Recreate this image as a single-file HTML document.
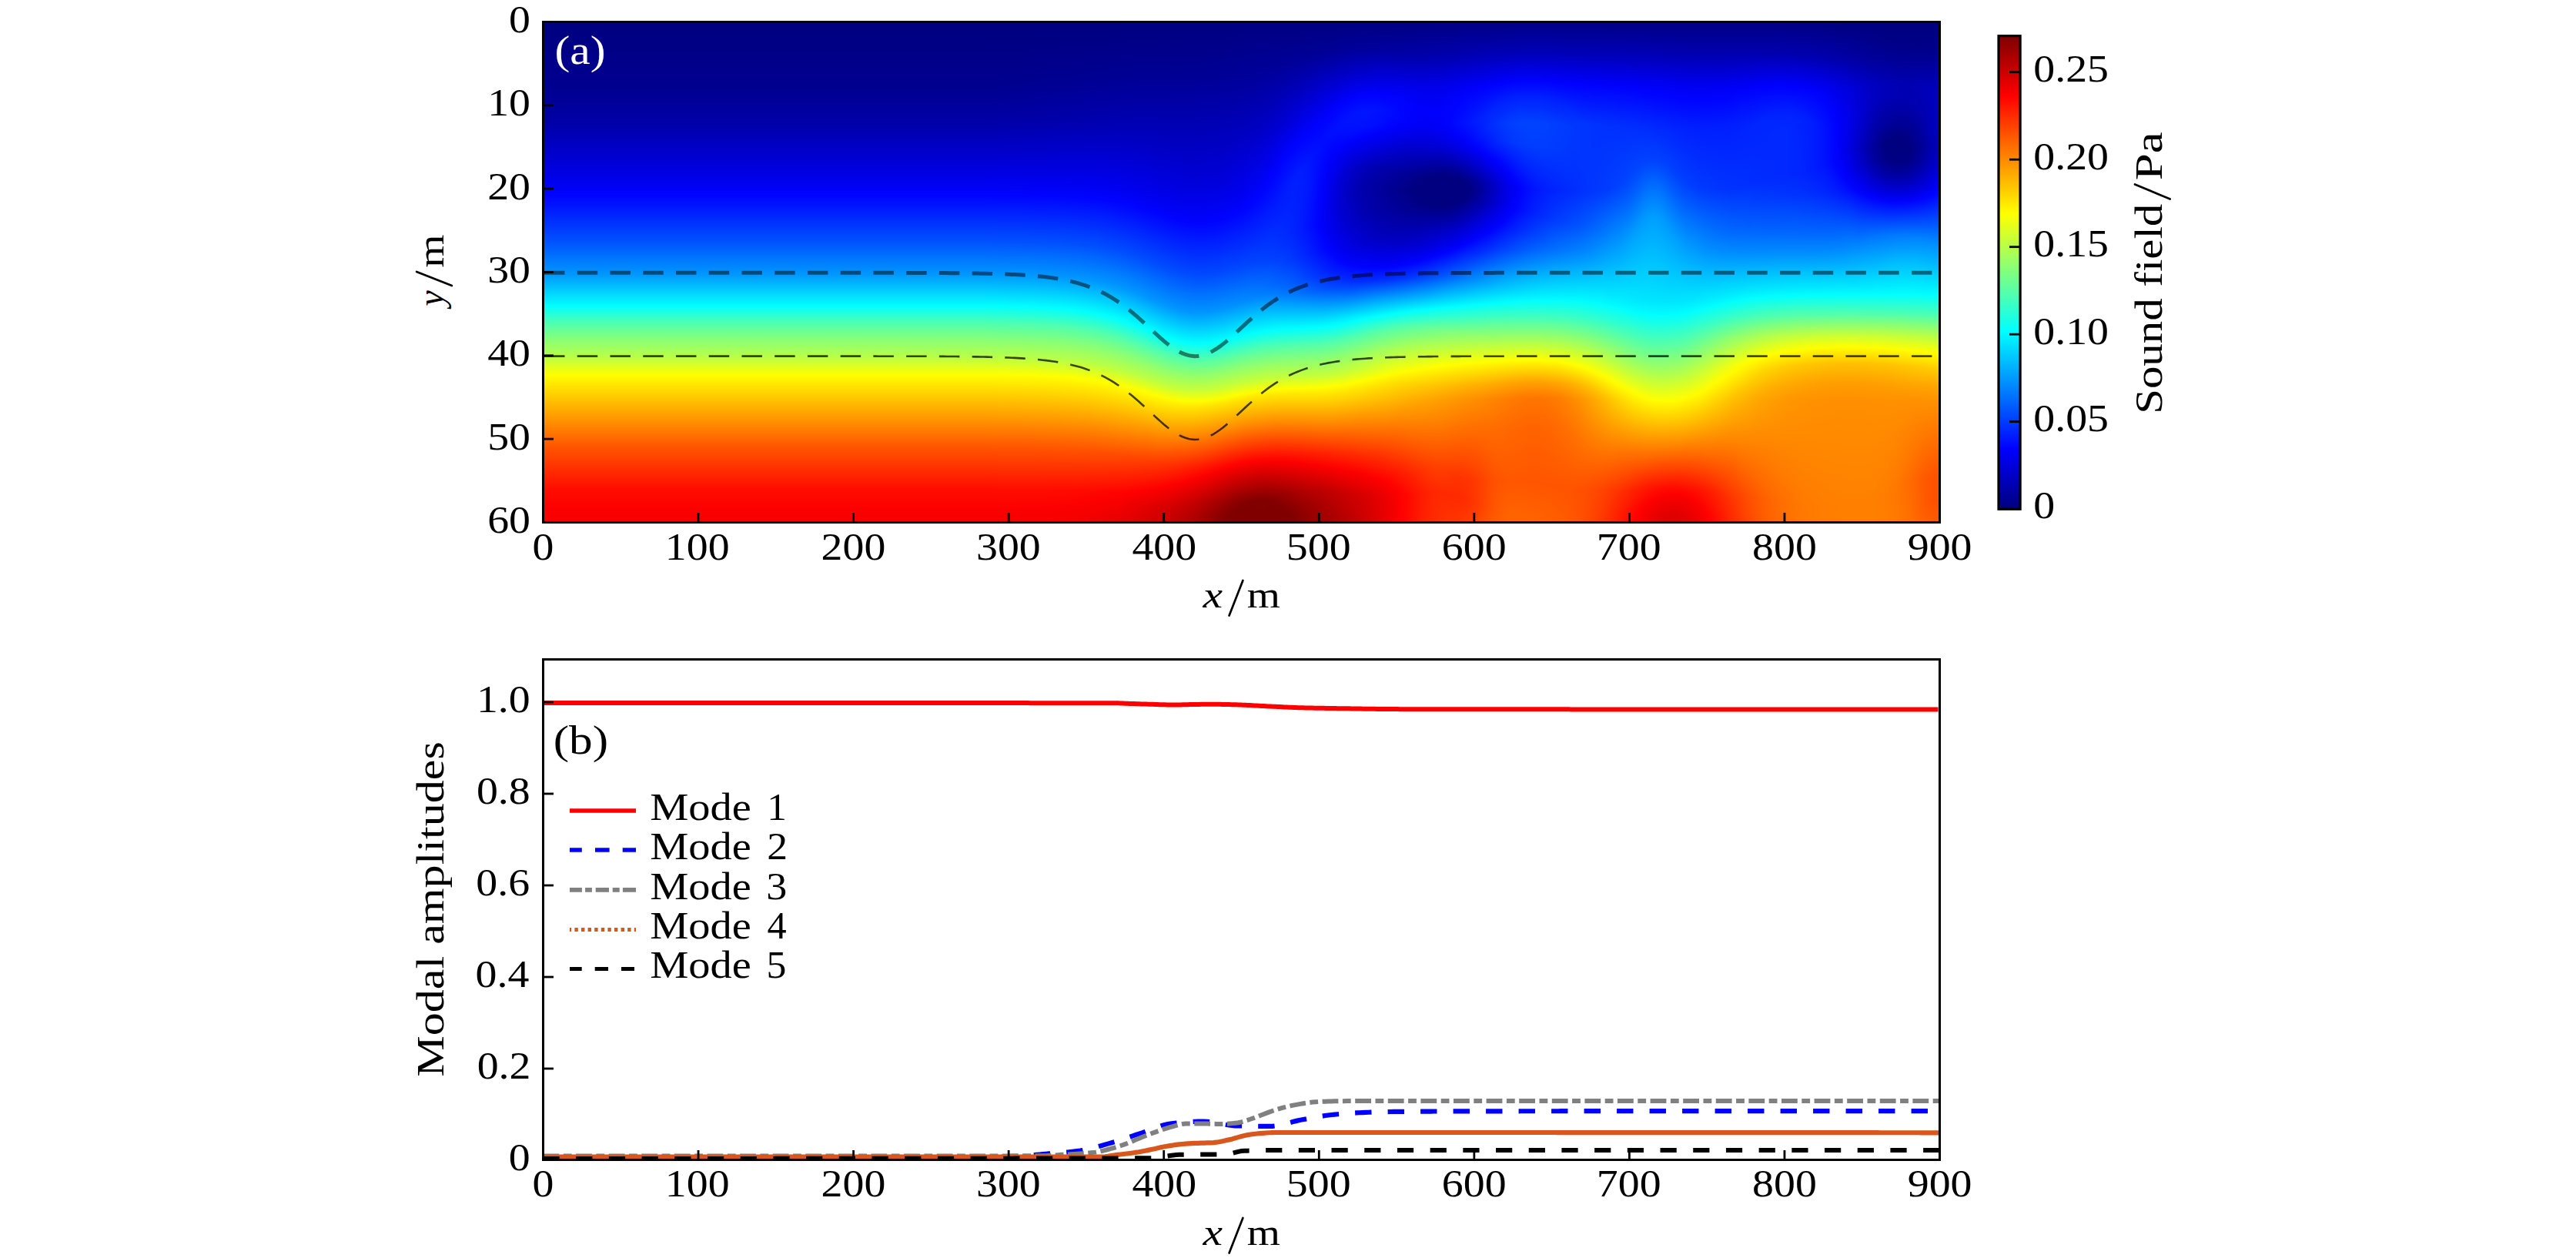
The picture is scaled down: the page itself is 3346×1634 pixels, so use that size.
<!DOCTYPE html><html><head><meta charset="utf-8"><title>Sound field and modal amplitudes</title><style>html,body{margin:0;padding:0;background:#fff;overflow:hidden}svg{display:block}text{font-family:"Liberation Serif",serif}</style></head><body><svg width="3346" height="1634" viewBox="0 0 3346 1634"><rect width="3346" height="1634" fill="#fff"/><defs><linearGradient id="g0" x2="0" y2="1"><stop offset="0.0000" stop-color="#000080"/><stop offset="0.1306" stop-color="#000090"/><stop offset="0.1955" stop-color="#0000a6"/><stop offset="0.3037" stop-color="#0000e4"/><stop offset="0.3454" stop-color="#0003ff"/><stop offset="0.4351" stop-color="#004eff"/><stop offset="0.5046" stop-color="#0097ff"/><stop offset="0.5680" stop-color="#02fffd"/><stop offset="0.6020" stop-color="#4effb1"/><stop offset="0.6360" stop-color="#89ff76"/><stop offset="0.6716" stop-color="#bbff44"/><stop offset="0.7056" stop-color="#fffe00"/><stop offset="0.7890" stop-color="#ff9d00"/><stop offset="0.8509" stop-color="#ff5500"/><stop offset="0.9359" stop-color="#ff0c00"/><stop offset="0.9760" stop-color="#fc0000"/><stop offset="1.0000" stop-color="#f70000"/></linearGradient><linearGradient id="g1" x2="0" y2="1"><stop offset="0.0000" stop-color="#000080"/><stop offset="0.1275" stop-color="#000090"/><stop offset="0.1955" stop-color="#0000a7"/><stop offset="0.3053" stop-color="#0000e6"/><stop offset="0.3454" stop-color="#0003ff"/><stop offset="0.4366" stop-color="#004fff"/><stop offset="0.5046" stop-color="#0096ff"/><stop offset="0.5680" stop-color="#00ffff"/><stop offset="0.6036" stop-color="#4fffb0"/><stop offset="0.6360" stop-color="#88ff77"/><stop offset="0.6716" stop-color="#b9ff46"/><stop offset="0.7056" stop-color="#fffe00"/><stop offset="0.7875" stop-color="#ffa000"/><stop offset="0.8509" stop-color="#ff5600"/><stop offset="0.9359" stop-color="#ff0d00"/><stop offset="0.9760" stop-color="#fc0000"/><stop offset="1.0000" stop-color="#f70000"/></linearGradient><linearGradient id="g2" x2="0" y2="1"><stop offset="0.0000" stop-color="#000080"/><stop offset="0.1260" stop-color="#000090"/><stop offset="0.1955" stop-color="#0000a7"/><stop offset="0.3068" stop-color="#0000e7"/><stop offset="0.3454" stop-color="#0003ff"/><stop offset="0.4366" stop-color="#004fff"/><stop offset="0.5062" stop-color="#0098ff"/><stop offset="0.5680" stop-color="#00ffff"/><stop offset="0.6036" stop-color="#4fffb0"/><stop offset="0.6376" stop-color="#8aff75"/><stop offset="0.6716" stop-color="#b9ff46"/><stop offset="0.7056" stop-color="#ffff00"/><stop offset="0.7890" stop-color="#ff9e00"/><stop offset="0.8509" stop-color="#ff5600"/><stop offset="0.9359" stop-color="#ff0d00"/><stop offset="0.9760" stop-color="#fc0000"/><stop offset="1.0000" stop-color="#f70000"/></linearGradient><linearGradient id="g3" x2="0" y2="1"><stop offset="0.0000" stop-color="#000080"/><stop offset="0.1260" stop-color="#000090"/><stop offset="0.1955" stop-color="#0000a8"/><stop offset="0.3068" stop-color="#0000e7"/><stop offset="0.3454" stop-color="#0003ff"/><stop offset="0.4366" stop-color="#004eff"/><stop offset="0.5062" stop-color="#0098ff"/><stop offset="0.5680" stop-color="#00ffff"/><stop offset="0.6036" stop-color="#4fffb0"/><stop offset="0.6376" stop-color="#89ff76"/><stop offset="0.6731" stop-color="#bcff43"/><stop offset="0.7056" stop-color="#ffff00"/><stop offset="0.7875" stop-color="#ffa000"/><stop offset="0.8509" stop-color="#ff5600"/><stop offset="0.9359" stop-color="#ff0d00"/><stop offset="0.9760" stop-color="#fc0000"/><stop offset="1.0000" stop-color="#f70000"/></linearGradient><linearGradient id="g4" x2="0" y2="1"><stop offset="0.0000" stop-color="#000080"/><stop offset="0.1244" stop-color="#000090"/><stop offset="0.1955" stop-color="#0000a8"/><stop offset="0.3068" stop-color="#0000e7"/><stop offset="0.3454" stop-color="#0003ff"/><stop offset="0.4366" stop-color="#004eff"/><stop offset="0.5062" stop-color="#0098ff"/><stop offset="0.5696" stop-color="#03fffc"/><stop offset="0.6036" stop-color="#4fffb0"/><stop offset="0.6376" stop-color="#89ff76"/><stop offset="0.6731" stop-color="#bcff43"/><stop offset="0.7056" stop-color="#ffff00"/><stop offset="0.7875" stop-color="#ffa000"/><stop offset="0.8509" stop-color="#ff5600"/><stop offset="0.9359" stop-color="#ff0d00"/><stop offset="0.9760" stop-color="#fc0000"/><stop offset="1.0000" stop-color="#f70000"/></linearGradient><linearGradient id="g5" x2="0" y2="1"><stop offset="0.0000" stop-color="#000080"/><stop offset="0.1244" stop-color="#000090"/><stop offset="0.1955" stop-color="#0000a8"/><stop offset="0.3068" stop-color="#0000e7"/><stop offset="0.3454" stop-color="#0003ff"/><stop offset="0.4366" stop-color="#004eff"/><stop offset="0.5062" stop-color="#0098ff"/><stop offset="0.5696" stop-color="#02fffd"/><stop offset="0.6036" stop-color="#4effb1"/><stop offset="0.6376" stop-color="#89ff76"/><stop offset="0.6731" stop-color="#bbff44"/><stop offset="0.7071" stop-color="#fffd00"/><stop offset="0.7906" stop-color="#ff9c00"/><stop offset="0.8509" stop-color="#ff5600"/><stop offset="0.9359" stop-color="#ff0d00"/><stop offset="0.9760" stop-color="#fc0000"/><stop offset="1.0000" stop-color="#f70000"/></linearGradient><linearGradient id="g6" x2="0" y2="1"><stop offset="0.0000" stop-color="#000080"/><stop offset="0.1229" stop-color="#000090"/><stop offset="0.1955" stop-color="#0000a8"/><stop offset="0.3083" stop-color="#0000e8"/><stop offset="0.3454" stop-color="#0003ff"/><stop offset="0.4366" stop-color="#004eff"/><stop offset="0.5062" stop-color="#0097ff"/><stop offset="0.5696" stop-color="#02fffd"/><stop offset="0.6036" stop-color="#4effb1"/><stop offset="0.6376" stop-color="#89ff76"/><stop offset="0.6731" stop-color="#bbff44"/><stop offset="0.7071" stop-color="#fffe00"/><stop offset="0.7890" stop-color="#ff9e00"/><stop offset="0.8509" stop-color="#ff5600"/><stop offset="0.9359" stop-color="#ff0d00"/><stop offset="0.9760" stop-color="#fc0000"/><stop offset="1.0000" stop-color="#f70000"/></linearGradient><linearGradient id="g7" x2="0" y2="1"><stop offset="0.0000" stop-color="#000080"/><stop offset="0.1213" stop-color="#000090"/><stop offset="0.1955" stop-color="#0000a8"/><stop offset="0.3083" stop-color="#0000e8"/><stop offset="0.3454" stop-color="#0003ff"/><stop offset="0.4366" stop-color="#004eff"/><stop offset="0.5062" stop-color="#0097ff"/><stop offset="0.5696" stop-color="#01fffe"/><stop offset="0.6051" stop-color="#50ffaf"/><stop offset="0.6391" stop-color="#8aff75"/><stop offset="0.6731" stop-color="#baff45"/><stop offset="0.7071" stop-color="#fffe00"/><stop offset="0.7890" stop-color="#ff9f00"/><stop offset="0.8509" stop-color="#ff5600"/><stop offset="0.9359" stop-color="#ff0d00"/><stop offset="0.9745" stop-color="#fc0000"/><stop offset="1.0000" stop-color="#f60000"/></linearGradient><linearGradient id="g8" x2="0" y2="1"><stop offset="0.0000" stop-color="#000080"/><stop offset="0.1213" stop-color="#000090"/><stop offset="0.1955" stop-color="#0000a9"/><stop offset="0.3099" stop-color="#0000e9"/><stop offset="0.3454" stop-color="#0003ff"/><stop offset="0.4366" stop-color="#004eff"/><stop offset="0.5062" stop-color="#0097ff"/><stop offset="0.5696" stop-color="#01fffe"/><stop offset="0.6051" stop-color="#50ffaf"/><stop offset="0.6391" stop-color="#8aff75"/><stop offset="0.6731" stop-color="#baff45"/><stop offset="0.7071" stop-color="#fffe00"/><stop offset="0.7875" stop-color="#ffa100"/><stop offset="0.8509" stop-color="#ff5600"/><stop offset="0.9359" stop-color="#ff0d00"/><stop offset="0.9745" stop-color="#fc0000"/><stop offset="1.0000" stop-color="#f60000"/></linearGradient><linearGradient id="g9" x2="0" y2="1"><stop offset="0.0000" stop-color="#000080"/><stop offset="0.1198" stop-color="#000090"/><stop offset="0.1955" stop-color="#0000a9"/><stop offset="0.3099" stop-color="#0000e9"/><stop offset="0.3454" stop-color="#0002ff"/><stop offset="0.4366" stop-color="#004dff"/><stop offset="0.5077" stop-color="#0099ff"/><stop offset="0.5696" stop-color="#00ffff"/><stop offset="0.6051" stop-color="#4fffb0"/><stop offset="0.6391" stop-color="#8aff75"/><stop offset="0.6731" stop-color="#b9ff46"/><stop offset="0.7071" stop-color="#fffe00"/><stop offset="0.7890" stop-color="#ff9f00"/><stop offset="0.8509" stop-color="#ff5600"/><stop offset="0.9359" stop-color="#ff0d00"/><stop offset="0.9745" stop-color="#fc0000"/><stop offset="1.0000" stop-color="#f60000"/></linearGradient><linearGradient id="g10" x2="0" y2="1"><stop offset="0.0000" stop-color="#000080"/><stop offset="0.1198" stop-color="#000091"/><stop offset="0.1955" stop-color="#0000a9"/><stop offset="0.3099" stop-color="#0000e9"/><stop offset="0.3454" stop-color="#0002ff"/><stop offset="0.4382" stop-color="#004fff"/><stop offset="0.5077" stop-color="#0098ff"/><stop offset="0.5711" stop-color="#03fffc"/><stop offset="0.6051" stop-color="#4fffb0"/><stop offset="0.6391" stop-color="#89ff76"/><stop offset="0.6747" stop-color="#bcff43"/><stop offset="0.7071" stop-color="#ffff00"/><stop offset="0.7890" stop-color="#ff9f00"/><stop offset="0.8509" stop-color="#ff5700"/><stop offset="0.9359" stop-color="#ff0d00"/><stop offset="0.9745" stop-color="#fc0000"/><stop offset="1.0000" stop-color="#f60000"/></linearGradient><linearGradient id="g11" x2="0" y2="1"><stop offset="0.0000" stop-color="#000080"/><stop offset="0.1182" stop-color="#000091"/><stop offset="0.1955" stop-color="#0000aa"/><stop offset="0.3099" stop-color="#0000e9"/><stop offset="0.3470" stop-color="#0003ff"/><stop offset="0.4382" stop-color="#004eff"/><stop offset="0.5077" stop-color="#0097ff"/><stop offset="0.5711" stop-color="#02fffd"/><stop offset="0.6051" stop-color="#4effb1"/><stop offset="0.6391" stop-color="#89ff76"/><stop offset="0.6747" stop-color="#bbff44"/><stop offset="0.7087" stop-color="#fffd00"/><stop offset="0.7906" stop-color="#ff9e00"/><stop offset="0.8524" stop-color="#ff5500"/><stop offset="0.9374" stop-color="#ff0c00"/><stop offset="0.9745" stop-color="#fc0000"/><stop offset="1.0000" stop-color="#f60000"/></linearGradient><linearGradient id="g12" x2="0" y2="1"><stop offset="0.0000" stop-color="#000080"/><stop offset="0.1182" stop-color="#000091"/><stop offset="0.1971" stop-color="#0000ab"/><stop offset="0.3114" stop-color="#0000ea"/><stop offset="0.3470" stop-color="#0003ff"/><stop offset="0.4382" stop-color="#004eff"/><stop offset="0.5077" stop-color="#0097ff"/><stop offset="0.5711" stop-color="#01fffe"/><stop offset="0.6066" stop-color="#50ffaf"/><stop offset="0.6406" stop-color="#8aff75"/><stop offset="0.6747" stop-color="#baff45"/><stop offset="0.7087" stop-color="#fffe00"/><stop offset="0.7890" stop-color="#ffa000"/><stop offset="0.8524" stop-color="#ff5500"/><stop offset="0.9374" stop-color="#ff0c00"/><stop offset="0.9745" stop-color="#fc0000"/><stop offset="1.0000" stop-color="#f60000"/></linearGradient><linearGradient id="g13" x2="0" y2="1"><stop offset="0.0000" stop-color="#000080"/><stop offset="0.1167" stop-color="#000091"/><stop offset="0.1971" stop-color="#0000ab"/><stop offset="0.3130" stop-color="#0000eb"/><stop offset="0.3470" stop-color="#0003ff"/><stop offset="0.4382" stop-color="#004dff"/><stop offset="0.5093" stop-color="#0098ff"/><stop offset="0.5726" stop-color="#03fffc"/><stop offset="0.6066" stop-color="#4fffb0"/><stop offset="0.6406" stop-color="#89ff76"/><stop offset="0.6747" stop-color="#b9ff46"/><stop offset="0.7087" stop-color="#fffe00"/><stop offset="0.7890" stop-color="#ffa000"/><stop offset="0.8524" stop-color="#ff5600"/><stop offset="0.9374" stop-color="#ff0c00"/><stop offset="0.9730" stop-color="#fc0000"/><stop offset="1.0000" stop-color="#f60000"/></linearGradient><linearGradient id="g14" x2="0" y2="1"><stop offset="0.0000" stop-color="#000080"/><stop offset="0.1151" stop-color="#000091"/><stop offset="0.1971" stop-color="#0000ac"/><stop offset="0.3130" stop-color="#0000eb"/><stop offset="0.3470" stop-color="#0003ff"/><stop offset="0.4397" stop-color="#004fff"/><stop offset="0.5093" stop-color="#0097ff"/><stop offset="0.5726" stop-color="#02fffd"/><stop offset="0.6066" stop-color="#4effb1"/><stop offset="0.6406" stop-color="#89ff76"/><stop offset="0.6762" stop-color="#bbff44"/><stop offset="0.7087" stop-color="#ffff00"/><stop offset="0.7890" stop-color="#ffa100"/><stop offset="0.8524" stop-color="#ff5600"/><stop offset="0.9374" stop-color="#ff0b00"/><stop offset="0.9730" stop-color="#fc0000"/><stop offset="1.0000" stop-color="#f50000"/></linearGradient><linearGradient id="g15" x2="0" y2="1"><stop offset="0.0000" stop-color="#000080"/><stop offset="0.1136" stop-color="#000091"/><stop offset="0.1971" stop-color="#0000ac"/><stop offset="0.3145" stop-color="#0000ec"/><stop offset="0.3470" stop-color="#0003ff"/><stop offset="0.4397" stop-color="#004eff"/><stop offset="0.5093" stop-color="#0096ff"/><stop offset="0.5726" stop-color="#00ffff"/><stop offset="0.6082" stop-color="#4fffb0"/><stop offset="0.6422" stop-color="#8aff75"/><stop offset="0.6762" stop-color="#baff45"/><stop offset="0.7102" stop-color="#fffe00"/><stop offset="0.7890" stop-color="#ffa100"/><stop offset="0.8524" stop-color="#ff5600"/><stop offset="0.9374" stop-color="#ff0b00"/><stop offset="0.9730" stop-color="#fb0000"/><stop offset="1.0000" stop-color="#f50000"/></linearGradient><linearGradient id="g16" x2="0" y2="1"><stop offset="0.0000" stop-color="#000080"/><stop offset="0.1136" stop-color="#000091"/><stop offset="0.1971" stop-color="#0000ac"/><stop offset="0.3145" stop-color="#0000ec"/><stop offset="0.3485" stop-color="#0004ff"/><stop offset="0.4397" stop-color="#004dff"/><stop offset="0.5108" stop-color="#0098ff"/><stop offset="0.5742" stop-color="#02fffd"/><stop offset="0.6097" stop-color="#51ffae"/><stop offset="0.6422" stop-color="#89ff76"/><stop offset="0.6777" stop-color="#bbff44"/><stop offset="0.7102" stop-color="#ffff00"/><stop offset="0.7890" stop-color="#ffa200"/><stop offset="0.8539" stop-color="#ff5500"/><stop offset="0.9374" stop-color="#ff0b00"/><stop offset="0.9714" stop-color="#fc0000"/><stop offset="1.0000" stop-color="#f40000"/></linearGradient><linearGradient id="g17" x2="0" y2="1"><stop offset="0.0000" stop-color="#000080"/><stop offset="0.1136" stop-color="#000091"/><stop offset="0.1986" stop-color="#0000ad"/><stop offset="0.3161" stop-color="#0000ed"/><stop offset="0.3485" stop-color="#0003ff"/><stop offset="0.4413" stop-color="#004eff"/><stop offset="0.5108" stop-color="#0096ff"/><stop offset="0.5742" stop-color="#00ffff"/><stop offset="0.6097" stop-color="#4fffb0"/><stop offset="0.6437" stop-color="#8aff75"/><stop offset="0.6777" stop-color="#baff45"/><stop offset="0.7117" stop-color="#fffe00"/><stop offset="0.7906" stop-color="#ffa100"/><stop offset="0.8539" stop-color="#ff5500"/><stop offset="0.9374" stop-color="#ff0b00"/><stop offset="0.9699" stop-color="#fc0000"/><stop offset="1.0000" stop-color="#f40000"/></linearGradient><linearGradient id="g18" x2="0" y2="1"><stop offset="0.0000" stop-color="#000080"/><stop offset="0.1121" stop-color="#000091"/><stop offset="0.1986" stop-color="#0000ae"/><stop offset="0.3176" stop-color="#0000ee"/><stop offset="0.3485" stop-color="#0003ff"/><stop offset="0.4413" stop-color="#004dff"/><stop offset="0.5124" stop-color="#0097ff"/><stop offset="0.5757" stop-color="#01fffe"/><stop offset="0.6113" stop-color="#50ffaf"/><stop offset="0.6453" stop-color="#8aff75"/><stop offset="0.6793" stop-color="#bbff44"/><stop offset="0.7117" stop-color="#ffff00"/><stop offset="0.7890" stop-color="#ffa300"/><stop offset="0.8555" stop-color="#ff5400"/><stop offset="0.9374" stop-color="#ff0b00"/><stop offset="0.9683" stop-color="#fc0000"/><stop offset="1.0000" stop-color="#f30000"/></linearGradient><linearGradient id="g19" x2="0" y2="1"><stop offset="0.0000" stop-color="#000080"/><stop offset="0.1105" stop-color="#000091"/><stop offset="0.1986" stop-color="#0000ae"/><stop offset="0.3192" stop-color="#0000ee"/><stop offset="0.3501" stop-color="#0004ff"/><stop offset="0.4428" stop-color="#004eff"/><stop offset="0.5139" stop-color="#0098ff"/><stop offset="0.5773" stop-color="#02fffd"/><stop offset="0.6128" stop-color="#51ffae"/><stop offset="0.6453" stop-color="#89ff76"/><stop offset="0.6808" stop-color="#bcff43"/><stop offset="0.7133" stop-color="#fffe00"/><stop offset="0.7890" stop-color="#ffa400"/><stop offset="0.8555" stop-color="#ff5400"/><stop offset="0.9389" stop-color="#ff0a00"/><stop offset="0.9683" stop-color="#fc0000"/><stop offset="1.0000" stop-color="#f30000"/></linearGradient><linearGradient id="g20" x2="0" y2="1"><stop offset="0.0000" stop-color="#000080"/><stop offset="0.1105" stop-color="#000092"/><stop offset="0.2002" stop-color="#0000af"/><stop offset="0.3207" stop-color="#0000ef"/><stop offset="0.3501" stop-color="#0003ff"/><stop offset="0.4428" stop-color="#004dff"/><stop offset="0.5139" stop-color="#0096ff"/><stop offset="0.5788" stop-color="#03fffc"/><stop offset="0.6144" stop-color="#51ffae"/><stop offset="0.6468" stop-color="#89ff76"/><stop offset="0.6808" stop-color="#baff45"/><stop offset="0.7148" stop-color="#fffd00"/><stop offset="0.7921" stop-color="#ffa100"/><stop offset="0.8555" stop-color="#ff5400"/><stop offset="0.9389" stop-color="#ff0900"/><stop offset="0.9652" stop-color="#fc0000"/><stop offset="1.0000" stop-color="#f20000"/></linearGradient><linearGradient id="g21" x2="0" y2="1"><stop offset="0.0000" stop-color="#000080"/><stop offset="0.1090" stop-color="#000092"/><stop offset="0.2002" stop-color="#0000b0"/><stop offset="0.3207" stop-color="#0000ef"/><stop offset="0.3516" stop-color="#0004ff"/><stop offset="0.4444" stop-color="#004dff"/><stop offset="0.5155" stop-color="#0097ff"/><stop offset="0.5804" stop-color="#03fffc"/><stop offset="0.6144" stop-color="#4fffb0"/><stop offset="0.6484" stop-color="#8aff75"/><stop offset="0.6824" stop-color="#baff45"/><stop offset="0.7148" stop-color="#ffff00"/><stop offset="0.7952" stop-color="#ff9e00"/><stop offset="0.8570" stop-color="#ff5300"/><stop offset="0.9389" stop-color="#ff0900"/><stop offset="0.9637" stop-color="#fc0000"/><stop offset="1.0000" stop-color="#f10000"/></linearGradient><linearGradient id="g22" x2="0" y2="1"><stop offset="0.0000" stop-color="#000080"/><stop offset="0.1090" stop-color="#000092"/><stop offset="0.2017" stop-color="#0000b1"/><stop offset="0.3238" stop-color="#0000f0"/><stop offset="0.3516" stop-color="#0003ff"/><stop offset="0.4459" stop-color="#004eff"/><stop offset="0.5170" stop-color="#0097ff"/><stop offset="0.5819" stop-color="#03fffc"/><stop offset="0.6175" stop-color="#52ffad"/><stop offset="0.6499" stop-color="#8aff75"/><stop offset="0.6839" stop-color="#baff45"/><stop offset="0.7164" stop-color="#fffe00"/><stop offset="0.7906" stop-color="#ffa500"/><stop offset="0.8586" stop-color="#ff5200"/><stop offset="0.9389" stop-color="#ff0900"/><stop offset="0.9606" stop-color="#fc0000"/><stop offset="1.0000" stop-color="#f00000"/></linearGradient><linearGradient id="g23" x2="0" y2="1"><stop offset="0.0000" stop-color="#000080"/><stop offset="0.1090" stop-color="#000092"/><stop offset="0.2032" stop-color="#0000b2"/><stop offset="0.3238" stop-color="#0000f0"/><stop offset="0.3532" stop-color="#0003ff"/><stop offset="0.4474" stop-color="#004eff"/><stop offset="0.5185" stop-color="#0096ff"/><stop offset="0.5835" stop-color="#02fffd"/><stop offset="0.6190" stop-color="#51ffae"/><stop offset="0.6515" stop-color="#8aff75"/><stop offset="0.6855" stop-color="#baff45"/><stop offset="0.7179" stop-color="#fffe00"/><stop offset="0.7906" stop-color="#ffa600"/><stop offset="0.8586" stop-color="#ff5200"/><stop offset="0.9405" stop-color="#ff0700"/><stop offset="0.9590" stop-color="#fc0000"/><stop offset="1.0000" stop-color="#ef0000"/></linearGradient><linearGradient id="g24" x2="0" y2="1"><stop offset="0.0000" stop-color="#000080"/><stop offset="0.1074" stop-color="#000092"/><stop offset="0.2032" stop-color="#0000b2"/><stop offset="0.3253" stop-color="#0000f0"/><stop offset="0.3547" stop-color="#0004ff"/><stop offset="0.4490" stop-color="#004eff"/><stop offset="0.5216" stop-color="#0098ff"/><stop offset="0.5850" stop-color="#01fffe"/><stop offset="0.6206" stop-color="#51ffae"/><stop offset="0.6530" stop-color="#89ff76"/><stop offset="0.6870" stop-color="#baff45"/><stop offset="0.7195" stop-color="#fffe00"/><stop offset="0.7937" stop-color="#ffa400"/><stop offset="0.8601" stop-color="#ff5100"/><stop offset="0.9405" stop-color="#ff0600"/><stop offset="0.9560" stop-color="#fc0000"/><stop offset="1.0000" stop-color="#ee0000"/></linearGradient><linearGradient id="g25" x2="0" y2="1"><stop offset="0.0000" stop-color="#000080"/><stop offset="0.1074" stop-color="#000092"/><stop offset="0.2048" stop-color="#0000b3"/><stop offset="0.3269" stop-color="#0000f0"/><stop offset="0.3563" stop-color="#0004ff"/><stop offset="0.4505" stop-color="#004dff"/><stop offset="0.5232" stop-color="#0097ff"/><stop offset="0.5866" stop-color="#00ffff"/><stop offset="0.6221" stop-color="#4fffb0"/><stop offset="0.6561" stop-color="#8bff74"/><stop offset="0.6901" stop-color="#bdff42"/><stop offset="0.7210" stop-color="#ffff00"/><stop offset="0.7998" stop-color="#ff9d00"/><stop offset="0.8617" stop-color="#ff5000"/><stop offset="0.9405" stop-color="#ff0600"/><stop offset="0.9560" stop-color="#fb0000"/><stop offset="1.0000" stop-color="#ec0000"/></linearGradient><linearGradient id="g26" x2="0" y2="1"><stop offset="0.0000" stop-color="#000080"/><stop offset="0.1074" stop-color="#000093"/><stop offset="0.2063" stop-color="#0000b4"/><stop offset="0.3284" stop-color="#0000f0"/><stop offset="0.3563" stop-color="#0003ff"/><stop offset="0.4521" stop-color="#004dff"/><stop offset="0.5247" stop-color="#0096ff"/><stop offset="0.5896" stop-color="#02fffd"/><stop offset="0.6252" stop-color="#51ffae"/><stop offset="0.6577" stop-color="#8aff75"/><stop offset="0.6917" stop-color="#bbff44"/><stop offset="0.7241" stop-color="#fffd00"/><stop offset="0.7952" stop-color="#ffa500"/><stop offset="0.8632" stop-color="#ff4e00"/><stop offset="0.9420" stop-color="#ff0400"/><stop offset="0.9637" stop-color="#f70000"/><stop offset="1.0000" stop-color="#eb0000"/></linearGradient><linearGradient id="g27" x2="0" y2="1"><stop offset="0.0000" stop-color="#000081"/><stop offset="0.1074" stop-color="#000093"/><stop offset="0.2079" stop-color="#0000b5"/><stop offset="0.3300" stop-color="#0000f1"/><stop offset="0.3594" stop-color="#0004ff"/><stop offset="0.4536" stop-color="#004cff"/><stop offset="0.5278" stop-color="#0097ff"/><stop offset="0.5927" stop-color="#03fffc"/><stop offset="0.6283" stop-color="#52ffad"/><stop offset="0.6607" stop-color="#8bff74"/><stop offset="0.6932" stop-color="#baff45"/><stop offset="0.7257" stop-color="#fffd00"/><stop offset="0.7952" stop-color="#ffa600"/><stop offset="0.8648" stop-color="#ff4d00"/><stop offset="0.9436" stop-color="#ff0200"/><stop offset="1.0000" stop-color="#e90000"/></linearGradient><linearGradient id="g28" x2="0" y2="1"><stop offset="0.0000" stop-color="#000081"/><stop offset="0.1074" stop-color="#000093"/><stop offset="0.2110" stop-color="#0000b7"/><stop offset="0.3315" stop-color="#0000f0"/><stop offset="0.3609" stop-color="#0003ff"/><stop offset="0.4567" stop-color="#004dff"/><stop offset="0.5309" stop-color="#0097ff"/><stop offset="0.5943" stop-color="#00ffff"/><stop offset="0.6298" stop-color="#50ffaf"/><stop offset="0.6638" stop-color="#8bff74"/><stop offset="0.6963" stop-color="#bbff44"/><stop offset="0.7272" stop-color="#fffe00"/><stop offset="0.8060" stop-color="#ff9a00"/><stop offset="0.8663" stop-color="#ff4c00"/><stop offset="0.9436" stop-color="#ff0100"/><stop offset="1.0000" stop-color="#e70000"/></linearGradient><linearGradient id="g29" x2="0" y2="1"><stop offset="0.0000" stop-color="#000081"/><stop offset="0.1074" stop-color="#000093"/><stop offset="0.2125" stop-color="#0000b7"/><stop offset="0.3315" stop-color="#0000ef"/><stop offset="0.3624" stop-color="#0003ff"/><stop offset="0.4598" stop-color="#004dff"/><stop offset="0.5340" stop-color="#0098ff"/><stop offset="0.5974" stop-color="#00ffff"/><stop offset="0.6329" stop-color="#50ffaf"/><stop offset="0.6654" stop-color="#8aff75"/><stop offset="0.6994" stop-color="#bdff42"/><stop offset="0.7303" stop-color="#fffd00"/><stop offset="0.7998" stop-color="#ffa400"/><stop offset="0.8679" stop-color="#ff4a00"/><stop offset="0.9436" stop-color="#ff0000"/><stop offset="0.9760" stop-color="#ed0000"/><stop offset="1.0000" stop-color="#e50000"/></linearGradient><linearGradient id="g30" x2="0" y2="1"><stop offset="0.0000" stop-color="#000081"/><stop offset="0.1074" stop-color="#000094"/><stop offset="0.2141" stop-color="#0000b8"/><stop offset="0.3331" stop-color="#0000ef"/><stop offset="0.3655" stop-color="#0004ff"/><stop offset="0.4629" stop-color="#004dff"/><stop offset="0.5371" stop-color="#0097ff"/><stop offset="0.6020" stop-color="#03fffc"/><stop offset="0.6360" stop-color="#50ffaf"/><stop offset="0.6685" stop-color="#8aff75"/><stop offset="0.7025" stop-color="#bdff42"/><stop offset="0.7318" stop-color="#ffff00"/><stop offset="0.8199" stop-color="#ff8a00"/><stop offset="0.8709" stop-color="#ff4700"/><stop offset="0.9420" stop-color="#ff0000"/><stop offset="0.9699" stop-color="#ed0000"/><stop offset="1.0000" stop-color="#e20000"/></linearGradient><linearGradient id="g31" x2="0" y2="1"><stop offset="0.0000" stop-color="#000081"/><stop offset="0.1074" stop-color="#000094"/><stop offset="0.2172" stop-color="#0000b9"/><stop offset="0.3331" stop-color="#0000ee"/><stop offset="0.3671" stop-color="#0003ff"/><stop offset="0.4645" stop-color="#004bff"/><stop offset="0.5402" stop-color="#0097ff"/><stop offset="0.6051" stop-color="#02fffd"/><stop offset="0.6406" stop-color="#52ffad"/><stop offset="0.6731" stop-color="#8cff73"/><stop offset="0.7056" stop-color="#beff41"/><stop offset="0.7349" stop-color="#fffd00"/><stop offset="0.8138" stop-color="#ff9400"/><stop offset="0.8725" stop-color="#ff4600"/><stop offset="0.9405" stop-color="#ff0000"/><stop offset="0.9683" stop-color="#ec0000"/><stop offset="1.0000" stop-color="#e00000"/></linearGradient><linearGradient id="g32" x2="0" y2="1"><stop offset="0.0000" stop-color="#000081"/><stop offset="0.1074" stop-color="#000094"/><stop offset="0.2202" stop-color="#0000bb"/><stop offset="0.3346" stop-color="#0000ed"/><stop offset="0.3702" stop-color="#0003ff"/><stop offset="0.4691" stop-color="#004dff"/><stop offset="0.5448" stop-color="#0098ff"/><stop offset="0.6082" stop-color="#01fffe"/><stop offset="0.6437" stop-color="#52ffad"/><stop offset="0.6762" stop-color="#8cff73"/><stop offset="0.7087" stop-color="#bfff40"/><stop offset="0.7380" stop-color="#fffc00"/><stop offset="0.8122" stop-color="#ff9900"/><stop offset="0.8740" stop-color="#ff4400"/><stop offset="0.9389" stop-color="#ff0000"/><stop offset="0.9683" stop-color="#ea0000"/><stop offset="1.0000" stop-color="#dd0000"/></linearGradient><linearGradient id="g33" x2="0" y2="1"><stop offset="0.0000" stop-color="#000081"/><stop offset="0.1074" stop-color="#000094"/><stop offset="0.2218" stop-color="#0000bb"/><stop offset="0.3362" stop-color="#0000ed"/><stop offset="0.3733" stop-color="#0003ff"/><stop offset="0.4722" stop-color="#004cff"/><stop offset="0.5479" stop-color="#0097ff"/><stop offset="0.6113" stop-color="#00ffff"/><stop offset="0.6468" stop-color="#51ffae"/><stop offset="0.6793" stop-color="#8cff73"/><stop offset="0.7117" stop-color="#bfff40"/><stop offset="0.7396" stop-color="#ffff00"/><stop offset="0.8493" stop-color="#ff6500"/><stop offset="0.8864" stop-color="#ff3600"/><stop offset="0.9389" stop-color="#fd0000"/><stop offset="0.9699" stop-color="#e60000"/><stop offset="1.0000" stop-color="#da0000"/></linearGradient><linearGradient id="g34" x2="0" y2="1"><stop offset="0.0000" stop-color="#000081"/><stop offset="0.1074" stop-color="#000094"/><stop offset="0.2249" stop-color="#0000bc"/><stop offset="0.3377" stop-color="#0000ec"/><stop offset="0.3764" stop-color="#0003ff"/><stop offset="0.4768" stop-color="#004dff"/><stop offset="0.5526" stop-color="#0098ff"/><stop offset="0.6159" stop-color="#01fffe"/><stop offset="0.6515" stop-color="#53ffac"/><stop offset="0.6824" stop-color="#8cff73"/><stop offset="0.7148" stop-color="#bfff40"/><stop offset="0.7427" stop-color="#fffe00"/><stop offset="0.8416" stop-color="#ff7100"/><stop offset="0.8818" stop-color="#ff3b00"/><stop offset="0.9374" stop-color="#fd0000"/><stop offset="0.9714" stop-color="#e30000"/><stop offset="1.0000" stop-color="#d70000"/></linearGradient><linearGradient id="g35" x2="0" y2="1"><stop offset="0.0000" stop-color="#000081"/><stop offset="0.1074" stop-color="#000094"/><stop offset="0.2295" stop-color="#0000be"/><stop offset="0.3377" stop-color="#0000eb"/><stop offset="0.3794" stop-color="#0003ff"/><stop offset="0.4799" stop-color="#004cff"/><stop offset="0.5556" stop-color="#0096ff"/><stop offset="0.6190" stop-color="#00ffff"/><stop offset="0.6546" stop-color="#52ffad"/><stop offset="0.6855" stop-color="#8cff73"/><stop offset="0.7179" stop-color="#bfff40"/><stop offset="0.7457" stop-color="#fffd00"/><stop offset="0.8385" stop-color="#ff7700"/><stop offset="0.8818" stop-color="#ff3a00"/><stop offset="0.9359" stop-color="#fd0000"/><stop offset="0.9730" stop-color="#df0000"/><stop offset="1.0000" stop-color="#d40000"/></linearGradient><linearGradient id="g36" x2="0" y2="1"><stop offset="0.0000" stop-color="#000081"/><stop offset="0.1059" stop-color="#000094"/><stop offset="0.2326" stop-color="#0000be"/><stop offset="0.3393" stop-color="#0000ea"/><stop offset="0.3825" stop-color="#0003ff"/><stop offset="0.4845" stop-color="#004dff"/><stop offset="0.5603" stop-color="#0097ff"/><stop offset="0.6236" stop-color="#02fffd"/><stop offset="0.6577" stop-color="#51ffae"/><stop offset="0.6901" stop-color="#8eff71"/><stop offset="0.7210" stop-color="#c0ff3f"/><stop offset="0.7473" stop-color="#ffff00"/><stop offset="0.7751" stop-color="#ffd700"/><stop offset="0.8818" stop-color="#ff3a00"/><stop offset="0.9343" stop-color="#fc0000"/><stop offset="0.9745" stop-color="#db0000"/><stop offset="1.0000" stop-color="#d10000"/></linearGradient><linearGradient id="g37" x2="0" y2="1"><stop offset="0.0000" stop-color="#000081"/><stop offset="0.1059" stop-color="#000094"/><stop offset="0.2357" stop-color="#0000bf"/><stop offset="0.3408" stop-color="#0000e9"/><stop offset="0.3856" stop-color="#0003ff"/><stop offset="0.4876" stop-color="#004cff"/><stop offset="0.5634" stop-color="#0096ff"/><stop offset="0.6267" stop-color="#00ffff"/><stop offset="0.6623" stop-color="#54ffab"/><stop offset="0.6932" stop-color="#8eff71"/><stop offset="0.7241" stop-color="#c1ff3e"/><stop offset="0.7504" stop-color="#fffd00"/><stop offset="0.8833" stop-color="#ff3700"/><stop offset="0.9312" stop-color="#fe0000"/><stop offset="0.9745" stop-color="#d70000"/><stop offset="1.0000" stop-color="#cd0000"/></linearGradient><linearGradient id="g38" x2="0" y2="1"><stop offset="0.0000" stop-color="#000081"/><stop offset="0.1043" stop-color="#000094"/><stop offset="0.2388" stop-color="#0000c0"/><stop offset="0.3423" stop-color="#0000e9"/><stop offset="0.3887" stop-color="#0003ff"/><stop offset="0.4907" stop-color="#004cff"/><stop offset="0.5680" stop-color="#0097ff"/><stop offset="0.6298" stop-color="#00ffff"/><stop offset="0.6654" stop-color="#54ffab"/><stop offset="0.6963" stop-color="#8fff70"/><stop offset="0.7257" stop-color="#bfff40"/><stop offset="0.7519" stop-color="#ffff00"/><stop offset="0.7658" stop-color="#ffe800"/><stop offset="0.8416" stop-color="#ff7500"/><stop offset="0.8864" stop-color="#ff3200"/><stop offset="0.9297" stop-color="#fd0000"/><stop offset="0.9760" stop-color="#d30000"/><stop offset="1.0000" stop-color="#c90000"/></linearGradient><linearGradient id="g39" x2="0" y2="1"><stop offset="0.0000" stop-color="#000081"/><stop offset="0.1028" stop-color="#000093"/><stop offset="0.2434" stop-color="#0000c1"/><stop offset="0.3423" stop-color="#0000e7"/><stop offset="0.3918" stop-color="#0003ff"/><stop offset="0.4954" stop-color="#004dff"/><stop offset="0.5711" stop-color="#0097ff"/><stop offset="0.6329" stop-color="#00ffff"/><stop offset="0.6685" stop-color="#54ffab"/><stop offset="0.6994" stop-color="#90ff6f"/><stop offset="0.7287" stop-color="#c1ff3e"/><stop offset="0.7550" stop-color="#fffc00"/><stop offset="0.7767" stop-color="#ffdb00"/><stop offset="0.8864" stop-color="#ff3100"/><stop offset="0.9281" stop-color="#fd0000"/><stop offset="0.9760" stop-color="#cf0000"/><stop offset="1.0000" stop-color="#c50000"/></linearGradient><linearGradient id="g40" x2="0" y2="1"><stop offset="0.0000" stop-color="#000081"/><stop offset="0.1028" stop-color="#000093"/><stop offset="0.2496" stop-color="#0000c3"/><stop offset="0.3439" stop-color="#0000e7"/><stop offset="0.3934" stop-color="#0003ff"/><stop offset="0.4969" stop-color="#004bff"/><stop offset="0.5742" stop-color="#0097ff"/><stop offset="0.6360" stop-color="#00ffff"/><stop offset="0.6716" stop-color="#56ffa9"/><stop offset="0.7009" stop-color="#8fff70"/><stop offset="0.7318" stop-color="#c4ff3b"/><stop offset="0.7566" stop-color="#fffc00"/><stop offset="0.7720" stop-color="#ffe300"/><stop offset="0.8617" stop-color="#ff5400"/><stop offset="0.8957" stop-color="#ff2300"/><stop offset="0.9250" stop-color="#fe0000"/><stop offset="0.9745" stop-color="#cb0000"/><stop offset="1.0000" stop-color="#c10000"/></linearGradient><linearGradient id="g41" x2="0" y2="1"><stop offset="0.0000" stop-color="#000081"/><stop offset="0.1012" stop-color="#000093"/><stop offset="0.2635" stop-color="#0000c8"/><stop offset="0.3470" stop-color="#0000e7"/><stop offset="0.3964" stop-color="#0003ff"/><stop offset="0.5000" stop-color="#004bff"/><stop offset="0.5773" stop-color="#0097ff"/><stop offset="0.6391" stop-color="#02fffd"/><stop offset="0.6731" stop-color="#55ffaa"/><stop offset="0.7040" stop-color="#91ff6e"/><stop offset="0.7334" stop-color="#c4ff3b"/><stop offset="0.7566" stop-color="#feff01"/><stop offset="0.7689" stop-color="#ffe800"/><stop offset="0.8308" stop-color="#ff8700"/><stop offset="0.8895" stop-color="#ff2900"/><stop offset="0.9235" stop-color="#fc0000"/><stop offset="0.9745" stop-color="#c70000"/><stop offset="1.0000" stop-color="#bc0000"/></linearGradient><linearGradient id="g42" x2="0" y2="1"><stop offset="0.0000" stop-color="#000081"/><stop offset="0.1012" stop-color="#000093"/><stop offset="0.3192" stop-color="#0000d9"/><stop offset="0.3980" stop-color="#0003ff"/><stop offset="0.5015" stop-color="#004aff"/><stop offset="0.5788" stop-color="#0096ff"/><stop offset="0.6406" stop-color="#01fffe"/><stop offset="0.6747" stop-color="#54ffab"/><stop offset="0.7056" stop-color="#92ff6d"/><stop offset="0.7349" stop-color="#c5ff3a"/><stop offset="0.7581" stop-color="#fffe00"/><stop offset="0.7689" stop-color="#ffe900"/><stop offset="0.8277" stop-color="#ff8c00"/><stop offset="0.8910" stop-color="#ff2400"/><stop offset="0.9204" stop-color="#fd0000"/><stop offset="0.9699" stop-color="#c70000"/><stop offset="1.0000" stop-color="#b70000"/></linearGradient><linearGradient id="g43" x2="0" y2="1"><stop offset="0.0000" stop-color="#000081"/><stop offset="0.0997" stop-color="#000093"/><stop offset="0.3238" stop-color="#0000db"/><stop offset="0.3995" stop-color="#0003ff"/><stop offset="0.5031" stop-color="#004aff"/><stop offset="0.5804" stop-color="#0096ff"/><stop offset="0.6422" stop-color="#02fffd"/><stop offset="0.6762" stop-color="#55ffaa"/><stop offset="0.7056" stop-color="#90ff6f"/><stop offset="0.7349" stop-color="#c3ff3c"/><stop offset="0.7581" stop-color="#feff01"/><stop offset="0.7689" stop-color="#ffe900"/><stop offset="0.8246" stop-color="#ff9000"/><stop offset="0.8910" stop-color="#ff2100"/><stop offset="0.9173" stop-color="#fd0000"/><stop offset="0.9652" stop-color="#c60000"/><stop offset="0.9915" stop-color="#b50000"/><stop offset="1.0000" stop-color="#b20000"/></linearGradient><linearGradient id="g44" x2="0" y2="1"><stop offset="0.0000" stop-color="#000081"/><stop offset="0.0997" stop-color="#000093"/><stop offset="0.3253" stop-color="#0000db"/><stop offset="0.3995" stop-color="#0002ff"/><stop offset="0.5046" stop-color="#004aff"/><stop offset="0.5819" stop-color="#0097ff"/><stop offset="0.6422" stop-color="#00ffff"/><stop offset="0.6777" stop-color="#57ffa8"/><stop offset="0.7071" stop-color="#92ff6d"/><stop offset="0.7365" stop-color="#c6ff39"/><stop offset="0.7597" stop-color="#fffc00"/><stop offset="0.7705" stop-color="#ffe600"/><stop offset="0.8261" stop-color="#ff8c00"/><stop offset="0.8910" stop-color="#ff1e00"/><stop offset="0.9142" stop-color="#fe0000"/><stop offset="0.9637" stop-color="#c30000"/><stop offset="0.9884" stop-color="#b10000"/><stop offset="1.0000" stop-color="#ac0000"/></linearGradient><linearGradient id="g45" x2="0" y2="1"><stop offset="0.0000" stop-color="#000081"/><stop offset="0.0997" stop-color="#000093"/><stop offset="0.3269" stop-color="#0000dc"/><stop offset="0.4011" stop-color="#0003ff"/><stop offset="0.5046" stop-color="#0049ff"/><stop offset="0.5819" stop-color="#0097ff"/><stop offset="0.6437" stop-color="#03fffc"/><stop offset="0.6777" stop-color="#57ffa8"/><stop offset="0.7071" stop-color="#92ff6d"/><stop offset="0.7365" stop-color="#c6ff39"/><stop offset="0.7581" stop-color="#feff01"/><stop offset="0.7705" stop-color="#ffe500"/><stop offset="0.8261" stop-color="#ff8a00"/><stop offset="0.8910" stop-color="#ff1b00"/><stop offset="0.9127" stop-color="#fc0000"/><stop offset="0.9621" stop-color="#bf0000"/><stop offset="0.9869" stop-color="#ac0000"/><stop offset="1.0000" stop-color="#a60000"/></linearGradient><linearGradient id="g46" x2="0" y2="1"><stop offset="0.0000" stop-color="#000081"/><stop offset="0.0997" stop-color="#000094"/><stop offset="0.3284" stop-color="#0000dd"/><stop offset="0.3995" stop-color="#0002ff"/><stop offset="0.5046" stop-color="#0049ff"/><stop offset="0.5819" stop-color="#0097ff"/><stop offset="0.6422" stop-color="#00ffff"/><stop offset="0.6777" stop-color="#57ffa8"/><stop offset="0.7071" stop-color="#93ff6c"/><stop offset="0.7365" stop-color="#c7ff38"/><stop offset="0.7581" stop-color="#fffe00"/><stop offset="0.7689" stop-color="#ffe600"/><stop offset="0.8215" stop-color="#ff9000"/><stop offset="0.8910" stop-color="#ff1700"/><stop offset="0.9096" stop-color="#fc0000"/><stop offset="0.9606" stop-color="#bb0000"/><stop offset="0.9853" stop-color="#a60000"/><stop offset="1.0000" stop-color="#a00000"/></linearGradient><linearGradient id="g47" x2="0" y2="1"><stop offset="0.0000" stop-color="#000081"/><stop offset="0.1012" stop-color="#000094"/><stop offset="0.3269" stop-color="#0000dd"/><stop offset="0.3995" stop-color="#0003ff"/><stop offset="0.5031" stop-color="#0048ff"/><stop offset="0.5804" stop-color="#0096ff"/><stop offset="0.6422" stop-color="#02fffd"/><stop offset="0.6762" stop-color="#56ffa9"/><stop offset="0.7071" stop-color="#94ff6b"/><stop offset="0.7349" stop-color="#c5ff3a"/><stop offset="0.7581" stop-color="#fffc00"/><stop offset="0.7674" stop-color="#ffe700"/><stop offset="0.8199" stop-color="#ff9000"/><stop offset="0.8910" stop-color="#ff1300"/><stop offset="0.9065" stop-color="#fc0000"/><stop offset="0.9590" stop-color="#b60000"/><stop offset="0.9838" stop-color="#a10000"/><stop offset="1.0000" stop-color="#9a0000"/></linearGradient><linearGradient id="g48" x2="0" y2="1"><stop offset="0.0000" stop-color="#000081"/><stop offset="0.1012" stop-color="#000095"/><stop offset="0.3269" stop-color="#0000dd"/><stop offset="0.3980" stop-color="#0003ff"/><stop offset="0.5031" stop-color="#0049ff"/><stop offset="0.5788" stop-color="#0095ff"/><stop offset="0.6406" stop-color="#01fffe"/><stop offset="0.6762" stop-color="#58ffa7"/><stop offset="0.7056" stop-color="#94ff6b"/><stop offset="0.7349" stop-color="#c8ff37"/><stop offset="0.7566" stop-color="#fffd00"/><stop offset="0.7674" stop-color="#ffe400"/><stop offset="0.8184" stop-color="#ff8f00"/><stop offset="0.8895" stop-color="#ff1100"/><stop offset="0.9034" stop-color="#fb0000"/><stop offset="0.9590" stop-color="#b00000"/><stop offset="0.9838" stop-color="#9a0000"/><stop offset="1.0000" stop-color="#930000"/></linearGradient><linearGradient id="g49" x2="0" y2="1"><stop offset="0.0000" stop-color="#000081"/><stop offset="0.1028" stop-color="#000095"/><stop offset="0.3238" stop-color="#0000dd"/><stop offset="0.3964" stop-color="#0003ff"/><stop offset="0.5000" stop-color="#0047ff"/><stop offset="0.5773" stop-color="#0095ff"/><stop offset="0.6391" stop-color="#01fffe"/><stop offset="0.6747" stop-color="#58ffa7"/><stop offset="0.7040" stop-color="#94ff6b"/><stop offset="0.7334" stop-color="#c8ff37"/><stop offset="0.7550" stop-color="#fffd00"/><stop offset="0.7658" stop-color="#ffe400"/><stop offset="0.8168" stop-color="#ff8f00"/><stop offset="0.8895" stop-color="#ff0d00"/><stop offset="0.9003" stop-color="#fb0000"/><stop offset="0.9575" stop-color="#ab0000"/><stop offset="0.9822" stop-color="#940000"/><stop offset="1.0000" stop-color="#8c0000"/></linearGradient><linearGradient id="g50" x2="0" y2="1"><stop offset="0.0000" stop-color="#000081"/><stop offset="0.1028" stop-color="#000096"/><stop offset="0.3207" stop-color="#0000dd"/><stop offset="0.3934" stop-color="#0003ff"/><stop offset="0.4985" stop-color="#0047ff"/><stop offset="0.5757" stop-color="#0096ff"/><stop offset="0.6376" stop-color="#02fffd"/><stop offset="0.6731" stop-color="#59ffa6"/><stop offset="0.7025" stop-color="#94ff6b"/><stop offset="0.7318" stop-color="#c8ff37"/><stop offset="0.7535" stop-color="#fffd00"/><stop offset="0.7643" stop-color="#ffe400"/><stop offset="0.8153" stop-color="#ff8e00"/><stop offset="0.8879" stop-color="#ff0b00"/><stop offset="0.8972" stop-color="#fc0000"/><stop offset="0.9560" stop-color="#a70000"/><stop offset="0.9807" stop-color="#8f0000"/><stop offset="1.0000" stop-color="#850000"/></linearGradient><linearGradient id="g51" x2="0" y2="1"><stop offset="0.0000" stop-color="#000081"/><stop offset="0.1043" stop-color="#000097"/><stop offset="0.3161" stop-color="#0000dc"/><stop offset="0.3903" stop-color="#0003ff"/><stop offset="0.4969" stop-color="#0048ff"/><stop offset="0.5726" stop-color="#0094ff"/><stop offset="0.6360" stop-color="#03fffc"/><stop offset="0.6700" stop-color="#56ffa9"/><stop offset="0.7009" stop-color="#94ff6b"/><stop offset="0.7303" stop-color="#c9ff36"/><stop offset="0.7519" stop-color="#fffc00"/><stop offset="0.7628" stop-color="#ffe400"/><stop offset="0.8122" stop-color="#ff9000"/><stop offset="0.8864" stop-color="#ff0900"/><stop offset="0.8941" stop-color="#fc0000"/><stop offset="0.9560" stop-color="#a00000"/><stop offset="0.9791" stop-color="#890000"/><stop offset="1.0000" stop-color="#800000"/></linearGradient><linearGradient id="g52" x2="0" y2="1"><stop offset="0.0000" stop-color="#000081"/><stop offset="0.1043" stop-color="#000097"/><stop offset="0.2512" stop-color="#0000c8"/><stop offset="0.3423" stop-color="#0000eb"/><stop offset="0.3872" stop-color="#0003ff"/><stop offset="0.4938" stop-color="#0047ff"/><stop offset="0.5696" stop-color="#0092ff"/><stop offset="0.6329" stop-color="#01fffe"/><stop offset="0.6685" stop-color="#58ffa7"/><stop offset="0.6978" stop-color="#93ff6c"/><stop offset="0.7272" stop-color="#c6ff39"/><stop offset="0.7488" stop-color="#ffff00"/><stop offset="0.7612" stop-color="#ffe300"/><stop offset="0.8107" stop-color="#ff9000"/><stop offset="0.8864" stop-color="#ff0500"/><stop offset="0.8941" stop-color="#f80000"/><stop offset="0.9560" stop-color="#9a0000"/><stop offset="0.9791" stop-color="#830000"/><stop offset="1.0000" stop-color="#800000"/></linearGradient><linearGradient id="g53" x2="0" y2="1"><stop offset="0.0000" stop-color="#000082"/><stop offset="0.1059" stop-color="#000098"/><stop offset="0.2403" stop-color="#0000c6"/><stop offset="0.3408" stop-color="#0000ec"/><stop offset="0.3825" stop-color="#0003ff"/><stop offset="0.4923" stop-color="#0047ff"/><stop offset="0.5665" stop-color="#0091ff"/><stop offset="0.6314" stop-color="#03fffc"/><stop offset="0.6654" stop-color="#56ffa9"/><stop offset="0.6963" stop-color="#93ff6c"/><stop offset="0.7257" stop-color="#c7ff38"/><stop offset="0.7473" stop-color="#fffe00"/><stop offset="0.7581" stop-color="#ffe500"/><stop offset="0.8076" stop-color="#ff9200"/><stop offset="0.8849" stop-color="#ff0400"/><stop offset="0.8988" stop-color="#ed0000"/><stop offset="0.9575" stop-color="#920000"/><stop offset="0.9760" stop-color="#800000"/><stop offset="1.0000" stop-color="#800000"/></linearGradient><linearGradient id="g54" x2="0" y2="1"><stop offset="0.0000" stop-color="#000082"/><stop offset="0.1059" stop-color="#000099"/><stop offset="0.2342" stop-color="#0000c5"/><stop offset="0.3423" stop-color="#0000f0"/><stop offset="0.3779" stop-color="#0003ff"/><stop offset="0.4892" stop-color="#0046ff"/><stop offset="0.5634" stop-color="#008fff"/><stop offset="0.6283" stop-color="#01fffe"/><stop offset="0.6638" stop-color="#57ffa8"/><stop offset="0.6947" stop-color="#94ff6b"/><stop offset="0.7241" stop-color="#c8ff37"/><stop offset="0.7457" stop-color="#fffe00"/><stop offset="0.7566" stop-color="#ffe500"/><stop offset="0.8060" stop-color="#ff9100"/><stop offset="0.8833" stop-color="#ff0300"/><stop offset="0.9637" stop-color="#850000"/><stop offset="0.9776" stop-color="#800000"/><stop offset="1.0000" stop-color="#800000"/></linearGradient><linearGradient id="g55" x2="0" y2="1"><stop offset="0.0000" stop-color="#000082"/><stop offset="0.1059" stop-color="#000099"/><stop offset="0.2295" stop-color="#0000c5"/><stop offset="0.3501" stop-color="#0000f7"/><stop offset="0.3748" stop-color="#0004ff"/><stop offset="0.4876" stop-color="#0047ff"/><stop offset="0.5603" stop-color="#008dff"/><stop offset="0.6267" stop-color="#02fffd"/><stop offset="0.6623" stop-color="#58ffa7"/><stop offset="0.6917" stop-color="#92ff6d"/><stop offset="0.7226" stop-color="#c9ff36"/><stop offset="0.7442" stop-color="#fffd00"/><stop offset="0.7550" stop-color="#ffe400"/><stop offset="0.8045" stop-color="#ff9100"/><stop offset="0.8818" stop-color="#ff0200"/><stop offset="0.9637" stop-color="#800000"/><stop offset="1.0000" stop-color="#800000"/></linearGradient><linearGradient id="g56" x2="0" y2="1"><stop offset="0.0000" stop-color="#000082"/><stop offset="0.1043" stop-color="#000099"/><stop offset="0.2264" stop-color="#0000c5"/><stop offset="0.3655" stop-color="#0003ff"/><stop offset="0.4845" stop-color="#0046ff"/><stop offset="0.5572" stop-color="#008bff"/><stop offset="0.6236" stop-color="#00ffff"/><stop offset="0.6592" stop-color="#56ffa9"/><stop offset="0.6901" stop-color="#93ff6c"/><stop offset="0.7195" stop-color="#c5ff3a"/><stop offset="0.7427" stop-color="#fffc00"/><stop offset="0.7535" stop-color="#ffe400"/><stop offset="0.8029" stop-color="#ff9100"/><stop offset="0.8802" stop-color="#ff0200"/><stop offset="0.9606" stop-color="#810000"/><stop offset="1.0000" stop-color="#800000"/></linearGradient><linearGradient id="g57" x2="0" y2="1"><stop offset="0.0000" stop-color="#000082"/><stop offset="0.1028" stop-color="#00009a"/><stop offset="0.2218" stop-color="#0000c6"/><stop offset="0.3578" stop-color="#0003ff"/><stop offset="0.4830" stop-color="#0046ff"/><stop offset="0.5526" stop-color="#0086ff"/><stop offset="0.6221" stop-color="#01fffe"/><stop offset="0.6577" stop-color="#56ffa9"/><stop offset="0.6886" stop-color="#93ff6c"/><stop offset="0.7179" stop-color="#c5ff3a"/><stop offset="0.7411" stop-color="#fffc00"/><stop offset="0.7519" stop-color="#ffe500"/><stop offset="0.7998" stop-color="#ff9400"/><stop offset="0.8787" stop-color="#ff0300"/><stop offset="0.9606" stop-color="#800000"/><stop offset="1.0000" stop-color="#800000"/></linearGradient><linearGradient id="g58" x2="0" y2="1"><stop offset="0.0000" stop-color="#000082"/><stop offset="0.1012" stop-color="#00009a"/><stop offset="0.2187" stop-color="#0000c7"/><stop offset="0.3485" stop-color="#0003ff"/><stop offset="0.4799" stop-color="#0044ff"/><stop offset="0.5479" stop-color="#0081ff"/><stop offset="0.6206" stop-color="#01fffe"/><stop offset="0.6561" stop-color="#56ffa9"/><stop offset="0.6870" stop-color="#93ff6c"/><stop offset="0.7164" stop-color="#c5ff3a"/><stop offset="0.7396" stop-color="#fffd00"/><stop offset="0.7504" stop-color="#ffe500"/><stop offset="0.7983" stop-color="#ff9500"/><stop offset="0.8771" stop-color="#ff0400"/><stop offset="0.8941" stop-color="#e70000"/><stop offset="0.9575" stop-color="#810000"/><stop offset="1.0000" stop-color="#800000"/></linearGradient><linearGradient id="g59" x2="0" y2="1"><stop offset="0.0000" stop-color="#000082"/><stop offset="0.0981" stop-color="#00009a"/><stop offset="0.2156" stop-color="#0000c9"/><stop offset="0.3362" stop-color="#0002ff"/><stop offset="0.4784" stop-color="#0044ff"/><stop offset="0.5417" stop-color="#007bff"/><stop offset="0.5587" stop-color="#0094ff"/><stop offset="0.6190" stop-color="#01fffe"/><stop offset="0.6546" stop-color="#56ffa9"/><stop offset="0.6855" stop-color="#92ff6d"/><stop offset="0.7148" stop-color="#c5ff3a"/><stop offset="0.7380" stop-color="#fffe00"/><stop offset="0.7488" stop-color="#ffe600"/><stop offset="0.7968" stop-color="#ff9600"/><stop offset="0.8756" stop-color="#ff0500"/><stop offset="0.8833" stop-color="#f70000"/><stop offset="0.9560" stop-color="#830000"/><stop offset="0.9838" stop-color="#800000"/><stop offset="1.0000" stop-color="#800000"/></linearGradient><linearGradient id="g60" x2="0" y2="1"><stop offset="0.0000" stop-color="#000082"/><stop offset="0.0951" stop-color="#00009a"/><stop offset="0.2125" stop-color="#0000cb"/><stop offset="0.3207" stop-color="#0002ff"/><stop offset="0.4753" stop-color="#0042ff"/><stop offset="0.5355" stop-color="#0074ff"/><stop offset="0.5541" stop-color="#008dff"/><stop offset="0.6175" stop-color="#01fffe"/><stop offset="0.6530" stop-color="#55ffaa"/><stop offset="0.6839" stop-color="#92ff6d"/><stop offset="0.7148" stop-color="#c7ff38"/><stop offset="0.7365" stop-color="#ffff00"/><stop offset="0.7473" stop-color="#ffe700"/><stop offset="0.7968" stop-color="#ff9500"/><stop offset="0.8740" stop-color="#ff0700"/><stop offset="0.8818" stop-color="#f90000"/><stop offset="0.9544" stop-color="#860000"/><stop offset="0.9652" stop-color="#800000"/><stop offset="1.0000" stop-color="#800000"/></linearGradient><linearGradient id="g61" x2="0" y2="1"><stop offset="0.0000" stop-color="#000082"/><stop offset="0.0920" stop-color="#000099"/><stop offset="0.2110" stop-color="#0000ce"/><stop offset="0.3053" stop-color="#0001ff"/><stop offset="0.4706" stop-color="#003eff"/><stop offset="0.5278" stop-color="#006bff"/><stop offset="0.5510" stop-color="#0088ff"/><stop offset="0.6159" stop-color="#00ffff"/><stop offset="0.6515" stop-color="#54ffab"/><stop offset="0.6824" stop-color="#91ff6e"/><stop offset="0.7133" stop-color="#c6ff39"/><stop offset="0.7365" stop-color="#fffd00"/><stop offset="0.7473" stop-color="#ffe600"/><stop offset="0.7952" stop-color="#ff9600"/><stop offset="0.8725" stop-color="#ff0900"/><stop offset="0.8802" stop-color="#fb0000"/><stop offset="0.9529" stop-color="#8a0000"/><stop offset="0.9668" stop-color="#800000"/><stop offset="1.0000" stop-color="#800000"/></linearGradient><linearGradient id="g62" x2="0" y2="1"><stop offset="0.0000" stop-color="#000082"/><stop offset="0.0889" stop-color="#000099"/><stop offset="0.2079" stop-color="#0000d1"/><stop offset="0.2898" stop-color="#0001ff"/><stop offset="0.3578" stop-color="#0018ff"/><stop offset="0.4675" stop-color="#003cff"/><stop offset="0.5232" stop-color="#0064ff"/><stop offset="0.5495" stop-color="#0085ff"/><stop offset="0.6159" stop-color="#02fffd"/><stop offset="0.6515" stop-color="#56ffa9"/><stop offset="0.6824" stop-color="#92ff6d"/><stop offset="0.7117" stop-color="#c4ff3b"/><stop offset="0.7349" stop-color="#ffff00"/><stop offset="0.7457" stop-color="#ffe700"/><stop offset="0.7937" stop-color="#ff9800"/><stop offset="0.8709" stop-color="#ff0b00"/><stop offset="0.8802" stop-color="#fc0000"/><stop offset="0.9513" stop-color="#8e0000"/><stop offset="0.9699" stop-color="#800000"/><stop offset="1.0000" stop-color="#800000"/></linearGradient><linearGradient id="g63" x2="0" y2="1"><stop offset="0.0000" stop-color="#000082"/><stop offset="0.0858" stop-color="#000099"/><stop offset="0.2048" stop-color="#0000d4"/><stop offset="0.2774" stop-color="#0002ff"/><stop offset="0.3377" stop-color="#0018ff"/><stop offset="0.4474" stop-color="#0031ff"/><stop offset="0.5031" stop-color="#0051ff"/><stop offset="0.5433" stop-color="#0079ff"/><stop offset="0.6144" stop-color="#00ffff"/><stop offset="0.6499" stop-color="#55ffaa"/><stop offset="0.6808" stop-color="#91ff6e"/><stop offset="0.7117" stop-color="#c6ff39"/><stop offset="0.7349" stop-color="#fffd00"/><stop offset="0.7457" stop-color="#ffe600"/><stop offset="0.7952" stop-color="#ff9500"/><stop offset="0.8694" stop-color="#ff0e00"/><stop offset="0.8802" stop-color="#fc0000"/><stop offset="0.9482" stop-color="#950000"/><stop offset="0.9745" stop-color="#800000"/><stop offset="1.0000" stop-color="#800000"/></linearGradient><linearGradient id="g64" x2="0" y2="1"><stop offset="0.0000" stop-color="#000082"/><stop offset="0.0827" stop-color="#000099"/><stop offset="0.2017" stop-color="#0000d8"/><stop offset="0.2651" stop-color="#0002ff"/><stop offset="0.3269" stop-color="#001aff"/><stop offset="0.4320" stop-color="#002bff"/><stop offset="0.4815" stop-color="#003fff"/><stop offset="0.5294" stop-color="#0066ff"/><stop offset="0.5479" stop-color="#0080ff"/><stop offset="0.6144" stop-color="#01fffe"/><stop offset="0.6484" stop-color="#53ffac"/><stop offset="0.6808" stop-color="#91ff6e"/><stop offset="0.7102" stop-color="#c3ff3c"/><stop offset="0.7334" stop-color="#feff01"/><stop offset="0.7457" stop-color="#ffe600"/><stop offset="0.7952" stop-color="#ff9500"/><stop offset="0.8694" stop-color="#ff0f00"/><stop offset="0.8802" stop-color="#fd0000"/><stop offset="0.9451" stop-color="#9d0000"/><stop offset="0.9791" stop-color="#800000"/><stop offset="1.0000" stop-color="#800000"/></linearGradient><linearGradient id="g65" x2="0" y2="1"><stop offset="0.0000" stop-color="#000082"/><stop offset="0.0796" stop-color="#000099"/><stop offset="0.2017" stop-color="#0000de"/><stop offset="0.2543" stop-color="#0002ff"/><stop offset="0.3176" stop-color="#001dff"/><stop offset="0.4243" stop-color="#0026ff"/><stop offset="0.4753" stop-color="#0039ff"/><stop offset="0.5232" stop-color="#005dff"/><stop offset="0.5464" stop-color="#007cff"/><stop offset="0.6128" stop-color="#00feff"/><stop offset="0.6484" stop-color="#54ffab"/><stop offset="0.6793" stop-color="#90ff6f"/><stop offset="0.7102" stop-color="#c4ff3b"/><stop offset="0.7334" stop-color="#ffff00"/><stop offset="0.7442" stop-color="#ffe800"/><stop offset="0.7937" stop-color="#ff9700"/><stop offset="0.8679" stop-color="#ff1200"/><stop offset="0.8818" stop-color="#fc0000"/><stop offset="0.9436" stop-color="#a20000"/><stop offset="0.9838" stop-color="#810000"/><stop offset="1.0000" stop-color="#800000"/></linearGradient><linearGradient id="g66" x2="0" y2="1"><stop offset="0.0000" stop-color="#000082"/><stop offset="0.0765" stop-color="#000099"/><stop offset="0.2017" stop-color="#0000e4"/><stop offset="0.2450" stop-color="#0002ff"/><stop offset="0.3083" stop-color="#001eff"/><stop offset="0.4212" stop-color="#0022ff"/><stop offset="0.4722" stop-color="#0033ff"/><stop offset="0.5201" stop-color="#0056ff"/><stop offset="0.5448" stop-color="#0077ff"/><stop offset="0.6128" stop-color="#00ffff"/><stop offset="0.6468" stop-color="#52ffad"/><stop offset="0.6793" stop-color="#90ff6f"/><stop offset="0.7102" stop-color="#c5ff3a"/><stop offset="0.7334" stop-color="#fffe00"/><stop offset="0.7442" stop-color="#ffe800"/><stop offset="0.7937" stop-color="#ff9700"/><stop offset="0.8679" stop-color="#ff1400"/><stop offset="0.8818" stop-color="#fd0000"/><stop offset="0.9405" stop-color="#a90000"/><stop offset="0.9699" stop-color="#8f0000"/><stop offset="1.0000" stop-color="#810000"/></linearGradient><linearGradient id="g67" x2="0" y2="1"><stop offset="0.0000" stop-color="#000082"/><stop offset="0.0734" stop-color="#000098"/><stop offset="0.2063" stop-color="#0000ed"/><stop offset="0.2372" stop-color="#0003ff"/><stop offset="0.2991" stop-color="#001dff"/><stop offset="0.3624" stop-color="#001cff"/><stop offset="0.4258" stop-color="#001eff"/><stop offset="0.4737" stop-color="#002fff"/><stop offset="0.5201" stop-color="#0053ff"/><stop offset="0.5448" stop-color="#0075ff"/><stop offset="0.6128" stop-color="#01fffe"/><stop offset="0.6468" stop-color="#53ffac"/><stop offset="0.6793" stop-color="#91ff6e"/><stop offset="0.7087" stop-color="#c2ff3d"/><stop offset="0.7334" stop-color="#fffd00"/><stop offset="0.7442" stop-color="#ffe800"/><stop offset="0.7937" stop-color="#ff9800"/><stop offset="0.8663" stop-color="#ff1700"/><stop offset="0.8833" stop-color="#fd0000"/><stop offset="0.9405" stop-color="#ad0000"/><stop offset="0.9730" stop-color="#920000"/><stop offset="1.0000" stop-color="#870000"/></linearGradient><linearGradient id="g68" x2="0" y2="1"><stop offset="0.0000" stop-color="#000082"/><stop offset="0.0719" stop-color="#000099"/><stop offset="0.2280" stop-color="#0002ff"/><stop offset="0.2883" stop-color="#001aff"/><stop offset="0.3377" stop-color="#001bff"/><stop offset="0.4119" stop-color="#0016ff"/><stop offset="0.4660" stop-color="#0026ff"/><stop offset="0.5124" stop-color="#0046ff"/><stop offset="0.5417" stop-color="#006dff"/><stop offset="0.6113" stop-color="#00feff"/><stop offset="0.6468" stop-color="#54ffab"/><stop offset="0.6777" stop-color="#8fff70"/><stop offset="0.7087" stop-color="#c3ff3c"/><stop offset="0.7334" stop-color="#fffc00"/><stop offset="0.7457" stop-color="#ffe500"/><stop offset="0.7968" stop-color="#ff9200"/><stop offset="0.8663" stop-color="#ff1900"/><stop offset="0.8849" stop-color="#fc0000"/><stop offset="0.9389" stop-color="#b20000"/><stop offset="0.9683" stop-color="#9a0000"/><stop offset="1.0000" stop-color="#8d0000"/></linearGradient><linearGradient id="g69" x2="0" y2="1"><stop offset="0.0000" stop-color="#000082"/><stop offset="0.0688" stop-color="#000099"/><stop offset="0.2187" stop-color="#0002ff"/><stop offset="0.2759" stop-color="#0016ff"/><stop offset="0.3315" stop-color="#0017ff"/><stop offset="0.4073" stop-color="#000fff"/><stop offset="0.4645" stop-color="#0020ff"/><stop offset="0.5108" stop-color="#0040ff"/><stop offset="0.5402" stop-color="#0067ff"/><stop offset="0.6066" stop-color="#00f5ff"/><stop offset="0.6128" stop-color="#04fffb"/><stop offset="0.6453" stop-color="#52ffad"/><stop offset="0.6777" stop-color="#90ff6f"/><stop offset="0.7071" stop-color="#c1ff3e"/><stop offset="0.7318" stop-color="#ffff00"/><stop offset="0.7427" stop-color="#ffea00"/><stop offset="0.7921" stop-color="#ff9b00"/><stop offset="0.8648" stop-color="#ff1c00"/><stop offset="0.8864" stop-color="#fc0000"/><stop offset="0.9389" stop-color="#b60000"/><stop offset="0.9714" stop-color="#9d0000"/><stop offset="1.0000" stop-color="#920000"/></linearGradient><linearGradient id="g70" x2="0" y2="1"><stop offset="0.0000" stop-color="#000082"/><stop offset="0.0672" stop-color="#000099"/><stop offset="0.2079" stop-color="#0000ff"/><stop offset="0.2604" stop-color="#0012ff"/><stop offset="0.3284" stop-color="#0010ff"/><stop offset="0.4026" stop-color="#0008ff"/><stop offset="0.4629" stop-color="#0019ff"/><stop offset="0.5093" stop-color="#003aff"/><stop offset="0.5386" stop-color="#0061ff"/><stop offset="0.6036" stop-color="#00f0ff"/><stop offset="0.6113" stop-color="#01fffe"/><stop offset="0.6437" stop-color="#50ffaf"/><stop offset="0.6762" stop-color="#8eff71"/><stop offset="0.7071" stop-color="#c2ff3d"/><stop offset="0.7318" stop-color="#fffe00"/><stop offset="0.7427" stop-color="#ffea00"/><stop offset="0.7937" stop-color="#ff9900"/><stop offset="0.8648" stop-color="#ff1e00"/><stop offset="0.8864" stop-color="#fd0000"/><stop offset="0.9374" stop-color="#ba0000"/><stop offset="0.9652" stop-color="#a40000"/><stop offset="1.0000" stop-color="#970000"/></linearGradient><linearGradient id="g71" x2="0" y2="1"><stop offset="0.0000" stop-color="#000082"/><stop offset="0.0641" stop-color="#000099"/><stop offset="0.1491" stop-color="#0000dc"/><stop offset="0.2032" stop-color="#0002ff"/><stop offset="0.2496" stop-color="#000fff"/><stop offset="0.3377" stop-color="#0004ff"/><stop offset="0.4088" stop-color="#0001ff"/><stop offset="0.4629" stop-color="#0013ff"/><stop offset="0.5093" stop-color="#0035ff"/><stop offset="0.5386" stop-color="#005fff"/><stop offset="0.6005" stop-color="#00ebff"/><stop offset="0.6113" stop-color="#03fffc"/><stop offset="0.6437" stop-color="#52ffad"/><stop offset="0.6762" stop-color="#8fff70"/><stop offset="0.7056" stop-color="#bfff40"/><stop offset="0.7318" stop-color="#fffd00"/><stop offset="0.7473" stop-color="#ffe300"/><stop offset="0.8060" stop-color="#ff8400"/><stop offset="0.8648" stop-color="#ff1f00"/><stop offset="0.8879" stop-color="#fd0000"/><stop offset="0.9374" stop-color="#bd0000"/><stop offset="0.9683" stop-color="#a60000"/><stop offset="1.0000" stop-color="#9b0000"/></linearGradient><linearGradient id="g72" x2="0" y2="1"><stop offset="0.0000" stop-color="#000082"/><stop offset="0.0626" stop-color="#000099"/><stop offset="0.1414" stop-color="#0000da"/><stop offset="0.1909" stop-color="#0000fe"/><stop offset="0.2326" stop-color="#000dff"/><stop offset="0.3253" stop-color="#0000fc"/><stop offset="0.3949" stop-color="#0000f5"/><stop offset="0.4474" stop-color="#0004ff"/><stop offset="0.5015" stop-color="#0029ff"/><stop offset="0.5325" stop-color="#0050ff"/><stop offset="0.6020" stop-color="#00efff"/><stop offset="0.6097" stop-color="#01fffe"/><stop offset="0.6422" stop-color="#50ffaf"/><stop offset="0.6747" stop-color="#8eff71"/><stop offset="0.7056" stop-color="#c1ff3e"/><stop offset="0.7303" stop-color="#ffff00"/><stop offset="0.7427" stop-color="#ffe900"/><stop offset="0.7952" stop-color="#ff9600"/><stop offset="0.8632" stop-color="#ff2300"/><stop offset="0.8895" stop-color="#fd0000"/><stop offset="0.9389" stop-color="#be0000"/><stop offset="0.9822" stop-color="#a40000"/><stop offset="1.0000" stop-color="#a00000"/></linearGradient><linearGradient id="g73" x2="0" y2="1"><stop offset="0.0000" stop-color="#000082"/><stop offset="0.0611" stop-color="#000099"/><stop offset="0.1337" stop-color="#0000d7"/><stop offset="0.1785" stop-color="#0000fc"/><stop offset="0.2249" stop-color="#000eff"/><stop offset="0.2852" stop-color="#0000fc"/><stop offset="0.3624" stop-color="#0000eb"/><stop offset="0.4212" stop-color="#0000f3"/><stop offset="0.4567" stop-color="#0003ff"/><stop offset="0.5062" stop-color="#0029ff"/><stop offset="0.5355" stop-color="#0054ff"/><stop offset="0.5958" stop-color="#00e5ff"/><stop offset="0.6082" stop-color="#00ffff"/><stop offset="0.6406" stop-color="#50ffaf"/><stop offset="0.6731" stop-color="#8eff71"/><stop offset="0.7040" stop-color="#c0ff3f"/><stop offset="0.7303" stop-color="#fffd00"/><stop offset="0.7473" stop-color="#ffe200"/><stop offset="0.8138" stop-color="#ff7700"/><stop offset="0.8648" stop-color="#ff2200"/><stop offset="0.8910" stop-color="#fc0000"/><stop offset="0.9405" stop-color="#c00000"/><stop offset="0.9884" stop-color="#a60000"/><stop offset="1.0000" stop-color="#a40000"/></linearGradient><linearGradient id="g74" x2="0" y2="1"><stop offset="0.0000" stop-color="#000082"/><stop offset="0.0580" stop-color="#000098"/><stop offset="0.1182" stop-color="#0000cc"/><stop offset="0.1723" stop-color="#0000fe"/><stop offset="0.2156" stop-color="#000fff"/><stop offset="0.2666" stop-color="#0000fc"/><stop offset="0.3362" stop-color="#0000e2"/><stop offset="0.4011" stop-color="#0000e5"/><stop offset="0.4583" stop-color="#0000fd"/><stop offset="0.4985" stop-color="#001dff"/><stop offset="0.5278" stop-color="#0044ff"/><stop offset="0.5495" stop-color="#0076ff"/><stop offset="0.5958" stop-color="#00e7ff"/><stop offset="0.6066" stop-color="#00ffff"/><stop offset="0.6391" stop-color="#50ffaf"/><stop offset="0.6731" stop-color="#90ff6f"/><stop offset="0.7040" stop-color="#c3ff3c"/><stop offset="0.7287" stop-color="#ffff00"/><stop offset="0.7411" stop-color="#ffe900"/><stop offset="0.7968" stop-color="#ff9400"/><stop offset="0.8632" stop-color="#ff2600"/><stop offset="0.8926" stop-color="#fc0000"/><stop offset="0.9420" stop-color="#c20000"/><stop offset="0.9915" stop-color="#aa0000"/><stop offset="1.0000" stop-color="#a90000"/></linearGradient><linearGradient id="g75" x2="0" y2="1"><stop offset="0.0000" stop-color="#000083"/><stop offset="0.0580" stop-color="#00009a"/><stop offset="0.1167" stop-color="#0000cf"/><stop offset="0.1677" stop-color="#0001ff"/><stop offset="0.2079" stop-color="#0010ff"/><stop offset="0.2450" stop-color="#0004ff"/><stop offset="0.2666" stop-color="#0000f5"/><stop offset="0.3223" stop-color="#0000da"/><stop offset="0.3748" stop-color="#0000d8"/><stop offset="0.4397" stop-color="#0000ec"/><stop offset="0.4737" stop-color="#0003ff"/><stop offset="0.5139" stop-color="#002cff"/><stop offset="0.5355" stop-color="#0053ff"/><stop offset="0.5927" stop-color="#00e4ff"/><stop offset="0.6051" stop-color="#00ffff"/><stop offset="0.6376" stop-color="#51ffae"/><stop offset="0.6716" stop-color="#91ff6e"/><stop offset="0.7025" stop-color="#c3ff3c"/><stop offset="0.7272" stop-color="#ffff00"/><stop offset="0.7411" stop-color="#ffe700"/><stop offset="0.8014" stop-color="#ff8c00"/><stop offset="0.8632" stop-color="#ff2800"/><stop offset="0.8941" stop-color="#fd0000"/><stop offset="0.9436" stop-color="#c40000"/><stop offset="0.9930" stop-color="#af0000"/><stop offset="1.0000" stop-color="#af0000"/></linearGradient><linearGradient id="g76" x2="0" y2="1"><stop offset="0.0000" stop-color="#000083"/><stop offset="0.0564" stop-color="#00009a"/><stop offset="0.1105" stop-color="#0000cc"/><stop offset="0.1615" stop-color="#0001ff"/><stop offset="0.2017" stop-color="#0012ff"/><stop offset="0.2357" stop-color="#0007ff"/><stop offset="0.2512" stop-color="#0000fb"/><stop offset="0.3022" stop-color="#0000d7"/><stop offset="0.3485" stop-color="#0000cc"/><stop offset="0.4134" stop-color="#0000da"/><stop offset="0.4614" stop-color="#0000f4"/><stop offset="0.4799" stop-color="#0004ff"/><stop offset="0.5155" stop-color="#002cff"/><stop offset="0.5340" stop-color="#004fff"/><stop offset="0.5912" stop-color="#00e4ff"/><stop offset="0.6036" stop-color="#01fffe"/><stop offset="0.6360" stop-color="#52ffad"/><stop offset="0.6700" stop-color="#92ff6d"/><stop offset="0.7009" stop-color="#c4ff3b"/><stop offset="0.7272" stop-color="#fffc00"/><stop offset="0.7473" stop-color="#ffdd00"/><stop offset="0.8338" stop-color="#ff5600"/><stop offset="0.8756" stop-color="#ff1900"/><stop offset="0.8957" stop-color="#fd0000"/><stop offset="0.9451" stop-color="#c70000"/><stop offset="0.9946" stop-color="#b40000"/><stop offset="1.0000" stop-color="#b40000"/></linearGradient><linearGradient id="g77" x2="0" y2="1"><stop offset="0.0000" stop-color="#000083"/><stop offset="0.0549" stop-color="#00009a"/><stop offset="0.1043" stop-color="#0000c8"/><stop offset="0.1569" stop-color="#0001ff"/><stop offset="0.1924" stop-color="#0013ff"/><stop offset="0.2218" stop-color="#000dff"/><stop offset="0.2450" stop-color="#0000fb"/><stop offset="0.2960" stop-color="#0000d1"/><stop offset="0.3408" stop-color="#0000c3"/><stop offset="0.4057" stop-color="#0000d0"/><stop offset="0.4567" stop-color="#0000ec"/><stop offset="0.4830" stop-color="#0003ff"/><stop offset="0.5155" stop-color="#002aff"/><stop offset="0.5325" stop-color="#004bff"/><stop offset="0.5896" stop-color="#00e4ff"/><stop offset="0.6020" stop-color="#02fffd"/><stop offset="0.6345" stop-color="#53ffac"/><stop offset="0.6685" stop-color="#93ff6c"/><stop offset="0.7009" stop-color="#c8ff37"/><stop offset="0.7257" stop-color="#fffc00"/><stop offset="0.7427" stop-color="#ffe100"/><stop offset="0.8246" stop-color="#ff6600"/><stop offset="0.8663" stop-color="#ff2700"/><stop offset="0.8972" stop-color="#fe0000"/><stop offset="0.9451" stop-color="#cb0000"/><stop offset="0.9946" stop-color="#b90000"/><stop offset="1.0000" stop-color="#b90000"/></linearGradient><linearGradient id="g78" x2="0" y2="1"><stop offset="0.0000" stop-color="#000083"/><stop offset="0.0549" stop-color="#00009b"/><stop offset="0.1028" stop-color="#0000c9"/><stop offset="0.1522" stop-color="#0001ff"/><stop offset="0.1832" stop-color="#0012ff"/><stop offset="0.2110" stop-color="#0011ff"/><stop offset="0.2403" stop-color="#0000fc"/><stop offset="0.2929" stop-color="#0000cb"/><stop offset="0.3362" stop-color="#0000bb"/><stop offset="0.3995" stop-color="#0000c8"/><stop offset="0.4536" stop-color="#0000e5"/><stop offset="0.4861" stop-color="#0003ff"/><stop offset="0.5170" stop-color="#002bff"/><stop offset="0.5325" stop-color="#004cff"/><stop offset="0.5896" stop-color="#00e8ff"/><stop offset="0.5989" stop-color="#00feff"/><stop offset="0.6314" stop-color="#52ffad"/><stop offset="0.6669" stop-color="#95ff6a"/><stop offset="0.6994" stop-color="#caff35"/><stop offset="0.7226" stop-color="#ffff00"/><stop offset="0.7349" stop-color="#ffe900"/><stop offset="0.8122" stop-color="#ff7900"/><stop offset="0.8648" stop-color="#ff2b00"/><stop offset="0.9003" stop-color="#fc0000"/><stop offset="0.9467" stop-color="#ce0000"/><stop offset="0.9946" stop-color="#bf0000"/><stop offset="1.0000" stop-color="#bf0000"/></linearGradient><linearGradient id="g79" x2="0" y2="1"><stop offset="0.0000" stop-color="#000083"/><stop offset="0.0549" stop-color="#00009c"/><stop offset="0.1028" stop-color="#0000cc"/><stop offset="0.1491" stop-color="#0001ff"/><stop offset="0.1801" stop-color="#0013ff"/><stop offset="0.2094" stop-color="#0011ff"/><stop offset="0.2357" stop-color="#0000fc"/><stop offset="0.2913" stop-color="#0000c6"/><stop offset="0.3331" stop-color="#0000b4"/><stop offset="0.3934" stop-color="#0000c0"/><stop offset="0.4521" stop-color="#0000e0"/><stop offset="0.4876" stop-color="#0003ff"/><stop offset="0.5170" stop-color="#002bff"/><stop offset="0.5325" stop-color="#004eff"/><stop offset="0.5881" stop-color="#00e9ff"/><stop offset="0.5974" stop-color="#01fffe"/><stop offset="0.6298" stop-color="#54ffab"/><stop offset="0.6654" stop-color="#97ff68"/><stop offset="0.6978" stop-color="#ccff33"/><stop offset="0.7210" stop-color="#fffe00"/><stop offset="0.7334" stop-color="#ffe800"/><stop offset="0.8215" stop-color="#ff6b00"/><stop offset="0.8679" stop-color="#ff2800"/><stop offset="0.9019" stop-color="#fd0000"/><stop offset="0.9467" stop-color="#d20000"/><stop offset="0.9946" stop-color="#c40000"/><stop offset="1.0000" stop-color="#c40000"/></linearGradient><linearGradient id="g80" x2="0" y2="1"><stop offset="0.0000" stop-color="#000083"/><stop offset="0.0549" stop-color="#00009d"/><stop offset="0.1012" stop-color="#0000cc"/><stop offset="0.1476" stop-color="#0002ff"/><stop offset="0.1785" stop-color="#0014ff"/><stop offset="0.2079" stop-color="#0011ff"/><stop offset="0.2326" stop-color="#0000fc"/><stop offset="0.2898" stop-color="#0000c1"/><stop offset="0.3300" stop-color="#0000ae"/><stop offset="0.3841" stop-color="#0000b7"/><stop offset="0.4459" stop-color="#0000d7"/><stop offset="0.4892" stop-color="#0002ff"/><stop offset="0.5185" stop-color="#002eff"/><stop offset="0.5433" stop-color="#006fff"/><stop offset="0.5881" stop-color="#00eeff"/><stop offset="0.5958" stop-color="#02fffd"/><stop offset="0.6267" stop-color="#53ffac"/><stop offset="0.6638" stop-color="#99ff66"/><stop offset="0.6963" stop-color="#ceff31"/><stop offset="0.7195" stop-color="#fffd00"/><stop offset="0.7318" stop-color="#ffe800"/><stop offset="0.8323" stop-color="#ff5b00"/><stop offset="0.8910" stop-color="#ff0d00"/><stop offset="0.9049" stop-color="#fc0000"/><stop offset="0.9482" stop-color="#d50000"/><stop offset="0.9946" stop-color="#ca0000"/><stop offset="1.0000" stop-color="#ca0000"/></linearGradient><linearGradient id="g81" x2="0" y2="1"><stop offset="0.0000" stop-color="#000083"/><stop offset="0.0533" stop-color="#00009c"/><stop offset="0.0951" stop-color="#0000c6"/><stop offset="0.1461" stop-color="#0002ff"/><stop offset="0.1754" stop-color="#0014ff"/><stop offset="0.2048" stop-color="#0011ff"/><stop offset="0.2295" stop-color="#0000fc"/><stop offset="0.2898" stop-color="#0000bc"/><stop offset="0.3284" stop-color="#0000a9"/><stop offset="0.3794" stop-color="#0000b1"/><stop offset="0.4413" stop-color="#0000d0"/><stop offset="0.4907" stop-color="#0003ff"/><stop offset="0.5185" stop-color="#002eff"/><stop offset="0.5510" stop-color="#0088ff"/><stop offset="0.5896" stop-color="#00f6ff"/><stop offset="0.5943" stop-color="#04fffb"/><stop offset="0.6252" stop-color="#55ffaa"/><stop offset="0.6623" stop-color="#9bff64"/><stop offset="0.6963" stop-color="#d3ff2c"/><stop offset="0.7179" stop-color="#fffc00"/><stop offset="0.7318" stop-color="#ffe500"/><stop offset="0.8709" stop-color="#ff2800"/><stop offset="0.9065" stop-color="#fd0000"/><stop offset="0.9482" stop-color="#d90000"/><stop offset="0.9946" stop-color="#cf0000"/><stop offset="1.0000" stop-color="#cf0000"/></linearGradient><linearGradient id="g82" x2="0" y2="1"><stop offset="0.0000" stop-color="#000083"/><stop offset="0.0549" stop-color="#00009e"/><stop offset="0.1012" stop-color="#0000cf"/><stop offset="0.1445" stop-color="#0001ff"/><stop offset="0.1754" stop-color="#0013ff"/><stop offset="0.2048" stop-color="#000fff"/><stop offset="0.2264" stop-color="#0000fc"/><stop offset="0.2883" stop-color="#0000b8"/><stop offset="0.3269" stop-color="#0000a5"/><stop offset="0.3748" stop-color="#0000ab"/><stop offset="0.4366" stop-color="#0000c9"/><stop offset="0.4907" stop-color="#0002ff"/><stop offset="0.5185" stop-color="#002fff"/><stop offset="0.5572" stop-color="#009fff"/><stop offset="0.5912" stop-color="#00ffff"/><stop offset="0.6221" stop-color="#54ffab"/><stop offset="0.6607" stop-color="#9dff62"/><stop offset="0.6947" stop-color="#d5ff2a"/><stop offset="0.7148" stop-color="#fffe00"/><stop offset="0.7287" stop-color="#ffe600"/><stop offset="0.8709" stop-color="#ff2a00"/><stop offset="0.9096" stop-color="#fc0000"/><stop offset="0.9498" stop-color="#dd0000"/><stop offset="0.9961" stop-color="#d50000"/><stop offset="1.0000" stop-color="#d50000"/></linearGradient><linearGradient id="g83" x2="0" y2="1"><stop offset="0.0000" stop-color="#000083"/><stop offset="0.0549" stop-color="#00009f"/><stop offset="0.0997" stop-color="#0000ce"/><stop offset="0.1430" stop-color="#0001ff"/><stop offset="0.1739" stop-color="#0012ff"/><stop offset="0.2048" stop-color="#000dff"/><stop offset="0.2233" stop-color="#0000fc"/><stop offset="0.2883" stop-color="#0000b5"/><stop offset="0.3269" stop-color="#0000a1"/><stop offset="0.3733" stop-color="#0000a7"/><stop offset="0.4335" stop-color="#0000c5"/><stop offset="0.4830" stop-color="#0000f7"/><stop offset="0.4923" stop-color="#0004ff"/><stop offset="0.5185" stop-color="#0031ff"/><stop offset="0.5634" stop-color="#00b6ff"/><stop offset="0.5896" stop-color="#01fffe"/><stop offset="0.6206" stop-color="#56ffa9"/><stop offset="0.6577" stop-color="#9dff62"/><stop offset="0.6932" stop-color="#d7ff28"/><stop offset="0.7133" stop-color="#fffd00"/><stop offset="0.7287" stop-color="#ffe300"/><stop offset="0.8725" stop-color="#ff2a00"/><stop offset="0.9127" stop-color="#fd0000"/><stop offset="0.9498" stop-color="#e10000"/><stop offset="0.9946" stop-color="#da0000"/><stop offset="1.0000" stop-color="#db0000"/></linearGradient><linearGradient id="g84" x2="0" y2="1"><stop offset="0.0000" stop-color="#000083"/><stop offset="0.0549" stop-color="#00009f"/><stop offset="0.0997" stop-color="#0000cf"/><stop offset="0.1430" stop-color="#0000ff"/><stop offset="0.1739" stop-color="#0011ff"/><stop offset="0.2032" stop-color="#000cff"/><stop offset="0.2218" stop-color="#0000fb"/><stop offset="0.2883" stop-color="#0000b1"/><stop offset="0.3269" stop-color="#00009d"/><stop offset="0.3733" stop-color="#0000a4"/><stop offset="0.4320" stop-color="#0000c1"/><stop offset="0.4768" stop-color="#0000ef"/><stop offset="0.4907" stop-color="#0002ff"/><stop offset="0.5170" stop-color="#0030ff"/><stop offset="0.5572" stop-color="#00a6ff"/><stop offset="0.5881" stop-color="#02fffd"/><stop offset="0.6190" stop-color="#57ffa8"/><stop offset="0.6577" stop-color="#a1ff5e"/><stop offset="0.6932" stop-color="#ddff22"/><stop offset="0.7117" stop-color="#fffc00"/><stop offset="0.7272" stop-color="#ffe200"/><stop offset="0.8740" stop-color="#ff2a00"/><stop offset="0.9158" stop-color="#fd0000"/><stop offset="0.9498" stop-color="#e60000"/><stop offset="0.9946" stop-color="#e00000"/><stop offset="1.0000" stop-color="#e10000"/></linearGradient><linearGradient id="g85" x2="0" y2="1"><stop offset="0.0000" stop-color="#000083"/><stop offset="0.0564" stop-color="#0000a1"/><stop offset="0.1167" stop-color="#0000e4"/><stop offset="0.1445" stop-color="#0001ff"/><stop offset="0.1754" stop-color="#000fff"/><stop offset="0.2048" stop-color="#0008ff"/><stop offset="0.2187" stop-color="#0000fb"/><stop offset="0.2898" stop-color="#0000ad"/><stop offset="0.3284" stop-color="#000099"/><stop offset="0.3764" stop-color="#0000a2"/><stop offset="0.4335" stop-color="#0000c1"/><stop offset="0.4784" stop-color="#0000f1"/><stop offset="0.4907" stop-color="#0003ff"/><stop offset="0.5170" stop-color="#0032ff"/><stop offset="0.5572" stop-color="#00aaff"/><stop offset="0.5866" stop-color="#02fffd"/><stop offset="0.6175" stop-color="#58ffa7"/><stop offset="0.6561" stop-color="#a2ff5d"/><stop offset="0.6932" stop-color="#e2ff1d"/><stop offset="0.7087" stop-color="#fffe00"/><stop offset="0.7257" stop-color="#ffe100"/><stop offset="0.8740" stop-color="#ff2c00"/><stop offset="0.9189" stop-color="#fe0000"/><stop offset="0.9513" stop-color="#ea0000"/><stop offset="0.9961" stop-color="#e60000"/><stop offset="1.0000" stop-color="#e70000"/></linearGradient><linearGradient id="g86" x2="0" y2="1"><stop offset="0.0000" stop-color="#000083"/><stop offset="0.0580" stop-color="#0000a2"/><stop offset="0.1430" stop-color="#0000fe"/><stop offset="0.1770" stop-color="#000dff"/><stop offset="0.2063" stop-color="#0004ff"/><stop offset="0.2202" stop-color="#0000f7"/><stop offset="0.2898" stop-color="#0000ab"/><stop offset="0.3284" stop-color="#000096"/><stop offset="0.3733" stop-color="#00009e"/><stop offset="0.4304" stop-color="#0000bd"/><stop offset="0.4706" stop-color="#0000e7"/><stop offset="0.4892" stop-color="#0001ff"/><stop offset="0.5155" stop-color="#0031ff"/><stop offset="0.5541" stop-color="#00a4ff"/><stop offset="0.5850" stop-color="#02fffd"/><stop offset="0.6144" stop-color="#55ffaa"/><stop offset="0.6530" stop-color="#a1ff5e"/><stop offset="0.6932" stop-color="#e6ff19"/><stop offset="0.7071" stop-color="#fffd00"/><stop offset="0.7241" stop-color="#ffe000"/><stop offset="0.8756" stop-color="#ff2d00"/><stop offset="0.9235" stop-color="#fe0000"/><stop offset="0.9544" stop-color="#ee0000"/><stop offset="0.9977" stop-color="#ed0000"/><stop offset="1.0000" stop-color="#ed0000"/></linearGradient><linearGradient id="g87" x2="0" y2="1"><stop offset="0.0000" stop-color="#000083"/><stop offset="0.0595" stop-color="#0000a4"/><stop offset="0.1430" stop-color="#0000fd"/><stop offset="0.1801" stop-color="#000bff"/><stop offset="0.2125" stop-color="#0000fc"/><stop offset="0.2929" stop-color="#0000a6"/><stop offset="0.3315" stop-color="#000092"/><stop offset="0.3810" stop-color="#00009f"/><stop offset="0.4366" stop-color="#0000c1"/><stop offset="0.4799" stop-color="#0000f5"/><stop offset="0.4892" stop-color="#0003ff"/><stop offset="0.5139" stop-color="#0031ff"/><stop offset="0.5510" stop-color="#009eff"/><stop offset="0.5835" stop-color="#01fffe"/><stop offset="0.6128" stop-color="#56ffa9"/><stop offset="0.6515" stop-color="#a2ff5d"/><stop offset="0.6947" stop-color="#eeff11"/><stop offset="0.7056" stop-color="#fffc00"/><stop offset="0.7241" stop-color="#ffdd00"/><stop offset="0.8199" stop-color="#ff6d00"/><stop offset="0.9111" stop-color="#ff0d00"/><stop offset="0.9328" stop-color="#fc0000"/><stop offset="0.9745" stop-color="#f00000"/><stop offset="1.0000" stop-color="#f30000"/></linearGradient><linearGradient id="g88" x2="0" y2="1"><stop offset="0.0000" stop-color="#000083"/><stop offset="0.0611" stop-color="#0000a5"/><stop offset="0.1399" stop-color="#0000f9"/><stop offset="0.1569" stop-color="#0004ff"/><stop offset="0.1909" stop-color="#0007ff"/><stop offset="0.2110" stop-color="#0000fb"/><stop offset="0.2960" stop-color="#0000a1"/><stop offset="0.3331" stop-color="#00008e"/><stop offset="0.3825" stop-color="#00009d"/><stop offset="0.4382" stop-color="#0000c3"/><stop offset="0.4815" stop-color="#0000f8"/><stop offset="0.4892" stop-color="#0005ff"/><stop offset="0.5139" stop-color="#0034ff"/><stop offset="0.5526" stop-color="#00a7ff"/><stop offset="0.5819" stop-color="#01fffe"/><stop offset="0.6128" stop-color="#59ffa6"/><stop offset="0.6515" stop-color="#a6ff59"/><stop offset="0.6978" stop-color="#f7ff08"/><stop offset="0.7040" stop-color="#fffb00"/><stop offset="0.7226" stop-color="#ffdc00"/><stop offset="0.7767" stop-color="#ff9d00"/><stop offset="0.8941" stop-color="#ff2000"/><stop offset="0.9374" stop-color="#fe0000"/><stop offset="0.9838" stop-color="#f70000"/><stop offset="1.0000" stop-color="#fa0000"/></linearGradient><linearGradient id="g89" x2="0" y2="1"><stop offset="0.0000" stop-color="#000083"/><stop offset="0.0626" stop-color="#0000a6"/><stop offset="0.1383" stop-color="#0000f6"/><stop offset="0.1584" stop-color="#0003ff"/><stop offset="0.1940" stop-color="#0004ff"/><stop offset="0.2110" stop-color="#0000f9"/><stop offset="0.3006" stop-color="#00009a"/><stop offset="0.3346" stop-color="#00008a"/><stop offset="0.3825" stop-color="#00009b"/><stop offset="0.4382" stop-color="#0000c3"/><stop offset="0.4784" stop-color="#0000f6"/><stop offset="0.4861" stop-color="#0003ff"/><stop offset="0.5124" stop-color="#0034ff"/><stop offset="0.5495" stop-color="#00a0ff"/><stop offset="0.5804" stop-color="#00ffff"/><stop offset="0.6113" stop-color="#59ffa6"/><stop offset="0.6484" stop-color="#a3ff5c"/><stop offset="0.7009" stop-color="#fffd00"/><stop offset="0.7226" stop-color="#ffda00"/><stop offset="0.7689" stop-color="#ffa300"/><stop offset="0.8988" stop-color="#ff2000"/><stop offset="0.9451" stop-color="#ff0100"/><stop offset="1.0000" stop-color="#ff0100"/></linearGradient><linearGradient id="g90" x2="0" y2="1"><stop offset="0.0000" stop-color="#000083"/><stop offset="0.0641" stop-color="#0000a8"/><stop offset="0.1368" stop-color="#0000f4"/><stop offset="0.1631" stop-color="#0002ff"/><stop offset="0.2048" stop-color="#0000fc"/><stop offset="0.2512" stop-color="#0000ce"/><stop offset="0.3053" stop-color="#000094"/><stop offset="0.3362" stop-color="#000086"/><stop offset="0.3810" stop-color="#000098"/><stop offset="0.4397" stop-color="#0000c6"/><stop offset="0.4845" stop-color="#0003ff"/><stop offset="0.5124" stop-color="#0039ff"/><stop offset="0.5510" stop-color="#00a9ff"/><stop offset="0.5788" stop-color="#00feff"/><stop offset="0.6128" stop-color="#5fffa0"/><stop offset="0.6499" stop-color="#a9ff56"/><stop offset="0.6994" stop-color="#fffd00"/><stop offset="0.7241" stop-color="#ffd600"/><stop offset="0.7643" stop-color="#ffa600"/><stop offset="0.9019" stop-color="#ff2100"/><stop offset="0.9467" stop-color="#ff0700"/><stop offset="0.9930" stop-color="#ff0600"/><stop offset="1.0000" stop-color="#ff0800"/></linearGradient><linearGradient id="g91" x2="0" y2="1"><stop offset="0.0000" stop-color="#000083"/><stop offset="0.0657" stop-color="#0000a9"/><stop offset="0.1352" stop-color="#0000f2"/><stop offset="0.1677" stop-color="#0001ff"/><stop offset="0.2032" stop-color="#0000fb"/><stop offset="0.2465" stop-color="#0000d2"/><stop offset="0.3068" stop-color="#00008f"/><stop offset="0.3362" stop-color="#000082"/><stop offset="0.3764" stop-color="#000093"/><stop offset="0.4382" stop-color="#0000c6"/><stop offset="0.4753" stop-color="#0000f7"/><stop offset="0.4830" stop-color="#0004ff"/><stop offset="0.5108" stop-color="#0039ff"/><stop offset="0.5479" stop-color="#00a3ff"/><stop offset="0.5788" stop-color="#03fffc"/><stop offset="0.6113" stop-color="#5effa1"/><stop offset="0.6484" stop-color="#a9ff56"/><stop offset="0.6978" stop-color="#fffd00"/><stop offset="0.7241" stop-color="#ffd300"/><stop offset="0.7628" stop-color="#ffa600"/><stop offset="0.9065" stop-color="#ff2200"/><stop offset="0.9482" stop-color="#ff0c00"/><stop offset="0.9961" stop-color="#ff0e00"/><stop offset="1.0000" stop-color="#ff0f00"/></linearGradient><linearGradient id="g92" x2="0" y2="1"><stop offset="0.0000" stop-color="#000083"/><stop offset="0.0657" stop-color="#0000aa"/><stop offset="0.1352" stop-color="#0000f1"/><stop offset="0.1739" stop-color="#0000ff"/><stop offset="0.2048" stop-color="#0000f9"/><stop offset="0.2481" stop-color="#0000d0"/><stop offset="0.3099" stop-color="#000089"/><stop offset="0.3315" stop-color="#000080"/><stop offset="0.3563" stop-color="#000084"/><stop offset="0.4243" stop-color="#0000b9"/><stop offset="0.4598" stop-color="#0000e3"/><stop offset="0.4799" stop-color="#0002ff"/><stop offset="0.5108" stop-color="#003eff"/><stop offset="0.5495" stop-color="#00abff"/><stop offset="0.5773" stop-color="#01fffe"/><stop offset="0.6113" stop-color="#60ff9f"/><stop offset="0.6484" stop-color="#abff54"/><stop offset="0.6963" stop-color="#fffd00"/><stop offset="0.7241" stop-color="#ffd100"/><stop offset="0.7612" stop-color="#ffa500"/><stop offset="0.9049" stop-color="#ff2700"/><stop offset="0.9482" stop-color="#ff1200"/><stop offset="0.9961" stop-color="#ff1500"/><stop offset="1.0000" stop-color="#ff1600"/></linearGradient><linearGradient id="g93" x2="0" y2="1"><stop offset="0.0000" stop-color="#000083"/><stop offset="0.0672" stop-color="#0000ac"/><stop offset="0.1337" stop-color="#0000ef"/><stop offset="0.1754" stop-color="#0000fe"/><stop offset="0.2063" stop-color="#0000f7"/><stop offset="0.2496" stop-color="#0000cf"/><stop offset="0.3114" stop-color="#000084"/><stop offset="0.3284" stop-color="#000080"/><stop offset="0.3609" stop-color="#000083"/><stop offset="0.4335" stop-color="#0000c5"/><stop offset="0.4645" stop-color="#0000ed"/><stop offset="0.4768" stop-color="#0001ff"/><stop offset="0.5093" stop-color="#003fff"/><stop offset="0.5464" stop-color="#00a6ff"/><stop offset="0.5757" stop-color="#00ffff"/><stop offset="0.6113" stop-color="#62ff9d"/><stop offset="0.6484" stop-color="#adff52"/><stop offset="0.6947" stop-color="#fffd00"/><stop offset="0.7257" stop-color="#ffcd00"/><stop offset="0.7597" stop-color="#ffa500"/><stop offset="0.9003" stop-color="#ff2f00"/><stop offset="0.9467" stop-color="#ff1800"/><stop offset="0.9961" stop-color="#ff1b00"/><stop offset="1.0000" stop-color="#ff1c00"/></linearGradient><linearGradient id="g94" x2="0" y2="1"><stop offset="0.0000" stop-color="#000083"/><stop offset="0.0672" stop-color="#0000ac"/><stop offset="0.1337" stop-color="#0000ee"/><stop offset="0.1770" stop-color="#0000fd"/><stop offset="0.2063" stop-color="#0000f7"/><stop offset="0.2481" stop-color="#0000d1"/><stop offset="0.3114" stop-color="#000080"/><stop offset="0.3640" stop-color="#000082"/><stop offset="0.4490" stop-color="#0000d9"/><stop offset="0.4753" stop-color="#0003ff"/><stop offset="0.5093" stop-color="#0044ff"/><stop offset="0.5495" stop-color="#00b3ff"/><stop offset="0.5757" stop-color="#02fffd"/><stop offset="0.6128" stop-color="#68ff97"/><stop offset="0.6530" stop-color="#b7ff48"/><stop offset="0.6932" stop-color="#fffd00"/><stop offset="0.7272" stop-color="#ffc900"/><stop offset="0.7597" stop-color="#ffa300"/><stop offset="0.8957" stop-color="#ff3600"/><stop offset="0.9436" stop-color="#ff1e00"/><stop offset="0.9930" stop-color="#ff2100"/><stop offset="1.0000" stop-color="#ff2300"/></linearGradient><linearGradient id="g95" x2="0" y2="1"><stop offset="0.0000" stop-color="#000084"/><stop offset="0.0688" stop-color="#0000ae"/><stop offset="0.1321" stop-color="#0000ee"/><stop offset="0.1785" stop-color="#0000fd"/><stop offset="0.2079" stop-color="#0000f7"/><stop offset="0.2481" stop-color="#0000d2"/><stop offset="0.3099" stop-color="#000080"/><stop offset="0.3671" stop-color="#000082"/><stop offset="0.4552" stop-color="#0000e7"/><stop offset="0.4722" stop-color="#0003ff"/><stop offset="0.5077" stop-color="#0046ff"/><stop offset="0.5464" stop-color="#00aeff"/><stop offset="0.5742" stop-color="#01fffe"/><stop offset="0.6128" stop-color="#6aff95"/><stop offset="0.6561" stop-color="#bfff40"/><stop offset="0.6917" stop-color="#fffe00"/><stop offset="0.7272" stop-color="#ffc700"/><stop offset="0.7581" stop-color="#ffa200"/><stop offset="0.8910" stop-color="#ff3c00"/><stop offset="0.9420" stop-color="#ff2300"/><stop offset="0.9915" stop-color="#ff2600"/><stop offset="1.0000" stop-color="#ff2800"/></linearGradient><linearGradient id="g96" x2="0" y2="1"><stop offset="0.0000" stop-color="#000084"/><stop offset="0.0688" stop-color="#0000af"/><stop offset="0.1321" stop-color="#0000ee"/><stop offset="0.1801" stop-color="#0000fd"/><stop offset="0.2079" stop-color="#0000f8"/><stop offset="0.2465" stop-color="#0000d6"/><stop offset="0.3083" stop-color="#000080"/><stop offset="0.3686" stop-color="#000082"/><stop offset="0.4567" stop-color="#0000ed"/><stop offset="0.4691" stop-color="#0003ff"/><stop offset="0.5077" stop-color="#004bff"/><stop offset="0.5479" stop-color="#00b6ff"/><stop offset="0.5726" stop-color="#00feff"/><stop offset="0.6159" stop-color="#73ff8c"/><stop offset="0.6901" stop-color="#fffe00"/><stop offset="0.7287" stop-color="#ffc300"/><stop offset="0.7581" stop-color="#ffa000"/><stop offset="0.8879" stop-color="#ff4100"/><stop offset="0.9405" stop-color="#ff2600"/><stop offset="0.9900" stop-color="#ff2900"/><stop offset="1.0000" stop-color="#ff2c00"/></linearGradient><linearGradient id="g97" x2="0" y2="1"><stop offset="0.0000" stop-color="#000084"/><stop offset="0.0688" stop-color="#0000af"/><stop offset="0.1321" stop-color="#0000ee"/><stop offset="0.1816" stop-color="#0000fe"/><stop offset="0.2079" stop-color="#0000fa"/><stop offset="0.2450" stop-color="#0000da"/><stop offset="0.2883" stop-color="#00009a"/><stop offset="0.3068" stop-color="#000080"/><stop offset="0.3686" stop-color="#000081"/><stop offset="0.4583" stop-color="#0000f5"/><stop offset="0.4660" stop-color="#0003ff"/><stop offset="0.5077" stop-color="#0051ff"/><stop offset="0.5510" stop-color="#00c2ff"/><stop offset="0.5726" stop-color="#02fffd"/><stop offset="0.6159" stop-color="#74ff8b"/><stop offset="0.6886" stop-color="#ffff00"/><stop offset="0.7287" stop-color="#ffc000"/><stop offset="0.7566" stop-color="#ff9f00"/><stop offset="0.8910" stop-color="#ff4000"/><stop offset="0.9420" stop-color="#ff2800"/><stop offset="0.9915" stop-color="#ff2d00"/><stop offset="1.0000" stop-color="#ff3000"/></linearGradient><linearGradient id="g98" x2="0" y2="1"><stop offset="0.0000" stop-color="#000084"/><stop offset="0.0688" stop-color="#0000b0"/><stop offset="0.1306" stop-color="#0000ee"/><stop offset="0.1785" stop-color="#0001ff"/><stop offset="0.2094" stop-color="#0000fb"/><stop offset="0.2450" stop-color="#0000dd"/><stop offset="0.2836" stop-color="#0000a3"/><stop offset="0.3068" stop-color="#000080"/><stop offset="0.3686" stop-color="#000081"/><stop offset="0.4629" stop-color="#0003ff"/><stop offset="0.5077" stop-color="#0057ff"/><stop offset="0.5526" stop-color="#00cbff"/><stop offset="0.5711" stop-color="#00ffff"/><stop offset="0.6175" stop-color="#79ff86"/><stop offset="0.6870" stop-color="#ffff00"/><stop offset="0.7303" stop-color="#ffbc00"/><stop offset="0.7566" stop-color="#ff9d00"/><stop offset="0.8957" stop-color="#ff3d00"/><stop offset="0.9436" stop-color="#ff2900"/><stop offset="0.9930" stop-color="#ff3000"/><stop offset="1.0000" stop-color="#ff3200"/></linearGradient><linearGradient id="g99" x2="0" y2="1"><stop offset="0.0000" stop-color="#000084"/><stop offset="0.0688" stop-color="#0000b1"/><stop offset="0.1306" stop-color="#0000f0"/><stop offset="0.1739" stop-color="#0002ff"/><stop offset="0.2063" stop-color="#0001ff"/><stop offset="0.2403" stop-color="#0000e6"/><stop offset="0.2743" stop-color="#0000b6"/><stop offset="0.3068" stop-color="#000080"/><stop offset="0.3671" stop-color="#000081"/><stop offset="0.4583" stop-color="#0001ff"/><stop offset="0.5062" stop-color="#0059ff"/><stop offset="0.5510" stop-color="#00caff"/><stop offset="0.5711" stop-color="#02fffd"/><stop offset="0.6190" stop-color="#7dff82"/><stop offset="0.6870" stop-color="#fffd00"/><stop offset="0.7303" stop-color="#ffba00"/><stop offset="0.7566" stop-color="#ff9b00"/><stop offset="0.9034" stop-color="#ff3800"/><stop offset="0.9482" stop-color="#ff2900"/><stop offset="0.9977" stop-color="#ff3300"/><stop offset="1.0000" stop-color="#ff3300"/></linearGradient><linearGradient id="g100" x2="0" y2="1"><stop offset="0.0000" stop-color="#000084"/><stop offset="0.0688" stop-color="#0000b2"/><stop offset="0.1306" stop-color="#0000f2"/><stop offset="0.1677" stop-color="#0003ff"/><stop offset="0.2032" stop-color="#0006ff"/><stop offset="0.2233" stop-color="#0000fa"/><stop offset="0.2558" stop-color="#0000d8"/><stop offset="0.3083" stop-color="#000080"/><stop offset="0.3655" stop-color="#000081"/><stop offset="0.4459" stop-color="#0000f2"/><stop offset="0.4567" stop-color="#0004ff"/><stop offset="0.5077" stop-color="#0063ff"/><stop offset="0.5556" stop-color="#00daff"/><stop offset="0.5696" stop-color="#00ffff"/><stop offset="0.6206" stop-color="#81ff7e"/><stop offset="0.6855" stop-color="#fffe00"/><stop offset="0.7303" stop-color="#ffb700"/><stop offset="0.7566" stop-color="#ff9800"/><stop offset="0.9096" stop-color="#ff3400"/><stop offset="0.9513" stop-color="#ff2900"/><stop offset="1.0000" stop-color="#ff3400"/></linearGradient><linearGradient id="g101" x2="0" y2="1"><stop offset="0.0000" stop-color="#000084"/><stop offset="0.0688" stop-color="#0000b3"/><stop offset="0.1306" stop-color="#0000f4"/><stop offset="0.1615" stop-color="#0003ff"/><stop offset="0.2017" stop-color="#000aff"/><stop offset="0.2264" stop-color="#0000fc"/><stop offset="0.2589" stop-color="#0000d9"/><stop offset="0.3114" stop-color="#000080"/><stop offset="0.3624" stop-color="#000081"/><stop offset="0.4444" stop-color="#0000f6"/><stop offset="0.4521" stop-color="#0002ff"/><stop offset="0.5077" stop-color="#0068ff"/><stop offset="0.5572" stop-color="#00e1ff"/><stop offset="0.5696" stop-color="#03fffc"/><stop offset="0.6221" stop-color="#85ff7a"/><stop offset="0.6855" stop-color="#fffc00"/><stop offset="0.7303" stop-color="#ffb500"/><stop offset="0.7566" stop-color="#ff9600"/><stop offset="0.9127" stop-color="#ff3200"/><stop offset="0.9529" stop-color="#ff2900"/><stop offset="1.0000" stop-color="#ff3500"/></linearGradient><linearGradient id="g102" x2="0" y2="1"><stop offset="0.0000" stop-color="#000085"/><stop offset="0.0688" stop-color="#0000b4"/><stop offset="0.1306" stop-color="#0000f6"/><stop offset="0.1553" stop-color="#0003ff"/><stop offset="0.2002" stop-color="#000fff"/><stop offset="0.2326" stop-color="#0000fc"/><stop offset="0.2635" stop-color="#0000d7"/><stop offset="0.3145" stop-color="#000080"/><stop offset="0.3578" stop-color="#000081"/><stop offset="0.4459" stop-color="#0000fe"/><stop offset="0.5000" stop-color="#005eff"/><stop offset="0.5386" stop-color="#00b5ff"/><stop offset="0.5680" stop-color="#01fffe"/><stop offset="0.6236" stop-color="#89ff76"/><stop offset="0.6839" stop-color="#fffd00"/><stop offset="0.7287" stop-color="#ffb500"/><stop offset="0.7566" stop-color="#ff9300"/><stop offset="0.9127" stop-color="#ff3300"/><stop offset="0.9529" stop-color="#ff2a00"/><stop offset="1.0000" stop-color="#ff3700"/></linearGradient><linearGradient id="g103" x2="0" y2="1"><stop offset="0.0000" stop-color="#000085"/><stop offset="0.0688" stop-color="#0000b5"/><stop offset="0.1306" stop-color="#0000f8"/><stop offset="0.1522" stop-color="#0005ff"/><stop offset="0.2002" stop-color="#0013ff"/><stop offset="0.2388" stop-color="#0000fc"/><stop offset="0.2697" stop-color="#0000d4"/><stop offset="0.3145" stop-color="#000088"/><stop offset="0.3253" stop-color="#000080"/><stop offset="0.3516" stop-color="#000082"/><stop offset="0.3949" stop-color="#0000bd"/><stop offset="0.4428" stop-color="#0002ff"/><stop offset="0.4954" stop-color="#005bff"/><stop offset="0.5340" stop-color="#00aeff"/><stop offset="0.5680" stop-color="#03fffc"/><stop offset="0.6236" stop-color="#89ff76"/><stop offset="0.6824" stop-color="#ffff00"/><stop offset="0.7287" stop-color="#ffb200"/><stop offset="0.7550" stop-color="#ff9200"/><stop offset="0.8292" stop-color="#ff6600"/><stop offset="0.9173" stop-color="#ff3300"/><stop offset="0.9575" stop-color="#ff2d00"/><stop offset="1.0000" stop-color="#ff3a00"/></linearGradient><linearGradient id="g104" x2="0" y2="1"><stop offset="0.0000" stop-color="#000085"/><stop offset="0.0688" stop-color="#0000b7"/><stop offset="0.1306" stop-color="#0000fb"/><stop offset="0.1553" stop-color="#0009ff"/><stop offset="0.2002" stop-color="#0018ff"/><stop offset="0.2357" stop-color="#0006ff"/><stop offset="0.2481" stop-color="#0000f9"/><stop offset="0.2821" stop-color="#0000c7"/><stop offset="0.3161" stop-color="#000090"/><stop offset="0.3346" stop-color="#000083"/><stop offset="0.3563" stop-color="#00008f"/><stop offset="0.4382" stop-color="#0002ff"/><stop offset="0.4691" stop-color="#0032ff"/><stop offset="0.5216" stop-color="#0096ff"/><stop offset="0.5665" stop-color="#01fffe"/><stop offset="0.6252" stop-color="#8dff72"/><stop offset="0.6824" stop-color="#fffe00"/><stop offset="0.7272" stop-color="#ffb200"/><stop offset="0.7550" stop-color="#ff9000"/><stop offset="0.8230" stop-color="#ff6900"/><stop offset="0.9189" stop-color="#ff3500"/><stop offset="0.9621" stop-color="#ff3200"/><stop offset="1.0000" stop-color="#ff3e00"/></linearGradient><linearGradient id="g105" x2="0" y2="1"><stop offset="0.0000" stop-color="#000085"/><stop offset="0.0688" stop-color="#0000b8"/><stop offset="0.1306" stop-color="#0000fd"/><stop offset="0.1971" stop-color="#001dff"/><stop offset="0.2326" stop-color="#000eff"/><stop offset="0.2512" stop-color="#0000fc"/><stop offset="0.2883" stop-color="#0000c5"/><stop offset="0.3192" stop-color="#000097"/><stop offset="0.3377" stop-color="#00008e"/><stop offset="0.3609" stop-color="#00009e"/><stop offset="0.4335" stop-color="#0002ff"/><stop offset="0.4629" stop-color="#002dff"/><stop offset="0.5201" stop-color="#0097ff"/><stop offset="0.5665" stop-color="#03fffc"/><stop offset="0.6252" stop-color="#8dff72"/><stop offset="0.6824" stop-color="#fffc00"/><stop offset="0.7272" stop-color="#ffb000"/><stop offset="0.7550" stop-color="#ff8e00"/><stop offset="0.8199" stop-color="#ff6a00"/><stop offset="0.9189" stop-color="#ff3a00"/><stop offset="0.9637" stop-color="#ff3800"/><stop offset="1.0000" stop-color="#ff4300"/></linearGradient><linearGradient id="g106" x2="0" y2="1"><stop offset="0.0000" stop-color="#000085"/><stop offset="0.0672" stop-color="#0000b7"/><stop offset="0.1291" stop-color="#0000fe"/><stop offset="0.1924" stop-color="#0020ff"/><stop offset="0.2233" stop-color="#001aff"/><stop offset="0.2573" stop-color="#0000fc"/><stop offset="0.3176" stop-color="#0000a5"/><stop offset="0.3362" stop-color="#00009a"/><stop offset="0.3609" stop-color="#0000a9"/><stop offset="0.4289" stop-color="#0003ff"/><stop offset="0.4614" stop-color="#0030ff"/><stop offset="0.5216" stop-color="#009fff"/><stop offset="0.5649" stop-color="#01fffe"/><stop offset="0.6267" stop-color="#91ff6e"/><stop offset="0.6808" stop-color="#fffe00"/><stop offset="0.7272" stop-color="#ffae00"/><stop offset="0.7550" stop-color="#ff8c00"/><stop offset="0.8184" stop-color="#ff6b00"/><stop offset="0.9189" stop-color="#ff3f00"/><stop offset="0.9668" stop-color="#ff3f00"/><stop offset="1.0000" stop-color="#ff4900"/></linearGradient><linearGradient id="g107" x2="0" y2="1"><stop offset="0.0000" stop-color="#000086"/><stop offset="0.0672" stop-color="#0000b8"/><stop offset="0.1275" stop-color="#0000ff"/><stop offset="0.1878" stop-color="#0023ff"/><stop offset="0.2125" stop-color="#0024ff"/><stop offset="0.2481" stop-color="#000eff"/><stop offset="0.2635" stop-color="#0000fc"/><stop offset="0.3176" stop-color="#0000b1"/><stop offset="0.3377" stop-color="#0000a7"/><stop offset="0.3640" stop-color="#0000b8"/><stop offset="0.4227" stop-color="#0001ff"/><stop offset="0.4598" stop-color="#0034ff"/><stop offset="0.5232" stop-color="#00a6ff"/><stop offset="0.5649" stop-color="#03fffc"/><stop offset="0.6283" stop-color="#94ff6b"/><stop offset="0.6808" stop-color="#fffd00"/><stop offset="0.7257" stop-color="#ffae00"/><stop offset="0.7550" stop-color="#ff8900"/><stop offset="0.8153" stop-color="#ff6c00"/><stop offset="0.9204" stop-color="#ff4500"/><stop offset="0.9714" stop-color="#ff4700"/><stop offset="1.0000" stop-color="#ff5000"/></linearGradient><linearGradient id="g108" x2="0" y2="1"><stop offset="0.0000" stop-color="#000086"/><stop offset="0.0672" stop-color="#0000b9"/><stop offset="0.1260" stop-color="#0001ff"/><stop offset="0.1847" stop-color="#0027ff"/><stop offset="0.2094" stop-color="#002aff"/><stop offset="0.2450" stop-color="#0018ff"/><stop offset="0.2697" stop-color="#0000fd"/><stop offset="0.3192" stop-color="#0000bd"/><stop offset="0.3377" stop-color="#0000b5"/><stop offset="0.3655" stop-color="#0000c5"/><stop offset="0.4181" stop-color="#0002ff"/><stop offset="0.4583" stop-color="#0037ff"/><stop offset="0.5247" stop-color="#00adff"/><stop offset="0.5634" stop-color="#01fffe"/><stop offset="0.6082" stop-color="#69ff96"/><stop offset="0.6793" stop-color="#ffff00"/><stop offset="0.7257" stop-color="#ffab00"/><stop offset="0.7550" stop-color="#ff8700"/><stop offset="0.8153" stop-color="#ff6c00"/><stop offset="0.9204" stop-color="#ff4b00"/><stop offset="0.9776" stop-color="#ff4f00"/><stop offset="1.0000" stop-color="#ff5600"/></linearGradient><linearGradient id="g109" x2="0" y2="1"><stop offset="0.0000" stop-color="#000086"/><stop offset="0.0672" stop-color="#0000ba"/><stop offset="0.1229" stop-color="#0000ff"/><stop offset="0.1708" stop-color="#0024ff"/><stop offset="0.2048" stop-color="#0030ff"/><stop offset="0.2419" stop-color="#0021ff"/><stop offset="0.2759" stop-color="#0000fd"/><stop offset="0.3207" stop-color="#0000c9"/><stop offset="0.3393" stop-color="#0000c2"/><stop offset="0.3686" stop-color="#0000d3"/><stop offset="0.4119" stop-color="#0002ff"/><stop offset="0.4583" stop-color="#003dff"/><stop offset="0.5263" stop-color="#00b4ff"/><stop offset="0.5634" stop-color="#03fffc"/><stop offset="0.6020" stop-color="#5bffa4"/><stop offset="0.6406" stop-color="#aeff51"/><stop offset="0.6793" stop-color="#fffd00"/><stop offset="0.7257" stop-color="#ffa900"/><stop offset="0.7550" stop-color="#ff8400"/><stop offset="0.8138" stop-color="#ff6c00"/><stop offset="0.9204" stop-color="#ff5000"/><stop offset="0.9822" stop-color="#ff5600"/><stop offset="1.0000" stop-color="#ff5b00"/></linearGradient><linearGradient id="g110" x2="0" y2="1"><stop offset="0.0000" stop-color="#000086"/><stop offset="0.0657" stop-color="#0000b9"/><stop offset="0.1213" stop-color="#0000ff"/><stop offset="0.1584" stop-color="#001fff"/><stop offset="0.2017" stop-color="#0034ff"/><stop offset="0.2388" stop-color="#0029ff"/><stop offset="0.2790" stop-color="#0003ff"/><stop offset="0.3053" stop-color="#0000e4"/><stop offset="0.3331" stop-color="#0000cf"/><stop offset="0.3624" stop-color="#0000d9"/><stop offset="0.4057" stop-color="#0002ff"/><stop offset="0.4567" stop-color="#0040ff"/><stop offset="0.5278" stop-color="#00bbff"/><stop offset="0.5618" stop-color="#01fffe"/><stop offset="0.5989" stop-color="#54ffab"/><stop offset="0.6360" stop-color="#a5ff5a"/><stop offset="0.6793" stop-color="#fffc00"/><stop offset="0.7241" stop-color="#ffa800"/><stop offset="0.7550" stop-color="#ff8200"/><stop offset="0.8138" stop-color="#ff6b00"/><stop offset="0.9204" stop-color="#ff5300"/><stop offset="0.9900" stop-color="#ff5c00"/><stop offset="1.0000" stop-color="#ff5f00"/></linearGradient><linearGradient id="g111" x2="0" y2="1"><stop offset="0.0000" stop-color="#000087"/><stop offset="0.0657" stop-color="#0000ba"/><stop offset="0.1198" stop-color="#0000ff"/><stop offset="0.1522" stop-color="#001dff"/><stop offset="0.2002" stop-color="#0038ff"/><stop offset="0.2388" stop-color="#002eff"/><stop offset="0.2821" stop-color="#0008ff"/><stop offset="0.2929" stop-color="#0000fb"/><stop offset="0.3284" stop-color="#0000dd"/><stop offset="0.3547" stop-color="#0000e0"/><stop offset="0.3995" stop-color="#0002ff"/><stop offset="0.4567" stop-color="#0046ff"/><stop offset="0.5294" stop-color="#00c1ff"/><stop offset="0.5618" stop-color="#03fffc"/><stop offset="0.5974" stop-color="#51ffae"/><stop offset="0.6360" stop-color="#a6ff59"/><stop offset="0.6777" stop-color="#fffe00"/><stop offset="0.7241" stop-color="#ffa600"/><stop offset="0.7550" stop-color="#ff7f00"/><stop offset="0.8122" stop-color="#ff6a00"/><stop offset="0.9204" stop-color="#ff5500"/><stop offset="0.9977" stop-color="#ff6100"/><stop offset="1.0000" stop-color="#ff6200"/></linearGradient><linearGradient id="g112" x2="0" y2="1"><stop offset="0.0000" stop-color="#000087"/><stop offset="0.0657" stop-color="#0000bb"/><stop offset="0.1182" stop-color="#0000ff"/><stop offset="0.1491" stop-color="#001dff"/><stop offset="0.2002" stop-color="#003cff"/><stop offset="0.2388" stop-color="#0033ff"/><stop offset="0.2852" stop-color="#000dff"/><stop offset="0.3022" stop-color="#0000fb"/><stop offset="0.3346" stop-color="#0000e6"/><stop offset="0.3686" stop-color="#0000f1"/><stop offset="0.3918" stop-color="#0003ff"/><stop offset="0.4536" stop-color="#0046ff"/><stop offset="0.5309" stop-color="#00c7ff"/><stop offset="0.5603" stop-color="#01fffe"/><stop offset="0.5958" stop-color="#4dffb2"/><stop offset="0.6360" stop-color="#a6ff59"/><stop offset="0.6777" stop-color="#fffd00"/><stop offset="0.7226" stop-color="#ffa600"/><stop offset="0.7550" stop-color="#ff7d00"/><stop offset="0.8122" stop-color="#ff6800"/><stop offset="0.9204" stop-color="#ff5700"/><stop offset="1.0000" stop-color="#ff6400"/></linearGradient><linearGradient id="g113" x2="0" y2="1"><stop offset="0.0000" stop-color="#000087"/><stop offset="0.0657" stop-color="#0000bb"/><stop offset="0.1182" stop-color="#0002ff"/><stop offset="0.1491" stop-color="#001fff"/><stop offset="0.2002" stop-color="#003fff"/><stop offset="0.2403" stop-color="#0036ff"/><stop offset="0.2944" stop-color="#000cff"/><stop offset="0.3130" stop-color="#0000fc"/><stop offset="0.3393" stop-color="#0000f1"/><stop offset="0.3810" stop-color="#0003ff"/><stop offset="0.4227" stop-color="#0028ff"/><stop offset="0.4583" stop-color="#0053ff"/><stop offset="0.5340" stop-color="#00cfff"/><stop offset="0.5603" stop-color="#02fffd"/><stop offset="0.5958" stop-color="#4effb1"/><stop offset="0.6391" stop-color="#adff52"/><stop offset="0.6777" stop-color="#fffc00"/><stop offset="0.7226" stop-color="#ffa400"/><stop offset="0.7535" stop-color="#ff7b00"/><stop offset="0.8122" stop-color="#ff6700"/><stop offset="0.9204" stop-color="#ff5700"/><stop offset="1.0000" stop-color="#ff6500"/></linearGradient><linearGradient id="g114" x2="0" y2="1"><stop offset="0.0000" stop-color="#000087"/><stop offset="0.0657" stop-color="#0000bc"/><stop offset="0.1167" stop-color="#0001ff"/><stop offset="0.1476" stop-color="#001fff"/><stop offset="0.2002" stop-color="#0041ff"/><stop offset="0.2403" stop-color="#0039ff"/><stop offset="0.3238" stop-color="#0000fe"/><stop offset="0.3485" stop-color="#0000fb"/><stop offset="0.3733" stop-color="#0006ff"/><stop offset="0.4134" stop-color="#0024ff"/><stop offset="0.4567" stop-color="#0055ff"/><stop offset="0.5355" stop-color="#00d4ff"/><stop offset="0.5587" stop-color="#00ffff"/><stop offset="0.5943" stop-color="#4affb5"/><stop offset="0.6391" stop-color="#adff52"/><stop offset="0.6762" stop-color="#ffff00"/><stop offset="0.7226" stop-color="#ffa200"/><stop offset="0.7535" stop-color="#ff7900"/><stop offset="0.8122" stop-color="#ff6600"/><stop offset="0.9204" stop-color="#ff5700"/><stop offset="1.0000" stop-color="#ff6500"/></linearGradient><linearGradient id="g115" x2="0" y2="1"><stop offset="0.0000" stop-color="#000087"/><stop offset="0.0657" stop-color="#0000bc"/><stop offset="0.1167" stop-color="#0001ff"/><stop offset="0.1476" stop-color="#0020ff"/><stop offset="0.2002" stop-color="#0042ff"/><stop offset="0.2419" stop-color="#003bff"/><stop offset="0.3315" stop-color="#0003ff"/><stop offset="0.3717" stop-color="#000cff"/><stop offset="0.4119" stop-color="#0029ff"/><stop offset="0.4567" stop-color="#005aff"/><stop offset="0.5371" stop-color="#00d9ff"/><stop offset="0.5587" stop-color="#02fffd"/><stop offset="0.5943" stop-color="#4bffb4"/><stop offset="0.6453" stop-color="#baff45"/><stop offset="0.6762" stop-color="#fffe00"/><stop offset="0.7226" stop-color="#ffa000"/><stop offset="0.7535" stop-color="#ff7700"/><stop offset="0.8122" stop-color="#ff6500"/><stop offset="0.9204" stop-color="#ff5700"/><stop offset="1.0000" stop-color="#ff6500"/></linearGradient><linearGradient id="g116" x2="0" y2="1"><stop offset="0.0000" stop-color="#000087"/><stop offset="0.0657" stop-color="#0000bd"/><stop offset="0.1167" stop-color="#0002ff"/><stop offset="0.1476" stop-color="#0020ff"/><stop offset="0.2002" stop-color="#0043ff"/><stop offset="0.2419" stop-color="#003dff"/><stop offset="0.3331" stop-color="#000aff"/><stop offset="0.3764" stop-color="#0015ff"/><stop offset="0.4150" stop-color="#0031ff"/><stop offset="0.4567" stop-color="#005eff"/><stop offset="0.5386" stop-color="#00ddff"/><stop offset="0.5587" stop-color="#03fffc"/><stop offset="0.5943" stop-color="#4bffb4"/><stop offset="0.6762" stop-color="#fffe00"/><stop offset="0.7210" stop-color="#ffa200"/><stop offset="0.7535" stop-color="#ff7600"/><stop offset="0.8122" stop-color="#ff6400"/><stop offset="0.9204" stop-color="#ff5600"/><stop offset="1.0000" stop-color="#ff6400"/></linearGradient><linearGradient id="g117" x2="0" y2="1"><stop offset="0.0000" stop-color="#000087"/><stop offset="0.0657" stop-color="#0000bd"/><stop offset="0.1167" stop-color="#0002ff"/><stop offset="0.1476" stop-color="#0020ff"/><stop offset="0.2002" stop-color="#0043ff"/><stop offset="0.2434" stop-color="#003eff"/><stop offset="0.3331" stop-color="#0010ff"/><stop offset="0.3794" stop-color="#001cff"/><stop offset="0.4165" stop-color="#0037ff"/><stop offset="0.4567" stop-color="#0062ff"/><stop offset="0.5402" stop-color="#00e2ff"/><stop offset="0.5587" stop-color="#03fffc"/><stop offset="0.5927" stop-color="#47ffb8"/><stop offset="0.6762" stop-color="#fffe00"/><stop offset="0.7210" stop-color="#ffa100"/><stop offset="0.7535" stop-color="#ff7500"/><stop offset="0.8122" stop-color="#ff6300"/><stop offset="0.9204" stop-color="#ff5500"/><stop offset="1.0000" stop-color="#ff6400"/></linearGradient><linearGradient id="g118" x2="0" y2="1"><stop offset="0.0000" stop-color="#000087"/><stop offset="0.0657" stop-color="#0000bd"/><stop offset="0.1167" stop-color="#0001ff"/><stop offset="0.1476" stop-color="#0020ff"/><stop offset="0.2017" stop-color="#0043ff"/><stop offset="0.2465" stop-color="#003eff"/><stop offset="0.3346" stop-color="#0015ff"/><stop offset="0.3841" stop-color="#0024ff"/><stop offset="0.4243" stop-color="#0042ff"/><stop offset="0.4583" stop-color="#0068ff"/><stop offset="0.5433" stop-color="#00e8ff"/><stop offset="0.5572" stop-color="#01fffe"/><stop offset="0.5927" stop-color="#47ffb8"/><stop offset="0.6762" stop-color="#fffe00"/><stop offset="0.7210" stop-color="#ffa100"/><stop offset="0.7535" stop-color="#ff7500"/><stop offset="0.8122" stop-color="#ff6300"/><stop offset="0.9219" stop-color="#ff5500"/><stop offset="1.0000" stop-color="#ff6300"/></linearGradient><linearGradient id="g119" x2="0" y2="1"><stop offset="0.0000" stop-color="#000087"/><stop offset="0.0657" stop-color="#0000bd"/><stop offset="0.1167" stop-color="#0001ff"/><stop offset="0.1476" stop-color="#001fff"/><stop offset="0.2017" stop-color="#0042ff"/><stop offset="0.2481" stop-color="#003dff"/><stop offset="0.3346" stop-color="#0019ff"/><stop offset="0.3856" stop-color="#0029ff"/><stop offset="0.4289" stop-color="#004bff"/><stop offset="0.4598" stop-color="#006dff"/><stop offset="0.5464" stop-color="#00eeff"/><stop offset="0.5572" stop-color="#02fffd"/><stop offset="0.5927" stop-color="#47ffb8"/><stop offset="0.6762" stop-color="#ffff00"/><stop offset="0.7210" stop-color="#ffa100"/><stop offset="0.7535" stop-color="#ff7500"/><stop offset="0.8122" stop-color="#ff6400"/><stop offset="0.9235" stop-color="#ff5500"/><stop offset="1.0000" stop-color="#ff6200"/></linearGradient><linearGradient id="g120" x2="0" y2="1"><stop offset="0.0000" stop-color="#000087"/><stop offset="0.0657" stop-color="#0000bc"/><stop offset="0.1167" stop-color="#0000ff"/><stop offset="0.1476" stop-color="#001eff"/><stop offset="0.2017" stop-color="#0041ff"/><stop offset="0.2496" stop-color="#003dff"/><stop offset="0.3346" stop-color="#001dff"/><stop offset="0.3872" stop-color="#002eff"/><stop offset="0.4366" stop-color="#0056ff"/><stop offset="0.4660" stop-color="#0079ff"/><stop offset="0.5495" stop-color="#00f3ff"/><stop offset="0.5572" stop-color="#02fffd"/><stop offset="0.5927" stop-color="#46ffb9"/><stop offset="0.6777" stop-color="#fffc00"/><stop offset="0.7226" stop-color="#ffa000"/><stop offset="0.7535" stop-color="#ff7600"/><stop offset="0.8122" stop-color="#ff6500"/><stop offset="0.9250" stop-color="#ff5500"/><stop offset="1.0000" stop-color="#ff6100"/></linearGradient><linearGradient id="g121" x2="0" y2="1"><stop offset="0.0000" stop-color="#000087"/><stop offset="0.0657" stop-color="#0000bc"/><stop offset="0.1182" stop-color="#0001ff"/><stop offset="0.1507" stop-color="#001fff"/><stop offset="0.2032" stop-color="#0040ff"/><stop offset="0.2527" stop-color="#003bff"/><stop offset="0.3362" stop-color="#0020ff"/><stop offset="0.3918" stop-color="#0034ff"/><stop offset="0.4521" stop-color="#0069ff"/><stop offset="0.5479" stop-color="#00f1ff"/><stop offset="0.5572" stop-color="#02fffd"/><stop offset="0.5927" stop-color="#45ffba"/><stop offset="0.6777" stop-color="#fffe00"/><stop offset="0.7226" stop-color="#ffa100"/><stop offset="0.7535" stop-color="#ff7800"/><stop offset="0.8122" stop-color="#ff6600"/><stop offset="0.9266" stop-color="#ff5500"/><stop offset="1.0000" stop-color="#ff6000"/></linearGradient><linearGradient id="g122" x2="0" y2="1"><stop offset="0.0000" stop-color="#000087"/><stop offset="0.0657" stop-color="#0000bc"/><stop offset="0.1182" stop-color="#0000ff"/><stop offset="0.1507" stop-color="#001dff"/><stop offset="0.2032" stop-color="#003eff"/><stop offset="0.2543" stop-color="#003aff"/><stop offset="0.3362" stop-color="#0023ff"/><stop offset="0.3949" stop-color="#003aff"/><stop offset="0.4552" stop-color="#0070ff"/><stop offset="0.5495" stop-color="#00f4ff"/><stop offset="0.5572" stop-color="#02fffd"/><stop offset="0.5927" stop-color="#44ffbb"/><stop offset="0.6762" stop-color="#faff05"/><stop offset="0.6839" stop-color="#fff100"/><stop offset="0.7241" stop-color="#ffa100"/><stop offset="0.7535" stop-color="#ff7a00"/><stop offset="0.8122" stop-color="#ff6800"/><stop offset="0.9281" stop-color="#ff5500"/><stop offset="1.0000" stop-color="#ff5e00"/></linearGradient><linearGradient id="g123" x2="0" y2="1"><stop offset="0.0000" stop-color="#000087"/><stop offset="0.0657" stop-color="#0000bc"/><stop offset="0.1198" stop-color="#0001ff"/><stop offset="0.1569" stop-color="#0020ff"/><stop offset="0.2048" stop-color="#003dff"/><stop offset="0.2589" stop-color="#0039ff"/><stop offset="0.3362" stop-color="#0025ff"/><stop offset="0.3964" stop-color="#003eff"/><stop offset="0.4567" stop-color="#0075ff"/><stop offset="0.5510" stop-color="#00f6ff"/><stop offset="0.5587" stop-color="#05fffa"/><stop offset="0.5927" stop-color="#43ffbc"/><stop offset="0.6762" stop-color="#f8ff07"/><stop offset="0.6808" stop-color="#fffb00"/><stop offset="0.7241" stop-color="#ffa400"/><stop offset="0.7535" stop-color="#ff7d00"/><stop offset="0.8138" stop-color="#ff6b00"/><stop offset="0.9312" stop-color="#ff5400"/><stop offset="1.0000" stop-color="#ff5d00"/></linearGradient><linearGradient id="g124" x2="0" y2="1"><stop offset="0.0000" stop-color="#000087"/><stop offset="0.0657" stop-color="#0000bb"/><stop offset="0.1198" stop-color="#0000ff"/><stop offset="0.1600" stop-color="#0021ff"/><stop offset="0.2048" stop-color="#003bff"/><stop offset="0.2604" stop-color="#0038ff"/><stop offset="0.3362" stop-color="#0028ff"/><stop offset="0.3995" stop-color="#0043ff"/><stop offset="0.4567" stop-color="#0077ff"/><stop offset="0.5510" stop-color="#00f6ff"/><stop offset="0.5587" stop-color="#04fffb"/><stop offset="0.5927" stop-color="#42ffbd"/><stop offset="0.6747" stop-color="#f1ff0e"/><stop offset="0.6824" stop-color="#fffb00"/><stop offset="0.7241" stop-color="#ffa800"/><stop offset="0.7535" stop-color="#ff8100"/><stop offset="0.8138" stop-color="#ff6e00"/><stop offset="0.9328" stop-color="#ff5400"/><stop offset="1.0000" stop-color="#ff5b00"/></linearGradient><linearGradient id="g125" x2="0" y2="1"><stop offset="0.0000" stop-color="#000087"/><stop offset="0.0672" stop-color="#0000bd"/><stop offset="0.1213" stop-color="#0001ff"/><stop offset="0.1692" stop-color="#0026ff"/><stop offset="0.2063" stop-color="#003aff"/><stop offset="0.2651" stop-color="#0036ff"/><stop offset="0.3377" stop-color="#002aff"/><stop offset="0.4011" stop-color="#0047ff"/><stop offset="0.4567" stop-color="#007aff"/><stop offset="0.5510" stop-color="#00f5ff"/><stop offset="0.5587" stop-color="#03fffc"/><stop offset="0.5912" stop-color="#3dffc2"/><stop offset="0.6747" stop-color="#edff12"/><stop offset="0.6824" stop-color="#ffff00"/><stop offset="0.7241" stop-color="#ffac00"/><stop offset="0.7535" stop-color="#ff8600"/><stop offset="0.8138" stop-color="#ff7100"/><stop offset="0.9343" stop-color="#ff5300"/><stop offset="1.0000" stop-color="#ff5900"/></linearGradient><linearGradient id="g126" x2="0" y2="1"><stop offset="0.0000" stop-color="#000087"/><stop offset="0.0672" stop-color="#0000bd"/><stop offset="0.1213" stop-color="#0000ff"/><stop offset="0.1847" stop-color="#002fff"/><stop offset="0.2141" stop-color="#0039ff"/><stop offset="0.2836" stop-color="#0032ff"/><stop offset="0.3393" stop-color="#002dff"/><stop offset="0.4026" stop-color="#004cff"/><stop offset="0.4583" stop-color="#007fff"/><stop offset="0.5526" stop-color="#00f7ff"/><stop offset="0.5603" stop-color="#05fffa"/><stop offset="0.5927" stop-color="#3effc1"/><stop offset="0.6747" stop-color="#e9ff16"/><stop offset="0.6855" stop-color="#fffc00"/><stop offset="0.7257" stop-color="#ffaf00"/><stop offset="0.7550" stop-color="#ff8a00"/><stop offset="0.8153" stop-color="#ff7400"/><stop offset="0.9359" stop-color="#ff5300"/><stop offset="1.0000" stop-color="#ff5600"/></linearGradient><linearGradient id="g127" x2="0" y2="1"><stop offset="0.0000" stop-color="#000087"/><stop offset="0.0672" stop-color="#0000bd"/><stop offset="0.1213" stop-color="#0000fe"/><stop offset="0.2002" stop-color="#0036ff"/><stop offset="0.2604" stop-color="#0036ff"/><stop offset="0.3362" stop-color="#002eff"/><stop offset="0.4026" stop-color="#004fff"/><stop offset="0.4583" stop-color="#0081ff"/><stop offset="0.5526" stop-color="#00f7ff"/><stop offset="0.5603" stop-color="#04fffb"/><stop offset="0.5912" stop-color="#38ffc7"/><stop offset="0.6747" stop-color="#e4ff1b"/><stop offset="0.6870" stop-color="#ffff00"/><stop offset="0.7257" stop-color="#ffb500"/><stop offset="0.7550" stop-color="#ff9000"/><stop offset="0.8153" stop-color="#ff7800"/><stop offset="0.9374" stop-color="#ff5100"/><stop offset="1.0000" stop-color="#ff5300"/></linearGradient><linearGradient id="g128" x2="0" y2="1"><stop offset="0.0000" stop-color="#000087"/><stop offset="0.0672" stop-color="#0000bc"/><stop offset="0.1229" stop-color="#0000ff"/><stop offset="0.2017" stop-color="#0035ff"/><stop offset="0.2666" stop-color="#0035ff"/><stop offset="0.3377" stop-color="#0031ff"/><stop offset="0.4057" stop-color="#0055ff"/><stop offset="0.4583" stop-color="#0084ff"/><stop offset="0.5541" stop-color="#00f8ff"/><stop offset="0.5618" stop-color="#05fffa"/><stop offset="0.5927" stop-color="#39ffc6"/><stop offset="0.6762" stop-color="#e2ff1d"/><stop offset="0.6901" stop-color="#fffe00"/><stop offset="0.7272" stop-color="#ffba00"/><stop offset="0.7550" stop-color="#ff9600"/><stop offset="0.8168" stop-color="#ff7c00"/><stop offset="0.9374" stop-color="#ff5000"/><stop offset="1.0000" stop-color="#ff4f00"/></linearGradient><linearGradient id="g129" x2="0" y2="1"><stop offset="0.0000" stop-color="#000087"/><stop offset="0.0672" stop-color="#0000bc"/><stop offset="0.1229" stop-color="#0000fe"/><stop offset="0.2032" stop-color="#0034ff"/><stop offset="0.2713" stop-color="#0035ff"/><stop offset="0.3377" stop-color="#0033ff"/><stop offset="0.4073" stop-color="#005bff"/><stop offset="0.4598" stop-color="#0089ff"/><stop offset="0.5541" stop-color="#00f7ff"/><stop offset="0.5634" stop-color="#06fff9"/><stop offset="0.5927" stop-color="#36ffc9"/><stop offset="0.6762" stop-color="#dcff23"/><stop offset="0.6932" stop-color="#ffff00"/><stop offset="0.7287" stop-color="#ffbe00"/><stop offset="0.7550" stop-color="#ff9d00"/><stop offset="0.8184" stop-color="#ff8000"/><stop offset="0.9374" stop-color="#ff4e00"/><stop offset="1.0000" stop-color="#ff4a00"/></linearGradient><linearGradient id="g130" x2="0" y2="1"><stop offset="0.0000" stop-color="#000087"/><stop offset="0.0672" stop-color="#0000bc"/><stop offset="0.1229" stop-color="#0000fd"/><stop offset="0.2032" stop-color="#0033ff"/><stop offset="0.2759" stop-color="#0034ff"/><stop offset="0.3377" stop-color="#0035ff"/><stop offset="0.4088" stop-color="#0060ff"/><stop offset="0.4614" stop-color="#008eff"/><stop offset="0.5541" stop-color="#00f5ff"/><stop offset="0.5634" stop-color="#04fffb"/><stop offset="0.5927" stop-color="#33ffcc"/><stop offset="0.6762" stop-color="#d6ff29"/><stop offset="0.6978" stop-color="#fffd00"/><stop offset="0.7303" stop-color="#ffc400"/><stop offset="0.7550" stop-color="#ffa400"/><stop offset="0.8199" stop-color="#ff8400"/><stop offset="0.9374" stop-color="#ff4b00"/><stop offset="1.0000" stop-color="#ff4500"/></linearGradient><linearGradient id="g131" x2="0" y2="1"><stop offset="0.0000" stop-color="#000087"/><stop offset="0.0672" stop-color="#0000bc"/><stop offset="0.1229" stop-color="#0000fd"/><stop offset="0.2048" stop-color="#0032ff"/><stop offset="0.2852" stop-color="#0034ff"/><stop offset="0.3393" stop-color="#0038ff"/><stop offset="0.4119" stop-color="#0067ff"/><stop offset="0.4629" stop-color="#0094ff"/><stop offset="0.5556" stop-color="#00f6ff"/><stop offset="0.5649" stop-color="#04fffb"/><stop offset="0.5927" stop-color="#30ffcf"/><stop offset="0.6762" stop-color="#cfff30"/><stop offset="0.7009" stop-color="#fffe00"/><stop offset="0.7334" stop-color="#ffc700"/><stop offset="0.7550" stop-color="#ffac00"/><stop offset="0.8215" stop-color="#ff8700"/><stop offset="0.9374" stop-color="#ff4800"/><stop offset="1.0000" stop-color="#ff4000"/></linearGradient><linearGradient id="g132" x2="0" y2="1"><stop offset="0.0000" stop-color="#000087"/><stop offset="0.0672" stop-color="#0000bb"/><stop offset="0.1229" stop-color="#0000fc"/><stop offset="0.2048" stop-color="#0031ff"/><stop offset="0.3362" stop-color="#0039ff"/><stop offset="0.4134" stop-color="#006dff"/><stop offset="0.4645" stop-color="#0099ff"/><stop offset="0.5556" stop-color="#00f4ff"/><stop offset="0.5665" stop-color="#04fffb"/><stop offset="0.5927" stop-color="#2cffd3"/><stop offset="0.6762" stop-color="#c8ff37"/><stop offset="0.7056" stop-color="#fffe00"/><stop offset="0.7411" stop-color="#ffc500"/><stop offset="0.7581" stop-color="#ffb200"/><stop offset="0.9374" stop-color="#ff4500"/><stop offset="0.9961" stop-color="#ff3a00"/><stop offset="1.0000" stop-color="#ff3a00"/></linearGradient><linearGradient id="g133" x2="0" y2="1"><stop offset="0.0000" stop-color="#000086"/><stop offset="0.0672" stop-color="#0000bb"/><stop offset="0.1229" stop-color="#0000fb"/><stop offset="0.1507" stop-color="#0011ff"/><stop offset="0.2063" stop-color="#0031ff"/><stop offset="0.3346" stop-color="#003bff"/><stop offset="0.4165" stop-color="#0075ff"/><stop offset="0.4691" stop-color="#00a2ff"/><stop offset="0.5556" stop-color="#00f3ff"/><stop offset="0.5680" stop-color="#04fffb"/><stop offset="0.5927" stop-color="#29ffd6"/><stop offset="0.6762" stop-color="#c0ff3f"/><stop offset="0.7102" stop-color="#fffe00"/><stop offset="0.7535" stop-color="#ffbd00"/><stop offset="0.9374" stop-color="#ff4100"/><stop offset="0.9946" stop-color="#ff3300"/><stop offset="1.0000" stop-color="#ff3300"/></linearGradient><linearGradient id="g134" x2="0" y2="1"><stop offset="0.0000" stop-color="#000086"/><stop offset="0.0672" stop-color="#0000bb"/><stop offset="0.1229" stop-color="#0000fb"/><stop offset="0.1383" stop-color="#0009ff"/><stop offset="0.2063" stop-color="#0030ff"/><stop offset="0.3331" stop-color="#003dff"/><stop offset="0.4212" stop-color="#007eff"/><stop offset="0.5479" stop-color="#00e8ff"/><stop offset="0.5696" stop-color="#03fffc"/><stop offset="0.5943" stop-color="#28ffd7"/><stop offset="0.6762" stop-color="#b9ff46"/><stop offset="0.7148" stop-color="#fffe00"/><stop offset="0.7550" stop-color="#ffc400"/><stop offset="0.9374" stop-color="#ff3c00"/><stop offset="0.9915" stop-color="#ff2c00"/><stop offset="1.0000" stop-color="#ff2c00"/></linearGradient><linearGradient id="g135" x2="0" y2="1"><stop offset="0.0000" stop-color="#000086"/><stop offset="0.0672" stop-color="#0000bb"/><stop offset="0.1229" stop-color="#0000fa"/><stop offset="0.1368" stop-color="#0007ff"/><stop offset="0.2063" stop-color="#0030ff"/><stop offset="0.3315" stop-color="#003fff"/><stop offset="0.4629" stop-color="#00a4ff"/><stop offset="0.5556" stop-color="#00efff"/><stop offset="0.5711" stop-color="#03fffc"/><stop offset="0.5958" stop-color="#26ffd9"/><stop offset="0.6762" stop-color="#b1ff4e"/><stop offset="0.7195" stop-color="#ffff00"/><stop offset="0.7550" stop-color="#ffcd00"/><stop offset="0.9374" stop-color="#ff3800"/><stop offset="0.9884" stop-color="#ff2500"/><stop offset="1.0000" stop-color="#ff2500"/></linearGradient><linearGradient id="g136" x2="0" y2="1"><stop offset="0.0000" stop-color="#000086"/><stop offset="0.0688" stop-color="#0000bd"/><stop offset="0.1260" stop-color="#0000fd"/><stop offset="0.2063" stop-color="#002fff"/><stop offset="0.3253" stop-color="#0041ff"/><stop offset="0.3995" stop-color="#0077ff"/><stop offset="0.5093" stop-color="#00caff"/><stop offset="0.5603" stop-color="#00f3ff"/><stop offset="0.5742" stop-color="#04fffb"/><stop offset="0.6005" stop-color="#2affd5"/><stop offset="0.6747" stop-color="#a7ff58"/><stop offset="0.7257" stop-color="#fffe00"/><stop offset="0.7550" stop-color="#ffd500"/><stop offset="0.8802" stop-color="#ff6300"/><stop offset="0.9451" stop-color="#ff2e00"/><stop offset="0.9930" stop-color="#ff1d00"/><stop offset="1.0000" stop-color="#ff1d00"/></linearGradient><linearGradient id="g137" x2="0" y2="1"><stop offset="0.0000" stop-color="#000086"/><stop offset="0.0688" stop-color="#0000bc"/><stop offset="0.1260" stop-color="#0000fc"/><stop offset="0.2079" stop-color="#002eff"/><stop offset="0.3192" stop-color="#0043ff"/><stop offset="0.3516" stop-color="#0057ff"/><stop offset="0.4459" stop-color="#00a0ff"/><stop offset="0.5572" stop-color="#00eeff"/><stop offset="0.5757" stop-color="#03fffc"/><stop offset="0.6066" stop-color="#31ffce"/><stop offset="0.6747" stop-color="#a0ff5f"/><stop offset="0.7303" stop-color="#feff01"/><stop offset="0.7566" stop-color="#ffdb00"/><stop offset="0.8725" stop-color="#ff6a00"/><stop offset="0.9420" stop-color="#ff2a00"/><stop offset="0.9884" stop-color="#ff1600"/><stop offset="1.0000" stop-color="#ff1500"/></linearGradient><linearGradient id="g138" x2="0" y2="1"><stop offset="0.0000" stop-color="#000086"/><stop offset="0.0688" stop-color="#0000bc"/><stop offset="0.1260" stop-color="#0000fb"/><stop offset="0.1507" stop-color="#000dff"/><stop offset="0.2079" stop-color="#002eff"/><stop offset="0.3114" stop-color="#0044ff"/><stop offset="0.3454" stop-color="#0058ff"/><stop offset="0.4413" stop-color="#00a3ff"/><stop offset="0.5572" stop-color="#00ecff"/><stop offset="0.5788" stop-color="#03fffc"/><stop offset="0.6700" stop-color="#91ff6e"/><stop offset="0.7349" stop-color="#fdff02"/><stop offset="0.7597" stop-color="#ffdf00"/><stop offset="0.8694" stop-color="#ff6d00"/><stop offset="0.9405" stop-color="#ff2600"/><stop offset="0.9869" stop-color="#ff0f00"/><stop offset="1.0000" stop-color="#ff0d00"/></linearGradient><linearGradient id="g139" x2="0" y2="1"><stop offset="0.0000" stop-color="#000086"/><stop offset="0.0688" stop-color="#0000bb"/><stop offset="0.1260" stop-color="#0000fb"/><stop offset="0.1399" stop-color="#0006ff"/><stop offset="0.2079" stop-color="#002dff"/><stop offset="0.3022" stop-color="#0045ff"/><stop offset="0.3439" stop-color="#005fff"/><stop offset="0.4351" stop-color="#00a5ff"/><stop offset="0.5572" stop-color="#00eaff"/><stop offset="0.5819" stop-color="#04fffb"/><stop offset="0.6716" stop-color="#8dff72"/><stop offset="0.7396" stop-color="#fdff02"/><stop offset="0.7643" stop-color="#ffe200"/><stop offset="0.8694" stop-color="#ff6c00"/><stop offset="0.9389" stop-color="#ff2100"/><stop offset="0.9838" stop-color="#ff0800"/><stop offset="1.0000" stop-color="#ff0600"/></linearGradient><linearGradient id="g140" x2="0" y2="1"><stop offset="0.0000" stop-color="#000086"/><stop offset="0.0688" stop-color="#0000bb"/><stop offset="0.1260" stop-color="#0000fa"/><stop offset="0.1399" stop-color="#0005ff"/><stop offset="0.2079" stop-color="#002cff"/><stop offset="0.2929" stop-color="#0045ff"/><stop offset="0.3423" stop-color="#0066ff"/><stop offset="0.4165" stop-color="#00a0ff"/><stop offset="0.5093" stop-color="#00ceff"/><stop offset="0.5587" stop-color="#00eaff"/><stop offset="0.5835" stop-color="#03fffc"/><stop offset="0.6731" stop-color="#8bff74"/><stop offset="0.7442" stop-color="#feff01"/><stop offset="0.8663" stop-color="#ff6f00"/><stop offset="0.9374" stop-color="#ff1d00"/><stop offset="0.9807" stop-color="#ff0200"/><stop offset="1.0000" stop-color="#fd0000"/></linearGradient><linearGradient id="g141" x2="0" y2="1"><stop offset="0.0000" stop-color="#000086"/><stop offset="0.0688" stop-color="#0000bb"/><stop offset="0.1260" stop-color="#0000f9"/><stop offset="0.1383" stop-color="#0003ff"/><stop offset="0.2079" stop-color="#002bff"/><stop offset="0.2852" stop-color="#0045ff"/><stop offset="0.3439" stop-color="#0070ff"/><stop offset="0.3964" stop-color="#0099ff"/><stop offset="0.4907" stop-color="#00c9ff"/><stop offset="0.5541" stop-color="#00e5ff"/><stop offset="0.5850" stop-color="#02fffd"/><stop offset="0.6747" stop-color="#88ff77"/><stop offset="0.7488" stop-color="#fffe00"/><stop offset="0.8586" stop-color="#ff7900"/><stop offset="0.9343" stop-color="#ff1b00"/><stop offset="0.9730" stop-color="#fe0000"/><stop offset="1.0000" stop-color="#f60000"/></linearGradient><linearGradient id="g142" x2="0" y2="1"><stop offset="0.0000" stop-color="#000086"/><stop offset="0.0688" stop-color="#0000ba"/><stop offset="0.1260" stop-color="#0000f8"/><stop offset="0.1399" stop-color="#0003ff"/><stop offset="0.2094" stop-color="#002bff"/><stop offset="0.2805" stop-color="#0044ff"/><stop offset="0.3439" stop-color="#0077ff"/><stop offset="0.3918" stop-color="#009cff"/><stop offset="0.4969" stop-color="#00cbff"/><stop offset="0.5556" stop-color="#00e5ff"/><stop offset="0.5866" stop-color="#03fffc"/><stop offset="0.6747" stop-color="#85ff7a"/><stop offset="0.7519" stop-color="#fffe00"/><stop offset="0.8462" stop-color="#ff8a00"/><stop offset="0.9312" stop-color="#ff1a00"/><stop offset="0.9637" stop-color="#fd0000"/><stop offset="1.0000" stop-color="#f00000"/></linearGradient><linearGradient id="g143" x2="0" y2="1"><stop offset="0.0000" stop-color="#000086"/><stop offset="0.0688" stop-color="#0000ba"/><stop offset="0.1260" stop-color="#0000f7"/><stop offset="0.1414" stop-color="#0003ff"/><stop offset="0.2094" stop-color="#002aff"/><stop offset="0.2774" stop-color="#0043ff"/><stop offset="0.3439" stop-color="#007bff"/><stop offset="0.3887" stop-color="#009eff"/><stop offset="0.5015" stop-color="#00cdff"/><stop offset="0.5572" stop-color="#00e5ff"/><stop offset="0.5866" stop-color="#01fffe"/><stop offset="0.6762" stop-color="#84ff7b"/><stop offset="0.7550" stop-color="#fffe00"/><stop offset="0.8524" stop-color="#ff8100"/><stop offset="0.9312" stop-color="#ff1600"/><stop offset="0.9575" stop-color="#fd0000"/><stop offset="0.9961" stop-color="#eb0000"/><stop offset="1.0000" stop-color="#ea0000"/></linearGradient><linearGradient id="g144" x2="0" y2="1"><stop offset="0.0000" stop-color="#000086"/><stop offset="0.0688" stop-color="#0000b9"/><stop offset="0.1260" stop-color="#0000f6"/><stop offset="0.1430" stop-color="#0003ff"/><stop offset="0.2094" stop-color="#0028ff"/><stop offset="0.2774" stop-color="#0043ff"/><stop offset="0.3454" stop-color="#007cff"/><stop offset="0.3903" stop-color="#009eff"/><stop offset="0.5077" stop-color="#00ceff"/><stop offset="0.5587" stop-color="#00e6ff"/><stop offset="0.5881" stop-color="#02fffd"/><stop offset="0.6777" stop-color="#85ff7a"/><stop offset="0.7566" stop-color="#ffff00"/><stop offset="0.8524" stop-color="#ff8100"/><stop offset="0.9312" stop-color="#ff1300"/><stop offset="0.9529" stop-color="#fd0000"/><stop offset="0.9915" stop-color="#e70000"/><stop offset="1.0000" stop-color="#e60000"/></linearGradient><linearGradient id="g145" x2="0" y2="1"><stop offset="0.0000" stop-color="#000086"/><stop offset="0.0688" stop-color="#0000b9"/><stop offset="0.1260" stop-color="#0000f6"/><stop offset="0.1445" stop-color="#0003ff"/><stop offset="0.2094" stop-color="#0027ff"/><stop offset="0.2790" stop-color="#0042ff"/><stop offset="0.3454" stop-color="#0079ff"/><stop offset="0.3918" stop-color="#009cff"/><stop offset="0.5046" stop-color="#00ccff"/><stop offset="0.5572" stop-color="#00e4ff"/><stop offset="0.5881" stop-color="#02fffd"/><stop offset="0.6793" stop-color="#87ff78"/><stop offset="0.7566" stop-color="#feff01"/><stop offset="0.7983" stop-color="#ffca00"/><stop offset="0.8679" stop-color="#ff6900"/><stop offset="0.9359" stop-color="#ff0b00"/><stop offset="0.9498" stop-color="#fc0000"/><stop offset="0.9884" stop-color="#e40000"/><stop offset="1.0000" stop-color="#e20000"/></linearGradient><linearGradient id="g146" x2="0" y2="1"><stop offset="0.0000" stop-color="#000085"/><stop offset="0.0688" stop-color="#0000b8"/><stop offset="0.1260" stop-color="#0000f5"/><stop offset="0.1461" stop-color="#0003ff"/><stop offset="0.2094" stop-color="#0026ff"/><stop offset="0.2821" stop-color="#0040ff"/><stop offset="0.3439" stop-color="#0070ff"/><stop offset="0.3934" stop-color="#0096ff"/><stop offset="0.4985" stop-color="#00c8ff"/><stop offset="0.5572" stop-color="#00e3ff"/><stop offset="0.5881" stop-color="#02fffd"/><stop offset="0.6808" stop-color="#8aff75"/><stop offset="0.7581" stop-color="#ffff00"/><stop offset="0.8462" stop-color="#ff8900"/><stop offset="0.9297" stop-color="#ff1100"/><stop offset="0.9467" stop-color="#fd0000"/><stop offset="0.9853" stop-color="#e30000"/><stop offset="1.0000" stop-color="#e00000"/></linearGradient><linearGradient id="g147" x2="0" y2="1"><stop offset="0.0000" stop-color="#000085"/><stop offset="0.0688" stop-color="#0000b8"/><stop offset="0.1260" stop-color="#0000f4"/><stop offset="0.1476" stop-color="#0003ff"/><stop offset="0.2094" stop-color="#0025ff"/><stop offset="0.2883" stop-color="#0040ff"/><stop offset="0.3439" stop-color="#0067ff"/><stop offset="0.4073" stop-color="#0098ff"/><stop offset="0.5077" stop-color="#00c9ff"/><stop offset="0.5587" stop-color="#00e5ff"/><stop offset="0.5881" stop-color="#03fffc"/><stop offset="0.7087" stop-color="#b5ff4a"/><stop offset="0.7581" stop-color="#ffff00"/><stop offset="0.8509" stop-color="#ff8100"/><stop offset="0.9312" stop-color="#ff0e00"/><stop offset="0.9467" stop-color="#fc0000"/><stop offset="0.9853" stop-color="#e20000"/><stop offset="1.0000" stop-color="#de0000"/></linearGradient><linearGradient id="g148" x2="0" y2="1"><stop offset="0.0000" stop-color="#000085"/><stop offset="0.0688" stop-color="#0000b7"/><stop offset="0.1275" stop-color="#0000f4"/><stop offset="0.1507" stop-color="#0004ff"/><stop offset="0.2094" stop-color="#0023ff"/><stop offset="0.2960" stop-color="#003fff"/><stop offset="0.3439" stop-color="#005eff"/><stop offset="0.4274" stop-color="#009eff"/><stop offset="0.5572" stop-color="#00e4ff"/><stop offset="0.5866" stop-color="#02fffd"/><stop offset="0.7473" stop-color="#f3ff0c"/><stop offset="0.7597" stop-color="#fffc00"/><stop offset="0.8539" stop-color="#ff7c00"/><stop offset="0.9328" stop-color="#ff0b00"/><stop offset="0.9467" stop-color="#fc0000"/><stop offset="0.9853" stop-color="#e10000"/><stop offset="1.0000" stop-color="#de0000"/></linearGradient><linearGradient id="g149" x2="0" y2="1"><stop offset="0.0000" stop-color="#000085"/><stop offset="0.0688" stop-color="#0000b7"/><stop offset="0.1275" stop-color="#0000f4"/><stop offset="0.1522" stop-color="#0004ff"/><stop offset="0.2094" stop-color="#0022ff"/><stop offset="0.3053" stop-color="#003eff"/><stop offset="0.3454" stop-color="#0058ff"/><stop offset="0.4397" stop-color="#009eff"/><stop offset="0.5572" stop-color="#00e4ff"/><stop offset="0.5850" stop-color="#01fffe"/><stop offset="0.7550" stop-color="#fffe00"/><stop offset="0.8338" stop-color="#ff9900"/><stop offset="0.9297" stop-color="#ff1000"/><stop offset="0.9467" stop-color="#fc0000"/><stop offset="0.9853" stop-color="#e20000"/><stop offset="1.0000" stop-color="#df0000"/></linearGradient><linearGradient id="g150" x2="0" y2="1"><stop offset="0.0000" stop-color="#000085"/><stop offset="0.0688" stop-color="#0000b6"/><stop offset="0.1275" stop-color="#0000f3"/><stop offset="0.1522" stop-color="#0003ff"/><stop offset="0.2094" stop-color="#0021ff"/><stop offset="0.3145" stop-color="#003eff"/><stop offset="0.3485" stop-color="#0053ff"/><stop offset="0.4428" stop-color="#009bff"/><stop offset="0.5587" stop-color="#00e7ff"/><stop offset="0.5835" stop-color="#01fffe"/><stop offset="0.7210" stop-color="#d2ff2d"/><stop offset="0.7519" stop-color="#fffe00"/><stop offset="0.7983" stop-color="#ffc500"/><stop offset="0.8694" stop-color="#ff6400"/><stop offset="0.9374" stop-color="#ff0800"/><stop offset="0.9498" stop-color="#fb0000"/><stop offset="0.9884" stop-color="#e40000"/><stop offset="1.0000" stop-color="#e10000"/></linearGradient><linearGradient id="g151" x2="0" y2="1"><stop offset="0.0000" stop-color="#000085"/><stop offset="0.0688" stop-color="#0000b6"/><stop offset="0.1275" stop-color="#0000f2"/><stop offset="0.1538" stop-color="#0003ff"/><stop offset="0.2094" stop-color="#0020ff"/><stop offset="0.3207" stop-color="#003cff"/><stop offset="0.3624" stop-color="#0059ff"/><stop offset="0.4954" stop-color="#00bbff"/><stop offset="0.5587" stop-color="#00e8ff"/><stop offset="0.5819" stop-color="#02fffd"/><stop offset="0.6917" stop-color="#acff53"/><stop offset="0.7504" stop-color="#fffc00"/><stop offset="0.7998" stop-color="#ffc000"/><stop offset="0.8679" stop-color="#ff6600"/><stop offset="0.9374" stop-color="#ff0b00"/><stop offset="0.9529" stop-color="#fb0000"/><stop offset="0.9915" stop-color="#e60000"/><stop offset="1.0000" stop-color="#e50000"/></linearGradient><linearGradient id="g152" x2="0" y2="1"><stop offset="0.0000" stop-color="#000085"/><stop offset="0.0688" stop-color="#0000b6"/><stop offset="0.1275" stop-color="#0000f2"/><stop offset="0.1553" stop-color="#0004ff"/><stop offset="0.2094" stop-color="#001fff"/><stop offset="0.3269" stop-color="#003cff"/><stop offset="0.5556" stop-color="#00e6ff"/><stop offset="0.5788" stop-color="#02fffd"/><stop offset="0.6932" stop-color="#b4ff4b"/><stop offset="0.7473" stop-color="#fffc00"/><stop offset="0.8447" stop-color="#ff8600"/><stop offset="0.9328" stop-color="#ff1300"/><stop offset="0.9560" stop-color="#fd0000"/><stop offset="0.9946" stop-color="#ea0000"/><stop offset="1.0000" stop-color="#e90000"/></linearGradient><linearGradient id="g153" x2="0" y2="1"><stop offset="0.0000" stop-color="#000085"/><stop offset="0.0688" stop-color="#0000b5"/><stop offset="0.1291" stop-color="#0000f3"/><stop offset="0.1553" stop-color="#0003ff"/><stop offset="0.2094" stop-color="#001fff"/><stop offset="0.3315" stop-color="#003bff"/><stop offset="0.4675" stop-color="#00a1ff"/><stop offset="0.5556" stop-color="#00e8ff"/><stop offset="0.5773" stop-color="#03fffc"/><stop offset="0.6870" stop-color="#b3ff4c"/><stop offset="0.7427" stop-color="#fffe00"/><stop offset="0.7674" stop-color="#ffe100"/><stop offset="0.8648" stop-color="#ff6b00"/><stop offset="0.9389" stop-color="#ff1100"/><stop offset="0.9621" stop-color="#fd0000"/><stop offset="1.0000" stop-color="#ef0000"/></linearGradient><linearGradient id="g154" x2="0" y2="1"><stop offset="0.0000" stop-color="#000085"/><stop offset="0.0688" stop-color="#0000b5"/><stop offset="0.1291" stop-color="#0000f3"/><stop offset="0.1553" stop-color="#0003ff"/><stop offset="0.2094" stop-color="#001eff"/><stop offset="0.3331" stop-color="#0039ff"/><stop offset="0.4598" stop-color="#0096ff"/><stop offset="0.5556" stop-color="#00eaff"/><stop offset="0.5742" stop-color="#02fffd"/><stop offset="0.6005" stop-color="#2dffd2"/><stop offset="0.6561" stop-color="#89ff76"/><stop offset="0.7071" stop-color="#d6ff29"/><stop offset="0.7396" stop-color="#fffc00"/><stop offset="0.7612" stop-color="#ffe200"/><stop offset="0.8617" stop-color="#ff6f00"/><stop offset="0.9389" stop-color="#ff1500"/><stop offset="0.9714" stop-color="#fd0000"/><stop offset="1.0000" stop-color="#f50000"/></linearGradient><linearGradient id="g155" x2="0" y2="1"><stop offset="0.0000" stop-color="#000085"/><stop offset="0.0688" stop-color="#0000b5"/><stop offset="0.1291" stop-color="#0000f3"/><stop offset="0.1553" stop-color="#0003ff"/><stop offset="0.2094" stop-color="#001eff"/><stop offset="0.3346" stop-color="#0039ff"/><stop offset="0.4536" stop-color="#008dff"/><stop offset="0.5556" stop-color="#00edff"/><stop offset="0.5711" stop-color="#02fffd"/><stop offset="0.5943" stop-color="#26ffd9"/><stop offset="0.6391" stop-color="#75ff8a"/><stop offset="0.6978" stop-color="#d1ff2e"/><stop offset="0.7334" stop-color="#fffd00"/><stop offset="0.7581" stop-color="#ffdf00"/><stop offset="0.8617" stop-color="#ff7000"/><stop offset="0.9389" stop-color="#ff1a00"/><stop offset="0.9838" stop-color="#ff0000"/><stop offset="1.0000" stop-color="#fc0000"/></linearGradient><linearGradient id="g156" x2="0" y2="1"><stop offset="0.0000" stop-color="#000085"/><stop offset="0.0688" stop-color="#0000b5"/><stop offset="0.1306" stop-color="#0000f5"/><stop offset="0.1553" stop-color="#0004ff"/><stop offset="0.2094" stop-color="#001eff"/><stop offset="0.3346" stop-color="#0037ff"/><stop offset="0.4304" stop-color="#0079ff"/><stop offset="0.4691" stop-color="#009aff"/><stop offset="0.5526" stop-color="#00ebff"/><stop offset="0.5696" stop-color="#03fffc"/><stop offset="0.5943" stop-color="#2bffd4"/><stop offset="0.6376" stop-color="#7aff85"/><stop offset="0.6963" stop-color="#d7ff28"/><stop offset="0.7272" stop-color="#fffe00"/><stop offset="0.7581" stop-color="#ffd900"/><stop offset="0.8632" stop-color="#ff6f00"/><stop offset="0.9420" stop-color="#ff1e00"/><stop offset="0.9869" stop-color="#ff0700"/><stop offset="1.0000" stop-color="#ff0500"/></linearGradient><linearGradient id="g157" x2="0" y2="1"><stop offset="0.0000" stop-color="#000085"/><stop offset="0.0688" stop-color="#0000b5"/><stop offset="0.1306" stop-color="#0000f5"/><stop offset="0.1553" stop-color="#0004ff"/><stop offset="0.2094" stop-color="#001eff"/><stop offset="0.3346" stop-color="#0036ff"/><stop offset="0.4243" stop-color="#0072ff"/><stop offset="0.4629" stop-color="#0092ff"/><stop offset="0.5526" stop-color="#00edff"/><stop offset="0.5665" stop-color="#02fffd"/><stop offset="0.5927" stop-color="#2dffd2"/><stop offset="0.6360" stop-color="#7fff80"/><stop offset="0.6947" stop-color="#deff21"/><stop offset="0.7210" stop-color="#fffd00"/><stop offset="0.7581" stop-color="#ffd300"/><stop offset="0.8663" stop-color="#ff6c00"/><stop offset="0.9436" stop-color="#ff2300"/><stop offset="0.9900" stop-color="#ff0e00"/><stop offset="1.0000" stop-color="#ff0d00"/></linearGradient><linearGradient id="g158" x2="0" y2="1"><stop offset="0.0000" stop-color="#000085"/><stop offset="0.0688" stop-color="#0000b5"/><stop offset="0.1306" stop-color="#0000f6"/><stop offset="0.1538" stop-color="#0004ff"/><stop offset="0.2079" stop-color="#001eff"/><stop offset="0.3346" stop-color="#0035ff"/><stop offset="0.4212" stop-color="#006eff"/><stop offset="0.4614" stop-color="#008fff"/><stop offset="0.5510" stop-color="#00edff"/><stop offset="0.5649" stop-color="#03fffc"/><stop offset="0.5912" stop-color="#2fffd0"/><stop offset="0.6345" stop-color="#83ff7c"/><stop offset="0.6932" stop-color="#e4ff1b"/><stop offset="0.7148" stop-color="#fffd00"/><stop offset="0.7566" stop-color="#ffce00"/><stop offset="0.8709" stop-color="#ff6900"/><stop offset="0.9467" stop-color="#ff2800"/><stop offset="0.9946" stop-color="#ff1500"/><stop offset="1.0000" stop-color="#ff1500"/></linearGradient><linearGradient id="g159" x2="0" y2="1"><stop offset="0.0000" stop-color="#000085"/><stop offset="0.0688" stop-color="#0000b5"/><stop offset="0.1306" stop-color="#0000f7"/><stop offset="0.1522" stop-color="#0004ff"/><stop offset="0.2079" stop-color="#001eff"/><stop offset="0.3346" stop-color="#0034ff"/><stop offset="0.4196" stop-color="#006bff"/><stop offset="0.4614" stop-color="#008eff"/><stop offset="0.5495" stop-color="#00eeff"/><stop offset="0.5634" stop-color="#04fffb"/><stop offset="0.5912" stop-color="#34ffcb"/><stop offset="0.6329" stop-color="#88ff77"/><stop offset="0.6901" stop-color="#e8ff17"/><stop offset="0.7102" stop-color="#fffc00"/><stop offset="0.7566" stop-color="#ffc800"/><stop offset="0.8818" stop-color="#ff6100"/><stop offset="0.9498" stop-color="#ff2d00"/><stop offset="1.0000" stop-color="#ff1d00"/></linearGradient><linearGradient id="g160" x2="0" y2="1"><stop offset="0.0000" stop-color="#000085"/><stop offset="0.0688" stop-color="#0000b5"/><stop offset="0.1306" stop-color="#0000f8"/><stop offset="0.1507" stop-color="#0004ff"/><stop offset="0.2079" stop-color="#001fff"/><stop offset="0.3346" stop-color="#0033ff"/><stop offset="0.4181" stop-color="#0068ff"/><stop offset="0.4598" stop-color="#008bff"/><stop offset="0.5479" stop-color="#00eeff"/><stop offset="0.5603" stop-color="#02fffd"/><stop offset="0.5912" stop-color="#38ffc7"/><stop offset="0.6329" stop-color="#8fff70"/><stop offset="0.6886" stop-color="#eeff11"/><stop offset="0.7040" stop-color="#fffc00"/><stop offset="0.7566" stop-color="#ffc200"/><stop offset="0.9034" stop-color="#ff5300"/><stop offset="0.9590" stop-color="#ff3000"/><stop offset="1.0000" stop-color="#ff2600"/></linearGradient><linearGradient id="g161" x2="0" y2="1"><stop offset="0.0000" stop-color="#000085"/><stop offset="0.0688" stop-color="#0000b5"/><stop offset="0.1306" stop-color="#0000f9"/><stop offset="0.1507" stop-color="#0006ff"/><stop offset="0.2079" stop-color="#0020ff"/><stop offset="0.3331" stop-color="#0032ff"/><stop offset="0.4181" stop-color="#0067ff"/><stop offset="0.4598" stop-color="#008bff"/><stop offset="0.5448" stop-color="#00ecff"/><stop offset="0.5587" stop-color="#02fffd"/><stop offset="0.5912" stop-color="#3dffc2"/><stop offset="0.6329" stop-color="#95ff6a"/><stop offset="0.6870" stop-color="#f4ff0b"/><stop offset="0.6978" stop-color="#fffc00"/><stop offset="0.7519" stop-color="#ffbf00"/><stop offset="0.9003" stop-color="#ff5900"/><stop offset="0.9590" stop-color="#ff3700"/><stop offset="1.0000" stop-color="#ff2e00"/></linearGradient><linearGradient id="g162" x2="0" y2="1"><stop offset="0.0000" stop-color="#000085"/><stop offset="0.0688" stop-color="#0000b6"/><stop offset="0.1321" stop-color="#0000fb"/><stop offset="0.1692" stop-color="#0011ff"/><stop offset="0.2094" stop-color="#0021ff"/><stop offset="0.3315" stop-color="#0031ff"/><stop offset="0.4165" stop-color="#0065ff"/><stop offset="0.4598" stop-color="#008aff"/><stop offset="0.5417" stop-color="#00eaff"/><stop offset="0.5572" stop-color="#02fffd"/><stop offset="0.5896" stop-color="#3dffc2"/><stop offset="0.6314" stop-color="#99ff66"/><stop offset="0.6855" stop-color="#f9ff06"/><stop offset="0.6947" stop-color="#fff900"/><stop offset="0.7427" stop-color="#ffc300"/><stop offset="0.7643" stop-color="#ffb400"/><stop offset="0.9467" stop-color="#ff4300"/><stop offset="1.0000" stop-color="#ff3600"/></linearGradient><linearGradient id="g163" x2="0" y2="1"><stop offset="0.0000" stop-color="#000085"/><stop offset="0.0688" stop-color="#0000b6"/><stop offset="0.1321" stop-color="#0000fd"/><stop offset="0.2063" stop-color="#0022ff"/><stop offset="0.3284" stop-color="#0030ff"/><stop offset="0.4150" stop-color="#0064ff"/><stop offset="0.4598" stop-color="#008aff"/><stop offset="0.5402" stop-color="#00eaff"/><stop offset="0.5556" stop-color="#02fffd"/><stop offset="0.5896" stop-color="#41ffbe"/><stop offset="0.6314" stop-color="#9fff60"/><stop offset="0.6839" stop-color="#feff01"/><stop offset="0.7318" stop-color="#ffc900"/><stop offset="0.7581" stop-color="#ffb200"/><stop offset="0.9482" stop-color="#ff4900"/><stop offset="1.0000" stop-color="#ff3e00"/></linearGradient><linearGradient id="g164" x2="0" y2="1"><stop offset="0.0000" stop-color="#000085"/><stop offset="0.0672" stop-color="#0000b4"/><stop offset="0.1306" stop-color="#0000fd"/><stop offset="0.2048" stop-color="#0023ff"/><stop offset="0.3238" stop-color="#002fff"/><stop offset="0.4057" stop-color="#005cff"/><stop offset="0.4583" stop-color="#0088ff"/><stop offset="0.5386" stop-color="#00eaff"/><stop offset="0.5541" stop-color="#02fffd"/><stop offset="0.5896" stop-color="#45ffba"/><stop offset="0.6314" stop-color="#a4ff5b"/><stop offset="0.6793" stop-color="#feff01"/><stop offset="0.7287" stop-color="#ffc600"/><stop offset="0.7566" stop-color="#ffaf00"/><stop offset="0.9498" stop-color="#ff4f00"/><stop offset="1.0000" stop-color="#ff4600"/></linearGradient><linearGradient id="g165" x2="0" y2="1"><stop offset="0.0000" stop-color="#000085"/><stop offset="0.0672" stop-color="#0000b4"/><stop offset="0.1306" stop-color="#0000fe"/><stop offset="0.2032" stop-color="#0024ff"/><stop offset="0.3192" stop-color="#002dff"/><stop offset="0.3594" stop-color="#003fff"/><stop offset="0.4212" stop-color="#0068ff"/><stop offset="0.4598" stop-color="#008aff"/><stop offset="0.5371" stop-color="#00e9ff"/><stop offset="0.5541" stop-color="#04fffb"/><stop offset="0.5896" stop-color="#48ffb7"/><stop offset="0.6314" stop-color="#a9ff56"/><stop offset="0.6762" stop-color="#ffff00"/><stop offset="0.7195" stop-color="#ffc900"/><stop offset="0.7566" stop-color="#ffab00"/><stop offset="0.9513" stop-color="#ff5400"/><stop offset="1.0000" stop-color="#ff4d00"/></linearGradient><linearGradient id="g166" x2="0" y2="1"><stop offset="0.0000" stop-color="#000085"/><stop offset="0.0672" stop-color="#0000b5"/><stop offset="0.1291" stop-color="#0000fe"/><stop offset="0.2002" stop-color="#0025ff"/><stop offset="0.3161" stop-color="#002cff"/><stop offset="0.3516" stop-color="#003bff"/><stop offset="0.4196" stop-color="#0067ff"/><stop offset="0.4598" stop-color="#008aff"/><stop offset="0.5371" stop-color="#00eaff"/><stop offset="0.5526" stop-color="#03fffc"/><stop offset="0.5896" stop-color="#4bffb4"/><stop offset="0.6314" stop-color="#aeff51"/><stop offset="0.6731" stop-color="#ffff00"/><stop offset="0.7025" stop-color="#ffd600"/><stop offset="0.7519" stop-color="#ffa800"/><stop offset="0.9529" stop-color="#ff5900"/><stop offset="1.0000" stop-color="#ff5300"/></linearGradient><linearGradient id="g167" x2="0" y2="1"><stop offset="0.0000" stop-color="#000085"/><stop offset="0.0672" stop-color="#0000b5"/><stop offset="0.1291" stop-color="#0000ff"/><stop offset="0.1955" stop-color="#0025ff"/><stop offset="0.3176" stop-color="#002cff"/><stop offset="0.3547" stop-color="#003cff"/><stop offset="0.4196" stop-color="#0066ff"/><stop offset="0.4598" stop-color="#008aff"/><stop offset="0.5355" stop-color="#00e9ff"/><stop offset="0.5510" stop-color="#01fffe"/><stop offset="0.5896" stop-color="#4effb1"/><stop offset="0.6314" stop-color="#b3ff4c"/><stop offset="0.6700" stop-color="#ffff00"/><stop offset="0.6963" stop-color="#ffd800"/><stop offset="0.7334" stop-color="#ffb400"/><stop offset="0.7581" stop-color="#ffa300"/><stop offset="0.9544" stop-color="#ff5e00"/><stop offset="1.0000" stop-color="#ff5900"/></linearGradient><linearGradient id="g168" x2="0" y2="1"><stop offset="0.0000" stop-color="#000085"/><stop offset="0.0672" stop-color="#0000b5"/><stop offset="0.1275" stop-color="#0000fe"/><stop offset="0.1924" stop-color="#0025ff"/><stop offset="0.3176" stop-color="#002cff"/><stop offset="0.3547" stop-color="#003cff"/><stop offset="0.4196" stop-color="#0066ff"/><stop offset="0.4598" stop-color="#008aff"/><stop offset="0.5340" stop-color="#00e8ff"/><stop offset="0.5510" stop-color="#03fffc"/><stop offset="0.5896" stop-color="#51ffae"/><stop offset="0.6298" stop-color="#b4ff4b"/><stop offset="0.6669" stop-color="#ffff00"/><stop offset="0.6947" stop-color="#ffd500"/><stop offset="0.7318" stop-color="#ffb100"/><stop offset="0.7566" stop-color="#ffa100"/><stop offset="0.9560" stop-color="#ff6200"/><stop offset="1.0000" stop-color="#ff5f00"/></linearGradient><linearGradient id="g169" x2="0" y2="1"><stop offset="0.0000" stop-color="#000084"/><stop offset="0.0657" stop-color="#0000b3"/><stop offset="0.1275" stop-color="#0000ff"/><stop offset="0.1862" stop-color="#0023ff"/><stop offset="0.2202" stop-color="#0028ff"/><stop offset="0.3114" stop-color="#002bff"/><stop offset="0.3470" stop-color="#0037ff"/><stop offset="0.4181" stop-color="#0065ff"/><stop offset="0.4598" stop-color="#008bff"/><stop offset="0.5340" stop-color="#00e9ff"/><stop offset="0.5495" stop-color="#01fffe"/><stop offset="0.5881" stop-color="#4fffb0"/><stop offset="0.6298" stop-color="#b7ff48"/><stop offset="0.6654" stop-color="#fffe00"/><stop offset="0.6932" stop-color="#ffd300"/><stop offset="0.7303" stop-color="#ffaf00"/><stop offset="0.7566" stop-color="#ff9e00"/><stop offset="0.9560" stop-color="#ff6700"/><stop offset="1.0000" stop-color="#ff6300"/></linearGradient><linearGradient id="g170" x2="0" y2="1"><stop offset="0.0000" stop-color="#000084"/><stop offset="0.0657" stop-color="#0000b3"/><stop offset="0.1275" stop-color="#0001ff"/><stop offset="0.1847" stop-color="#0023ff"/><stop offset="0.2156" stop-color="#0028ff"/><stop offset="0.3068" stop-color="#0029ff"/><stop offset="0.3454" stop-color="#0036ff"/><stop offset="0.4165" stop-color="#0064ff"/><stop offset="0.4583" stop-color="#0089ff"/><stop offset="0.5340" stop-color="#00eaff"/><stop offset="0.5495" stop-color="#02fffd"/><stop offset="0.5881" stop-color="#51ffae"/><stop offset="0.6298" stop-color="#bbff44"/><stop offset="0.6623" stop-color="#ffff00"/><stop offset="0.6917" stop-color="#ffd100"/><stop offset="0.7287" stop-color="#ffad00"/><stop offset="0.7566" stop-color="#ff9c00"/><stop offset="0.9575" stop-color="#ff6a00"/><stop offset="1.0000" stop-color="#ff6800"/></linearGradient><linearGradient id="g171" x2="0" y2="1"><stop offset="0.0000" stop-color="#000084"/><stop offset="0.0657" stop-color="#0000b3"/><stop offset="0.1275" stop-color="#0001ff"/><stop offset="0.1832" stop-color="#0023ff"/><stop offset="0.2141" stop-color="#0028ff"/><stop offset="0.3053" stop-color="#0029ff"/><stop offset="0.3439" stop-color="#0034ff"/><stop offset="0.4165" stop-color="#0063ff"/><stop offset="0.4583" stop-color="#0089ff"/><stop offset="0.5325" stop-color="#00e8ff"/><stop offset="0.5495" stop-color="#03fffc"/><stop offset="0.5881" stop-color="#53ffac"/><stop offset="0.6298" stop-color="#beff41"/><stop offset="0.6607" stop-color="#ffff00"/><stop offset="0.6901" stop-color="#ffcf00"/><stop offset="0.7272" stop-color="#ffab00"/><stop offset="0.7566" stop-color="#ff9a00"/><stop offset="0.9590" stop-color="#ff6e00"/><stop offset="1.0000" stop-color="#ff6c00"/></linearGradient><linearGradient id="g172" x2="0" y2="1"><stop offset="0.0000" stop-color="#000084"/><stop offset="0.0657" stop-color="#0000b2"/><stop offset="0.1275" stop-color="#0001ff"/><stop offset="0.1816" stop-color="#0022ff"/><stop offset="0.2125" stop-color="#0028ff"/><stop offset="0.3037" stop-color="#0028ff"/><stop offset="0.3439" stop-color="#0034ff"/><stop offset="0.4165" stop-color="#0063ff"/><stop offset="0.4583" stop-color="#0089ff"/><stop offset="0.5325" stop-color="#00e9ff"/><stop offset="0.5479" stop-color="#02fffd"/><stop offset="0.5881" stop-color="#55ffaa"/><stop offset="0.6298" stop-color="#c0ff3f"/><stop offset="0.6592" stop-color="#fffe00"/><stop offset="0.6901" stop-color="#ffcc00"/><stop offset="0.7272" stop-color="#ffa900"/><stop offset="0.7566" stop-color="#ff9800"/><stop offset="0.9606" stop-color="#ff7000"/><stop offset="1.0000" stop-color="#ff6f00"/></linearGradient><linearGradient id="g173" x2="0" y2="1"><stop offset="0.0000" stop-color="#000084"/><stop offset="0.0657" stop-color="#0000b2"/><stop offset="0.1275" stop-color="#0000ff"/><stop offset="0.1816" stop-color="#0021ff"/><stop offset="0.2125" stop-color="#0027ff"/><stop offset="0.3022" stop-color="#0027ff"/><stop offset="0.3439" stop-color="#0033ff"/><stop offset="0.4165" stop-color="#0063ff"/><stop offset="0.4583" stop-color="#0089ff"/><stop offset="0.5325" stop-color="#00e9ff"/><stop offset="0.5479" stop-color="#02fffd"/><stop offset="0.5881" stop-color="#56ffa9"/><stop offset="0.6298" stop-color="#c3ff3c"/><stop offset="0.6577" stop-color="#fffe00"/><stop offset="0.6886" stop-color="#ffca00"/><stop offset="0.7272" stop-color="#ffa700"/><stop offset="0.7566" stop-color="#ff9600"/><stop offset="0.9621" stop-color="#ff7300"/><stop offset="1.0000" stop-color="#ff7200"/></linearGradient><linearGradient id="g174" x2="0" y2="1"><stop offset="0.0000" stop-color="#000084"/><stop offset="0.0657" stop-color="#0000b1"/><stop offset="0.1275" stop-color="#0000ff"/><stop offset="0.1847" stop-color="#0022ff"/><stop offset="0.2156" stop-color="#0026ff"/><stop offset="0.3022" stop-color="#0026ff"/><stop offset="0.3439" stop-color="#0033ff"/><stop offset="0.4165" stop-color="#0063ff"/><stop offset="0.4583" stop-color="#0089ff"/><stop offset="0.5325" stop-color="#00e9ff"/><stop offset="0.5479" stop-color="#03fffc"/><stop offset="0.5881" stop-color="#58ffa7"/><stop offset="0.6298" stop-color="#c5ff3a"/><stop offset="0.6561" stop-color="#ffff00"/><stop offset="0.6886" stop-color="#ffc800"/><stop offset="0.7272" stop-color="#ffa500"/><stop offset="0.7566" stop-color="#ff9500"/><stop offset="0.9637" stop-color="#ff7500"/><stop offset="1.0000" stop-color="#ff7400"/></linearGradient><linearGradient id="g175" x2="0" y2="1"><stop offset="0.0000" stop-color="#000084"/><stop offset="0.0657" stop-color="#0000b0"/><stop offset="0.1291" stop-color="#0000ff"/><stop offset="0.1862" stop-color="#0021ff"/><stop offset="0.2187" stop-color="#0024ff"/><stop offset="0.3022" stop-color="#0025ff"/><stop offset="0.3439" stop-color="#0032ff"/><stop offset="0.4165" stop-color="#0063ff"/><stop offset="0.4583" stop-color="#0089ff"/><stop offset="0.5325" stop-color="#00eaff"/><stop offset="0.5479" stop-color="#03fffc"/><stop offset="0.5881" stop-color="#59ffa6"/><stop offset="0.6298" stop-color="#c7ff38"/><stop offset="0.6561" stop-color="#fffd00"/><stop offset="0.6870" stop-color="#ffc700"/><stop offset="0.7257" stop-color="#ffa400"/><stop offset="0.7566" stop-color="#ff9400"/><stop offset="0.9668" stop-color="#ff7700"/><stop offset="1.0000" stop-color="#ff7600"/></linearGradient><linearGradient id="g176" x2="0" y2="1"><stop offset="0.0000" stop-color="#000083"/><stop offset="0.0672" stop-color="#0000b1"/><stop offset="0.1306" stop-color="#0000ff"/><stop offset="0.1909" stop-color="#0020ff"/><stop offset="0.3053" stop-color="#0024ff"/><stop offset="0.3439" stop-color="#0031ff"/><stop offset="0.4165" stop-color="#0062ff"/><stop offset="0.4598" stop-color="#008bff"/><stop offset="0.5325" stop-color="#00eaff"/><stop offset="0.5479" stop-color="#04fffb"/><stop offset="0.5866" stop-color="#55ffaa"/><stop offset="0.6298" stop-color="#c9ff36"/><stop offset="0.6546" stop-color="#fffe00"/><stop offset="0.6870" stop-color="#ffc500"/><stop offset="0.7257" stop-color="#ffa200"/><stop offset="0.7566" stop-color="#ff9300"/><stop offset="0.9683" stop-color="#ff7900"/><stop offset="1.0000" stop-color="#ff7800"/></linearGradient><linearGradient id="g177" x2="0" y2="1"><stop offset="0.0000" stop-color="#000083"/><stop offset="0.0672" stop-color="#0000b0"/><stop offset="0.1321" stop-color="#0000fe"/><stop offset="0.1986" stop-color="#0020ff"/><stop offset="0.2960" stop-color="#0020ff"/><stop offset="0.3423" stop-color="#002fff"/><stop offset="0.4165" stop-color="#0062ff"/><stop offset="0.4598" stop-color="#008bff"/><stop offset="0.5309" stop-color="#00e8ff"/><stop offset="0.5464" stop-color="#01fffe"/><stop offset="0.5866" stop-color="#56ffa9"/><stop offset="0.6298" stop-color="#caff35"/><stop offset="0.6530" stop-color="#ffff00"/><stop offset="0.6855" stop-color="#ffc500"/><stop offset="0.7241" stop-color="#ffa200"/><stop offset="0.7566" stop-color="#ff9200"/><stop offset="0.9699" stop-color="#ff7a00"/><stop offset="1.0000" stop-color="#ff7a00"/></linearGradient><linearGradient id="g178" x2="0" y2="1"><stop offset="0.0000" stop-color="#000083"/><stop offset="0.0672" stop-color="#0000af"/><stop offset="0.1337" stop-color="#0000fd"/><stop offset="0.2017" stop-color="#001dff"/><stop offset="0.2929" stop-color="#001dff"/><stop offset="0.3423" stop-color="#002dff"/><stop offset="0.4181" stop-color="#0063ff"/><stop offset="0.4598" stop-color="#008bff"/><stop offset="0.5309" stop-color="#00e8ff"/><stop offset="0.5464" stop-color="#02fffd"/><stop offset="0.5866" stop-color="#57ffa8"/><stop offset="0.6298" stop-color="#ccff33"/><stop offset="0.6530" stop-color="#fffd00"/><stop offset="0.6855" stop-color="#ffc400"/><stop offset="0.7241" stop-color="#ffa100"/><stop offset="0.7566" stop-color="#ff9100"/><stop offset="0.9714" stop-color="#ff7b00"/><stop offset="1.0000" stop-color="#ff7b00"/></linearGradient><linearGradient id="g179" x2="0" y2="1"><stop offset="0.0000" stop-color="#000082"/><stop offset="0.0672" stop-color="#0000ad"/><stop offset="0.1337" stop-color="#0000fa"/><stop offset="0.1538" stop-color="#0006ff"/><stop offset="0.2048" stop-color="#0019ff"/><stop offset="0.2898" stop-color="#0019ff"/><stop offset="0.3408" stop-color="#002aff"/><stop offset="0.4181" stop-color="#0063ff"/><stop offset="0.4598" stop-color="#008bff"/><stop offset="0.5309" stop-color="#00e8ff"/><stop offset="0.5464" stop-color="#02fffd"/><stop offset="0.5866" stop-color="#57ffa8"/><stop offset="0.6298" stop-color="#cdff32"/><stop offset="0.6515" stop-color="#ffff00"/><stop offset="0.6855" stop-color="#ffc200"/><stop offset="0.7241" stop-color="#ffa000"/><stop offset="0.7566" stop-color="#ff9100"/><stop offset="0.9730" stop-color="#ff7c00"/><stop offset="1.0000" stop-color="#ff7c00"/></linearGradient><linearGradient id="g180" x2="0" y2="1"><stop offset="0.0000" stop-color="#000082"/><stop offset="0.0672" stop-color="#0000ac"/><stop offset="0.1337" stop-color="#0000f6"/><stop offset="0.1569" stop-color="#0004ff"/><stop offset="0.2063" stop-color="#0014ff"/><stop offset="0.2867" stop-color="#0015ff"/><stop offset="0.3408" stop-color="#0028ff"/><stop offset="0.4196" stop-color="#0064ff"/><stop offset="0.4598" stop-color="#008cff"/><stop offset="0.5309" stop-color="#00e9ff"/><stop offset="0.5464" stop-color="#02fffd"/><stop offset="0.5850" stop-color="#54ffab"/><stop offset="0.6298" stop-color="#ceff31"/><stop offset="0.6515" stop-color="#fffe00"/><stop offset="0.6839" stop-color="#ffc300"/><stop offset="0.7226" stop-color="#ff9f00"/><stop offset="0.7566" stop-color="#ff9000"/><stop offset="0.9730" stop-color="#ff7d00"/><stop offset="1.0000" stop-color="#ff7d00"/></linearGradient><linearGradient id="g181" x2="0" y2="1"><stop offset="0.0000" stop-color="#000081"/><stop offset="0.0688" stop-color="#0000ac"/><stop offset="0.1337" stop-color="#0000f3"/><stop offset="0.1646" stop-color="#0003ff"/><stop offset="0.2079" stop-color="#000eff"/><stop offset="0.2836" stop-color="#0010ff"/><stop offset="0.3408" stop-color="#0025ff"/><stop offset="0.4212" stop-color="#0066ff"/><stop offset="0.4614" stop-color="#008eff"/><stop offset="0.5309" stop-color="#00e9ff"/><stop offset="0.5464" stop-color="#02fffd"/><stop offset="0.5850" stop-color="#54ffab"/><stop offset="0.6298" stop-color="#cfff30"/><stop offset="0.6515" stop-color="#fffd00"/><stop offset="0.6839" stop-color="#ffc200"/><stop offset="0.7226" stop-color="#ff9f00"/><stop offset="0.7566" stop-color="#ff9000"/><stop offset="0.9745" stop-color="#ff7d00"/><stop offset="1.0000" stop-color="#ff7d00"/></linearGradient><linearGradient id="g182" x2="0" y2="1"><stop offset="0.0000" stop-color="#000081"/><stop offset="0.0688" stop-color="#0000aa"/><stop offset="0.1337" stop-color="#0000ef"/><stop offset="0.1770" stop-color="#0003ff"/><stop offset="0.2110" stop-color="#0008ff"/><stop offset="0.2790" stop-color="#0009ff"/><stop offset="0.3377" stop-color="#0020ff"/><stop offset="0.4227" stop-color="#0067ff"/><stop offset="0.4614" stop-color="#008fff"/><stop offset="0.5309" stop-color="#00e9ff"/><stop offset="0.5464" stop-color="#03fffc"/><stop offset="0.5850" stop-color="#54ffab"/><stop offset="0.6298" stop-color="#cfff30"/><stop offset="0.6515" stop-color="#fffc00"/><stop offset="0.6839" stop-color="#ffc100"/><stop offset="0.7226" stop-color="#ff9e00"/><stop offset="0.7566" stop-color="#ff9000"/><stop offset="0.9760" stop-color="#ff7e00"/><stop offset="1.0000" stop-color="#ff7e00"/></linearGradient><linearGradient id="g183" x2="0" y2="1"><stop offset="0.0000" stop-color="#000080"/><stop offset="0.0688" stop-color="#0000a8"/><stop offset="0.1337" stop-color="#0000ea"/><stop offset="0.1955" stop-color="#0001ff"/><stop offset="0.2852" stop-color="#0003ff"/><stop offset="0.3393" stop-color="#001dff"/><stop offset="0.4289" stop-color="#006eff"/><stop offset="0.4645" stop-color="#0094ff"/><stop offset="0.5325" stop-color="#00ecff"/><stop offset="0.5464" stop-color="#03fffc"/><stop offset="0.5850" stop-color="#55ffaa"/><stop offset="0.6298" stop-color="#d0ff2f"/><stop offset="0.6499" stop-color="#ffff00"/><stop offset="0.6839" stop-color="#ffc100"/><stop offset="0.7226" stop-color="#ff9e00"/><stop offset="0.7566" stop-color="#ff8f00"/><stop offset="0.9760" stop-color="#ff7e00"/><stop offset="1.0000" stop-color="#ff7e00"/></linearGradient><linearGradient id="g184" x2="0" y2="1"><stop offset="0.0000" stop-color="#000080"/><stop offset="0.0688" stop-color="#0000a6"/><stop offset="0.1321" stop-color="#0000e5"/><stop offset="0.1986" stop-color="#0000f9"/><stop offset="0.2651" stop-color="#0000f5"/><stop offset="0.3053" stop-color="#0004ff"/><stop offset="0.3439" stop-color="#001dff"/><stop offset="0.4521" stop-color="#0085ff"/><stop offset="0.5309" stop-color="#00eaff"/><stop offset="0.5464" stop-color="#03fffc"/><stop offset="0.5850" stop-color="#55ffaa"/><stop offset="0.6298" stop-color="#d0ff2f"/><stop offset="0.6499" stop-color="#ffff00"/><stop offset="0.6839" stop-color="#ffc000"/><stop offset="0.7226" stop-color="#ff9e00"/><stop offset="0.7566" stop-color="#ff8f00"/><stop offset="0.9760" stop-color="#ff7f00"/><stop offset="1.0000" stop-color="#ff7e00"/></linearGradient><linearGradient id="g185" x2="0" y2="1"><stop offset="0.0000" stop-color="#000080"/><stop offset="0.0688" stop-color="#0000a4"/><stop offset="0.1321" stop-color="#0000e1"/><stop offset="0.1986" stop-color="#0000f1"/><stop offset="0.2604" stop-color="#0000ea"/><stop offset="0.3099" stop-color="#0000fe"/><stop offset="0.3423" stop-color="#0017ff"/><stop offset="0.4614" stop-color="#0092ff"/><stop offset="0.5325" stop-color="#00ecff"/><stop offset="0.5464" stop-color="#03fffc"/><stop offset="0.5850" stop-color="#55ffaa"/><stop offset="0.6298" stop-color="#d0ff2f"/><stop offset="0.6499" stop-color="#ffff00"/><stop offset="0.6839" stop-color="#ffc000"/><stop offset="0.7226" stop-color="#ff9d00"/><stop offset="0.7566" stop-color="#ff8f00"/><stop offset="0.9760" stop-color="#ff7f00"/><stop offset="1.0000" stop-color="#ff7f00"/></linearGradient><linearGradient id="g186" x2="0" y2="1"><stop offset="0.0000" stop-color="#000080"/><stop offset="0.0688" stop-color="#0000a2"/><stop offset="0.1321" stop-color="#0000dc"/><stop offset="0.1986" stop-color="#0000e7"/><stop offset="0.2558" stop-color="#0000de"/><stop offset="0.2991" stop-color="#0000ee"/><stop offset="0.3269" stop-color="#0003ff"/><stop offset="0.4645" stop-color="#0098ff"/><stop offset="0.5325" stop-color="#00edff"/><stop offset="0.5464" stop-color="#03fffc"/><stop offset="0.5850" stop-color="#55ffaa"/><stop offset="0.6298" stop-color="#d0ff2f"/><stop offset="0.6499" stop-color="#ffff00"/><stop offset="0.6839" stop-color="#ffc000"/><stop offset="0.7226" stop-color="#ff9d00"/><stop offset="0.7566" stop-color="#ff8f00"/><stop offset="0.9760" stop-color="#ff7f00"/><stop offset="1.0000" stop-color="#ff7f00"/></linearGradient><linearGradient id="g187" x2="0" y2="1"><stop offset="0.0000" stop-color="#000080"/><stop offset="0.0688" stop-color="#0000a0"/><stop offset="0.1306" stop-color="#0000d6"/><stop offset="0.1909" stop-color="#0000de"/><stop offset="0.2543" stop-color="#0000d2"/><stop offset="0.2944" stop-color="#0000e1"/><stop offset="0.3346" stop-color="#0003ff"/><stop offset="0.5216" stop-color="#00ddff"/><stop offset="0.5464" stop-color="#03fffc"/><stop offset="0.5850" stop-color="#55ffaa"/><stop offset="0.6298" stop-color="#d0ff2f"/><stop offset="0.6499" stop-color="#ffff00"/><stop offset="0.6839" stop-color="#ffc000"/><stop offset="0.7226" stop-color="#ff9e00"/><stop offset="0.7566" stop-color="#ff8f00"/><stop offset="0.9760" stop-color="#ff7f00"/><stop offset="1.0000" stop-color="#ff7f00"/></linearGradient><linearGradient id="g188" x2="0" y2="1"><stop offset="0.0000" stop-color="#000080"/><stop offset="0.0688" stop-color="#00009e"/><stop offset="0.1291" stop-color="#0000d1"/><stop offset="0.1816" stop-color="#0000d6"/><stop offset="0.2527" stop-color="#0000c4"/><stop offset="0.2898" stop-color="#0000d2"/><stop offset="0.3393" stop-color="#0002ff"/><stop offset="0.4444" stop-color="#0083ff"/><stop offset="0.5325" stop-color="#00edff"/><stop offset="0.5464" stop-color="#04fffb"/><stop offset="0.5850" stop-color="#54ffab"/><stop offset="0.6298" stop-color="#d0ff2f"/><stop offset="0.6515" stop-color="#fffc00"/><stop offset="0.6839" stop-color="#ffc100"/><stop offset="0.7226" stop-color="#ff9e00"/><stop offset="0.7566" stop-color="#ff8f00"/><stop offset="0.9760" stop-color="#ff7f00"/><stop offset="1.0000" stop-color="#ff7f00"/></linearGradient><linearGradient id="g189" x2="0" y2="1"><stop offset="0.0000" stop-color="#000080"/><stop offset="0.0688" stop-color="#00009c"/><stop offset="0.1275" stop-color="#0000cb"/><stop offset="0.1739" stop-color="#0000ce"/><stop offset="0.2125" stop-color="#0000c2"/><stop offset="0.2527" stop-color="#0000b7"/><stop offset="0.2867" stop-color="#0000c4"/><stop offset="0.3346" stop-color="#0000f3"/><stop offset="0.3454" stop-color="#0004ff"/><stop offset="0.4397" stop-color="#0080ff"/><stop offset="0.5325" stop-color="#00eeff"/><stop offset="0.5464" stop-color="#04fffb"/><stop offset="0.5850" stop-color="#54ffab"/><stop offset="0.6298" stop-color="#cfff30"/><stop offset="0.6515" stop-color="#fffd00"/><stop offset="0.6839" stop-color="#ffc100"/><stop offset="0.7226" stop-color="#ff9e00"/><stop offset="0.7566" stop-color="#ff8f00"/><stop offset="0.9745" stop-color="#ff7f00"/><stop offset="1.0000" stop-color="#ff7f00"/></linearGradient><linearGradient id="g190" x2="0" y2="1"><stop offset="0.0000" stop-color="#000080"/><stop offset="0.0688" stop-color="#00009a"/><stop offset="0.1260" stop-color="#0000c6"/><stop offset="0.1662" stop-color="#0000c8"/><stop offset="0.2094" stop-color="#0000b8"/><stop offset="0.2496" stop-color="#0000a9"/><stop offset="0.2821" stop-color="#0000b4"/><stop offset="0.3253" stop-color="#0000e0"/><stop offset="0.3485" stop-color="#0003ff"/><stop offset="0.4351" stop-color="#007dff"/><stop offset="0.5325" stop-color="#00eeff"/><stop offset="0.5448" stop-color="#02fffd"/><stop offset="0.5819" stop-color="#4cffb3"/><stop offset="0.6314" stop-color="#d2ff2d"/><stop offset="0.6515" stop-color="#fffd00"/><stop offset="0.6839" stop-color="#ffc200"/><stop offset="0.7226" stop-color="#ff9f00"/><stop offset="0.7566" stop-color="#ff9000"/><stop offset="0.9714" stop-color="#ff7f00"/><stop offset="1.0000" stop-color="#ff7f00"/></linearGradient><linearGradient id="g191" x2="0" y2="1"><stop offset="0.0000" stop-color="#000080"/><stop offset="0.0657" stop-color="#000096"/><stop offset="0.1213" stop-color="#0000c0"/><stop offset="0.1461" stop-color="#0000c5"/><stop offset="0.2002" stop-color="#0000b4"/><stop offset="0.2434" stop-color="#00009d"/><stop offset="0.2743" stop-color="#0000a2"/><stop offset="0.3099" stop-color="#0000c4"/><stop offset="0.3454" stop-color="#0000f7"/><stop offset="0.3516" stop-color="#0003ff"/><stop offset="0.4304" stop-color="#0079ff"/><stop offset="0.5340" stop-color="#00f1ff"/><stop offset="0.5448" stop-color="#02fffd"/><stop offset="0.5819" stop-color="#4cffb3"/><stop offset="0.6314" stop-color="#d2ff2d"/><stop offset="0.6515" stop-color="#fffe00"/><stop offset="0.6839" stop-color="#ffc300"/><stop offset="0.7226" stop-color="#ff9f00"/><stop offset="0.7566" stop-color="#ff9000"/><stop offset="0.9668" stop-color="#ff7f00"/><stop offset="1.0000" stop-color="#ff7f00"/></linearGradient><linearGradient id="g192" x2="0" y2="1"><stop offset="0.0000" stop-color="#000080"/><stop offset="0.0487" stop-color="#00008e"/><stop offset="0.0719" stop-color="#00009a"/><stop offset="0.1244" stop-color="#0000be"/><stop offset="0.1553" stop-color="#0000bf"/><stop offset="0.2048" stop-color="#0000a7"/><stop offset="0.2434" stop-color="#000091"/><stop offset="0.2728" stop-color="#000096"/><stop offset="0.3053" stop-color="#0000b5"/><stop offset="0.3423" stop-color="#0000ed"/><stop offset="0.3547" stop-color="#0004ff"/><stop offset="0.4289" stop-color="#0078ff"/><stop offset="0.5000" stop-color="#00caff"/><stop offset="0.5402" stop-color="#00faff"/><stop offset="0.5479" stop-color="#07fff8"/><stop offset="0.5850" stop-color="#53ffac"/><stop offset="0.6298" stop-color="#cdff32"/><stop offset="0.6515" stop-color="#ffff00"/><stop offset="0.6855" stop-color="#ffc200"/><stop offset="0.7241" stop-color="#ff9f00"/><stop offset="0.7566" stop-color="#ff9000"/><stop offset="0.9621" stop-color="#ff7e00"/><stop offset="1.0000" stop-color="#ff7e00"/></linearGradient><linearGradient id="g193" x2="0" y2="1"><stop offset="0.0000" stop-color="#000080"/><stop offset="0.0425" stop-color="#00008b"/><stop offset="0.0719" stop-color="#000098"/><stop offset="0.1244" stop-color="#0000bb"/><stop offset="0.1538" stop-color="#0000ba"/><stop offset="0.2032" stop-color="#0000a1"/><stop offset="0.2419" stop-color="#000087"/><stop offset="0.2697" stop-color="#00008a"/><stop offset="0.3006" stop-color="#0000a6"/><stop offset="0.3408" stop-color="#0000e5"/><stop offset="0.3563" stop-color="#0003ff"/><stop offset="0.4258" stop-color="#0076ff"/><stop offset="0.4923" stop-color="#00c4ff"/><stop offset="0.5340" stop-color="#00f2ff"/><stop offset="0.5448" stop-color="#02fffd"/><stop offset="0.5819" stop-color="#4bffb4"/><stop offset="0.6314" stop-color="#d0ff2f"/><stop offset="0.6530" stop-color="#fffd00"/><stop offset="0.6855" stop-color="#ffc300"/><stop offset="0.7241" stop-color="#ffa000"/><stop offset="0.7566" stop-color="#ff9000"/><stop offset="0.9560" stop-color="#ff7d00"/><stop offset="1.0000" stop-color="#ff7e00"/></linearGradient><linearGradient id="g194" x2="0" y2="1"><stop offset="0.0000" stop-color="#000080"/><stop offset="0.0410" stop-color="#000089"/><stop offset="0.0719" stop-color="#000097"/><stop offset="0.1229" stop-color="#0000b8"/><stop offset="0.1476" stop-color="#0000b8"/><stop offset="0.1986" stop-color="#00009f"/><stop offset="0.2388" stop-color="#000080"/><stop offset="0.2713" stop-color="#000083"/><stop offset="0.3006" stop-color="#0000a0"/><stop offset="0.3408" stop-color="#0000e1"/><stop offset="0.3578" stop-color="#0003ff"/><stop offset="0.4258" stop-color="#0077ff"/><stop offset="0.4876" stop-color="#00c1ff"/><stop offset="0.5325" stop-color="#00f0ff"/><stop offset="0.5448" stop-color="#02fffd"/><stop offset="0.5819" stop-color="#4bffb4"/><stop offset="0.6314" stop-color="#cfff30"/><stop offset="0.6530" stop-color="#fffe00"/><stop offset="0.6855" stop-color="#ffc400"/><stop offset="0.7241" stop-color="#ffa000"/><stop offset="0.7566" stop-color="#ff9100"/><stop offset="0.9498" stop-color="#ff7c00"/><stop offset="1.0000" stop-color="#ff7d00"/></linearGradient><linearGradient id="g195" x2="0" y2="1"><stop offset="0.0000" stop-color="#000080"/><stop offset="0.0379" stop-color="#000087"/><stop offset="0.0719" stop-color="#000096"/><stop offset="0.1229" stop-color="#0000b6"/><stop offset="0.1476" stop-color="#0000b6"/><stop offset="0.1986" stop-color="#00009a"/><stop offset="0.2326" stop-color="#000080"/><stop offset="0.2774" stop-color="#000082"/><stop offset="0.3083" stop-color="#0000a6"/><stop offset="0.3439" stop-color="#0000e5"/><stop offset="0.3578" stop-color="#0001ff"/><stop offset="0.4243" stop-color="#0076ff"/><stop offset="0.4845" stop-color="#00bfff"/><stop offset="0.5325" stop-color="#00f1ff"/><stop offset="0.5448" stop-color="#02fffd"/><stop offset="0.5819" stop-color="#4affb5"/><stop offset="0.6314" stop-color="#cdff32"/><stop offset="0.6546" stop-color="#fffd00"/><stop offset="0.6870" stop-color="#ffc400"/><stop offset="0.7257" stop-color="#ffa000"/><stop offset="0.7566" stop-color="#ff9100"/><stop offset="0.9451" stop-color="#ff7900"/><stop offset="1.0000" stop-color="#ff7b00"/></linearGradient><linearGradient id="g196" x2="0" y2="1"><stop offset="0.0000" stop-color="#000080"/><stop offset="0.0379" stop-color="#000087"/><stop offset="0.0719" stop-color="#000095"/><stop offset="0.1229" stop-color="#0000b4"/><stop offset="0.1476" stop-color="#0000b4"/><stop offset="0.1986" stop-color="#000098"/><stop offset="0.2295" stop-color="#000080"/><stop offset="0.2805" stop-color="#000082"/><stop offset="0.3130" stop-color="#0000ac"/><stop offset="0.3470" stop-color="#0000ea"/><stop offset="0.3594" stop-color="#0003ff"/><stop offset="0.4258" stop-color="#007aff"/><stop offset="0.4830" stop-color="#00bfff"/><stop offset="0.5325" stop-color="#00f1ff"/><stop offset="0.5448" stop-color="#03fffc"/><stop offset="0.5819" stop-color="#4affb5"/><stop offset="0.6314" stop-color="#ccff33"/><stop offset="0.6546" stop-color="#fffe00"/><stop offset="0.6870" stop-color="#ffc500"/><stop offset="0.7257" stop-color="#ffa100"/><stop offset="0.7566" stop-color="#ff9100"/><stop offset="0.9389" stop-color="#ff7700"/><stop offset="1.0000" stop-color="#ff7900"/></linearGradient><linearGradient id="g197" x2="0" y2="1"><stop offset="0.0000" stop-color="#000080"/><stop offset="0.0394" stop-color="#000087"/><stop offset="0.0719" stop-color="#000094"/><stop offset="0.1229" stop-color="#0000b3"/><stop offset="0.1476" stop-color="#0000b3"/><stop offset="0.1986" stop-color="#000098"/><stop offset="0.2295" stop-color="#000080"/><stop offset="0.2805" stop-color="#000082"/><stop offset="0.3130" stop-color="#0000ac"/><stop offset="0.3470" stop-color="#0000ea"/><stop offset="0.3594" stop-color="#0004ff"/><stop offset="0.4258" stop-color="#007aff"/><stop offset="0.4830" stop-color="#00bfff"/><stop offset="0.5325" stop-color="#00f1ff"/><stop offset="0.5448" stop-color="#02fffd"/><stop offset="0.5819" stop-color="#49ffb6"/><stop offset="0.6314" stop-color="#cbff34"/><stop offset="0.6561" stop-color="#fffd00"/><stop offset="0.6886" stop-color="#ffc500"/><stop offset="0.7272" stop-color="#ffa100"/><stop offset="0.7566" stop-color="#ff9100"/><stop offset="0.9343" stop-color="#ff7300"/><stop offset="1.0000" stop-color="#ff7600"/></linearGradient><linearGradient id="g198" x2="0" y2="1"><stop offset="0.0000" stop-color="#000080"/><stop offset="0.0394" stop-color="#000087"/><stop offset="0.0719" stop-color="#000094"/><stop offset="0.1244" stop-color="#0000b3"/><stop offset="0.1538" stop-color="#0000b1"/><stop offset="0.2048" stop-color="#000093"/><stop offset="0.2342" stop-color="#000080"/><stop offset="0.2759" stop-color="#000082"/><stop offset="0.3068" stop-color="#0000a5"/><stop offset="0.3423" stop-color="#0000e2"/><stop offset="0.3578" stop-color="#0002ff"/><stop offset="0.4258" stop-color="#007bff"/><stop offset="0.4815" stop-color="#00beff"/><stop offset="0.5325" stop-color="#00f1ff"/><stop offset="0.5448" stop-color="#02fffd"/><stop offset="0.5819" stop-color="#49ffb6"/><stop offset="0.6314" stop-color="#c9ff36"/><stop offset="0.6561" stop-color="#fffe00"/><stop offset="0.6886" stop-color="#ffc700"/><stop offset="0.7272" stop-color="#ffa200"/><stop offset="0.7566" stop-color="#ff9100"/><stop offset="0.9281" stop-color="#ff6f00"/><stop offset="1.0000" stop-color="#ff7300"/></linearGradient><linearGradient id="g199" x2="0" y2="1"><stop offset="0.0000" stop-color="#000080"/><stop offset="0.0394" stop-color="#000086"/><stop offset="0.0719" stop-color="#000093"/><stop offset="0.1260" stop-color="#0000b4"/><stop offset="0.1615" stop-color="#0000af"/><stop offset="0.2094" stop-color="#000093"/><stop offset="0.2450" stop-color="#000080"/><stop offset="0.2728" stop-color="#000086"/><stop offset="0.3037" stop-color="#0000a6"/><stop offset="0.3423" stop-color="#0000e5"/><stop offset="0.3563" stop-color="#0001ff"/><stop offset="0.4274" stop-color="#007eff"/><stop offset="0.4830" stop-color="#00c0ff"/><stop offset="0.5325" stop-color="#00f1ff"/><stop offset="0.5448" stop-color="#02fffd"/><stop offset="0.5819" stop-color="#48ffb7"/><stop offset="0.6314" stop-color="#c8ff37"/><stop offset="0.6577" stop-color="#fffd00"/><stop offset="0.6886" stop-color="#ffc800"/><stop offset="0.7272" stop-color="#ffa300"/><stop offset="0.7566" stop-color="#ff9100"/><stop offset="0.9219" stop-color="#ff6a00"/><stop offset="1.0000" stop-color="#ff6f00"/></linearGradient><linearGradient id="g200" x2="0" y2="1"><stop offset="0.0000" stop-color="#000080"/><stop offset="0.0394" stop-color="#000086"/><stop offset="0.0719" stop-color="#000093"/><stop offset="0.1275" stop-color="#0000b5"/><stop offset="0.1692" stop-color="#0000af"/><stop offset="0.2125" stop-color="#000097"/><stop offset="0.2481" stop-color="#000087"/><stop offset="0.2774" stop-color="#000091"/><stop offset="0.3114" stop-color="#0000b7"/><stop offset="0.3454" stop-color="#0000ef"/><stop offset="0.3563" stop-color="#0004ff"/><stop offset="0.4304" stop-color="#0082ff"/><stop offset="0.4861" stop-color="#00c3ff"/><stop offset="0.5325" stop-color="#00f1ff"/><stop offset="0.5448" stop-color="#02fffd"/><stop offset="0.5819" stop-color="#47ffb8"/><stop offset="0.6314" stop-color="#c6ff39"/><stop offset="0.6577" stop-color="#ffff00"/><stop offset="0.6901" stop-color="#ffc800"/><stop offset="0.7272" stop-color="#ffa400"/><stop offset="0.7566" stop-color="#ff9100"/><stop offset="0.9189" stop-color="#ff6500"/><stop offset="0.9900" stop-color="#ff6800"/><stop offset="1.0000" stop-color="#ff6a00"/></linearGradient><linearGradient id="g201" x2="0" y2="1"><stop offset="0.0000" stop-color="#000080"/><stop offset="0.0394" stop-color="#000086"/><stop offset="0.0703" stop-color="#000092"/><stop offset="0.1275" stop-color="#0000b6"/><stop offset="0.1723" stop-color="#0000b1"/><stop offset="0.2156" stop-color="#00009c"/><stop offset="0.2512" stop-color="#000091"/><stop offset="0.2821" stop-color="#00009f"/><stop offset="0.3207" stop-color="#0000cb"/><stop offset="0.3532" stop-color="#0002ff"/><stop offset="0.4320" stop-color="#0084ff"/><stop offset="0.4876" stop-color="#00c3ff"/><stop offset="0.5340" stop-color="#00f2ff"/><stop offset="0.5464" stop-color="#04fffb"/><stop offset="0.5850" stop-color="#4effb1"/><stop offset="0.6298" stop-color="#c1ff3e"/><stop offset="0.6592" stop-color="#fffe00"/><stop offset="0.6901" stop-color="#ffca00"/><stop offset="0.7287" stop-color="#ffa400"/><stop offset="0.7566" stop-color="#ff9100"/><stop offset="0.9158" stop-color="#ff5f00"/><stop offset="0.9760" stop-color="#ff6100"/><stop offset="1.0000" stop-color="#ff6600"/></linearGradient><linearGradient id="g202" x2="0" y2="1"><stop offset="0.0000" stop-color="#000080"/><stop offset="0.0410" stop-color="#000087"/><stop offset="0.0719" stop-color="#000093"/><stop offset="0.1306" stop-color="#0000b9"/><stop offset="0.1878" stop-color="#0000b2"/><stop offset="0.2450" stop-color="#00009c"/><stop offset="0.2774" stop-color="#0000a6"/><stop offset="0.3161" stop-color="#0000cd"/><stop offset="0.3516" stop-color="#0003ff"/><stop offset="0.4335" stop-color="#0085ff"/><stop offset="0.4907" stop-color="#00c5ff"/><stop offset="0.5340" stop-color="#00f2ff"/><stop offset="0.5464" stop-color="#03fffc"/><stop offset="0.5850" stop-color="#4dffb2"/><stop offset="0.6298" stop-color="#bfff40"/><stop offset="0.6607" stop-color="#fffd00"/><stop offset="0.6917" stop-color="#ffca00"/><stop offset="0.7287" stop-color="#ffa400"/><stop offset="0.7566" stop-color="#ff9200"/><stop offset="0.9127" stop-color="#ff5a00"/><stop offset="0.9668" stop-color="#ff5a00"/><stop offset="1.0000" stop-color="#ff6100"/></linearGradient><linearGradient id="g203" x2="0" y2="1"><stop offset="0.0000" stop-color="#000080"/><stop offset="0.0425" stop-color="#000088"/><stop offset="0.0719" stop-color="#000094"/><stop offset="0.1321" stop-color="#0000bb"/><stop offset="0.2002" stop-color="#0000b5"/><stop offset="0.2450" stop-color="#0000a8"/><stop offset="0.2790" stop-color="#0000b3"/><stop offset="0.3223" stop-color="#0000dd"/><stop offset="0.3485" stop-color="#0003ff"/><stop offset="0.4366" stop-color="#0087ff"/><stop offset="0.4954" stop-color="#00c8ff"/><stop offset="0.5371" stop-color="#00f5ff"/><stop offset="0.5479" stop-color="#05fffa"/><stop offset="0.5866" stop-color="#50ffaf"/><stop offset="0.6298" stop-color="#bdff42"/><stop offset="0.6607" stop-color="#ffff00"/><stop offset="0.6917" stop-color="#ffcc00"/><stop offset="0.7287" stop-color="#ffa500"/><stop offset="0.7566" stop-color="#ff9200"/><stop offset="0.9111" stop-color="#ff5600"/><stop offset="0.9606" stop-color="#ff5400"/><stop offset="1.0000" stop-color="#ff5e00"/></linearGradient><linearGradient id="g204" x2="0" y2="1"><stop offset="0.0000" stop-color="#000080"/><stop offset="0.0425" stop-color="#000088"/><stop offset="0.0719" stop-color="#000094"/><stop offset="0.1337" stop-color="#0000bd"/><stop offset="0.2032" stop-color="#0000bc"/><stop offset="0.2496" stop-color="#0000b4"/><stop offset="0.2867" stop-color="#0000c4"/><stop offset="0.3362" stop-color="#0000f5"/><stop offset="0.3454" stop-color="#0004ff"/><stop offset="0.4397" stop-color="#008aff"/><stop offset="0.5015" stop-color="#00cdff"/><stop offset="0.5464" stop-color="#02fffd"/><stop offset="0.5850" stop-color="#4bffb4"/><stop offset="0.6298" stop-color="#bcff43"/><stop offset="0.6623" stop-color="#fffe00"/><stop offset="0.6917" stop-color="#ffce00"/><stop offset="0.7303" stop-color="#ffa500"/><stop offset="0.7566" stop-color="#ff9200"/><stop offset="0.9096" stop-color="#ff5300"/><stop offset="0.9575" stop-color="#ff5000"/><stop offset="1.0000" stop-color="#ff5b00"/></linearGradient><linearGradient id="g205" x2="0" y2="1"><stop offset="0.0000" stop-color="#000080"/><stop offset="0.0456" stop-color="#000089"/><stop offset="0.0719" stop-color="#000095"/><stop offset="0.1352" stop-color="#0000c0"/><stop offset="0.2079" stop-color="#0000c3"/><stop offset="0.2558" stop-color="#0000c1"/><stop offset="0.2975" stop-color="#0000d7"/><stop offset="0.3408" stop-color="#0003ff"/><stop offset="0.4428" stop-color="#008bff"/><stop offset="0.5093" stop-color="#00d3ff"/><stop offset="0.5464" stop-color="#02fffd"/><stop offset="0.5866" stop-color="#4effb1"/><stop offset="0.6298" stop-color="#baff45"/><stop offset="0.6638" stop-color="#fffd00"/><stop offset="0.6932" stop-color="#ffce00"/><stop offset="0.7303" stop-color="#ffa600"/><stop offset="0.7566" stop-color="#ff9200"/><stop offset="0.9080" stop-color="#ff5100"/><stop offset="0.9560" stop-color="#ff4e00"/><stop offset="1.0000" stop-color="#ff5a00"/></linearGradient><linearGradient id="g206" x2="0" y2="1"><stop offset="0.0000" stop-color="#000080"/><stop offset="0.0487" stop-color="#00008b"/><stop offset="0.0719" stop-color="#000095"/><stop offset="0.1352" stop-color="#0000c2"/><stop offset="0.2094" stop-color="#0000cb"/><stop offset="0.2604" stop-color="#0000cd"/><stop offset="0.3083" stop-color="#0000e8"/><stop offset="0.3362" stop-color="#0002ff"/><stop offset="0.4474" stop-color="#008eff"/><stop offset="0.5386" stop-color="#00f5ff"/><stop offset="0.5479" stop-color="#03fffc"/><stop offset="0.5881" stop-color="#52ffad"/><stop offset="0.6314" stop-color="#bcff43"/><stop offset="0.6638" stop-color="#ffff00"/><stop offset="0.6932" stop-color="#ffd000"/><stop offset="0.7303" stop-color="#ffa800"/><stop offset="0.7566" stop-color="#ff9300"/><stop offset="0.9065" stop-color="#ff5200"/><stop offset="0.9544" stop-color="#ff4e00"/><stop offset="1.0000" stop-color="#ff5a00"/></linearGradient><linearGradient id="g207" x2="0" y2="1"><stop offset="0.0000" stop-color="#000080"/><stop offset="0.0533" stop-color="#00008c"/><stop offset="0.0750" stop-color="#000099"/><stop offset="0.1368" stop-color="#0000c5"/><stop offset="0.2094" stop-color="#0000d2"/><stop offset="0.2635" stop-color="#0000d8"/><stop offset="0.3192" stop-color="#0000f8"/><stop offset="0.3331" stop-color="#0005ff"/><stop offset="0.4938" stop-color="#00c1ff"/><stop offset="0.5402" stop-color="#00f7ff"/><stop offset="0.5495" stop-color="#05fffa"/><stop offset="0.5881" stop-color="#51ffae"/><stop offset="0.6314" stop-color="#baff45"/><stop offset="0.6654" stop-color="#ffff00"/><stop offset="0.6932" stop-color="#ffd200"/><stop offset="0.7318" stop-color="#ffa800"/><stop offset="0.7566" stop-color="#ff9400"/><stop offset="0.9065" stop-color="#ff5400"/><stop offset="0.9560" stop-color="#ff5000"/><stop offset="1.0000" stop-color="#ff5b00"/></linearGradient><filter id="hb" x="0" y="0" width="1" height="1" color-interpolation-filters="sRGB"><feGaussianBlur stdDeviation="3.5 0"/></filter><clipPath id="clipA"><rect x="707" y="30" width="1811" height="647"/></clipPath><linearGradient id="cb" x1="0" y1="1" x2="0" y2="0"><stop offset="0.0000" stop-color="#000080"/><stop offset="0.1250" stop-color="#0000ff"/><stop offset="0.3750" stop-color="#00ffff"/><stop offset="0.6250" stop-color="#ffff00"/><stop offset="0.8750" stop-color="#ff0000"/><stop offset="1.0000" stop-color="#800000"/></linearGradient><clipPath id="clipB"><rect x="707" y="858" width="1811" height="647"/></clipPath></defs><g clip-path="url(#clipA)"><g filter="url(#hb)" shape-rendering="crispEdges"><rect x="690" y="30" width="600" height="647" fill="url(#g0)"/><rect x="1290" y="30" width="6" height="647" fill="url(#g1)"/><rect x="1296" y="30" width="6" height="647" fill="url(#g2)"/><rect x="1302" y="30" width="6" height="647" fill="url(#g3)"/><rect x="1308" y="30" width="6" height="647" fill="url(#g4)"/><rect x="1314" y="30" width="6" height="647" fill="url(#g5)"/><rect x="1320" y="30" width="6" height="647" fill="url(#g6)"/><rect x="1326" y="30" width="6" height="647" fill="url(#g7)"/><rect x="1332" y="30" width="6" height="647" fill="url(#g8)"/><rect x="1338" y="30" width="6" height="647" fill="url(#g9)"/><rect x="1344" y="30" width="6" height="647" fill="url(#g10)"/><rect x="1350" y="30" width="6" height="647" fill="url(#g11)"/><rect x="1356" y="30" width="6" height="647" fill="url(#g12)"/><rect x="1362" y="30" width="6" height="647" fill="url(#g13)"/><rect x="1368" y="30" width="6" height="647" fill="url(#g14)"/><rect x="1374" y="30" width="6" height="647" fill="url(#g15)"/><rect x="1380" y="30" width="6" height="647" fill="url(#g16)"/><rect x="1386" y="30" width="6" height="647" fill="url(#g17)"/><rect x="1392" y="30" width="6" height="647" fill="url(#g18)"/><rect x="1398" y="30" width="6" height="647" fill="url(#g19)"/><rect x="1404" y="30" width="6" height="647" fill="url(#g20)"/><rect x="1410" y="30" width="6" height="647" fill="url(#g21)"/><rect x="1416" y="30" width="6" height="647" fill="url(#g22)"/><rect x="1422" y="30" width="6" height="647" fill="url(#g23)"/><rect x="1428" y="30" width="6" height="647" fill="url(#g24)"/><rect x="1434" y="30" width="6" height="647" fill="url(#g25)"/><rect x="1440" y="30" width="6" height="647" fill="url(#g26)"/><rect x="1446" y="30" width="6" height="647" fill="url(#g27)"/><rect x="1452" y="30" width="6" height="647" fill="url(#g28)"/><rect x="1458" y="30" width="6" height="647" fill="url(#g29)"/><rect x="1464" y="30" width="6" height="647" fill="url(#g30)"/><rect x="1470" y="30" width="6" height="647" fill="url(#g31)"/><rect x="1476" y="30" width="6" height="647" fill="url(#g32)"/><rect x="1482" y="30" width="6" height="647" fill="url(#g33)"/><rect x="1488" y="30" width="6" height="647" fill="url(#g34)"/><rect x="1494" y="30" width="6" height="647" fill="url(#g35)"/><rect x="1500" y="30" width="6" height="647" fill="url(#g36)"/><rect x="1506" y="30" width="6" height="647" fill="url(#g37)"/><rect x="1512" y="30" width="6" height="647" fill="url(#g38)"/><rect x="1518" y="30" width="6" height="647" fill="url(#g39)"/><rect x="1524" y="30" width="6" height="647" fill="url(#g40)"/><rect x="1530" y="30" width="6" height="647" fill="url(#g41)"/><rect x="1536" y="30" width="6" height="647" fill="url(#g42)"/><rect x="1542" y="30" width="6" height="647" fill="url(#g43)"/><rect x="1548" y="30" width="6" height="647" fill="url(#g44)"/><rect x="1554" y="30" width="6" height="647" fill="url(#g45)"/><rect x="1560" y="30" width="6" height="647" fill="url(#g46)"/><rect x="1566" y="30" width="6" height="647" fill="url(#g47)"/><rect x="1572" y="30" width="6" height="647" fill="url(#g48)"/><rect x="1578" y="30" width="6" height="647" fill="url(#g49)"/><rect x="1584" y="30" width="6" height="647" fill="url(#g50)"/><rect x="1590" y="30" width="6" height="647" fill="url(#g51)"/><rect x="1596" y="30" width="6" height="647" fill="url(#g52)"/><rect x="1602" y="30" width="6" height="647" fill="url(#g53)"/><rect x="1608" y="30" width="6" height="647" fill="url(#g54)"/><rect x="1614" y="30" width="6" height="647" fill="url(#g55)"/><rect x="1620" y="30" width="6" height="647" fill="url(#g56)"/><rect x="1626" y="30" width="6" height="647" fill="url(#g57)"/><rect x="1632" y="30" width="6" height="647" fill="url(#g58)"/><rect x="1638" y="30" width="6" height="647" fill="url(#g59)"/><rect x="1644" y="30" width="6" height="647" fill="url(#g60)"/><rect x="1650" y="30" width="6" height="647" fill="url(#g61)"/><rect x="1656" y="30" width="6" height="647" fill="url(#g62)"/><rect x="1662" y="30" width="6" height="647" fill="url(#g63)"/><rect x="1668" y="30" width="6" height="647" fill="url(#g64)"/><rect x="1674" y="30" width="6" height="647" fill="url(#g65)"/><rect x="1680" y="30" width="6" height="647" fill="url(#g66)"/><rect x="1686" y="30" width="6" height="647" fill="url(#g67)"/><rect x="1692" y="30" width="6" height="647" fill="url(#g68)"/><rect x="1698" y="30" width="6" height="647" fill="url(#g69)"/><rect x="1704" y="30" width="6" height="647" fill="url(#g70)"/><rect x="1710" y="30" width="6" height="647" fill="url(#g71)"/><rect x="1716" y="30" width="6" height="647" fill="url(#g72)"/><rect x="1722" y="30" width="6" height="647" fill="url(#g73)"/><rect x="1728" y="30" width="6" height="647" fill="url(#g74)"/><rect x="1734" y="30" width="6" height="647" fill="url(#g75)"/><rect x="1740" y="30" width="6" height="647" fill="url(#g76)"/><rect x="1746" y="30" width="6" height="647" fill="url(#g77)"/><rect x="1752" y="30" width="6" height="647" fill="url(#g78)"/><rect x="1758" y="30" width="6" height="647" fill="url(#g79)"/><rect x="1764" y="30" width="6" height="647" fill="url(#g80)"/><rect x="1770" y="30" width="6" height="647" fill="url(#g81)"/><rect x="1776" y="30" width="6" height="647" fill="url(#g82)"/><rect x="1782" y="30" width="6" height="647" fill="url(#g83)"/><rect x="1788" y="30" width="6" height="647" fill="url(#g84)"/><rect x="1794" y="30" width="6" height="647" fill="url(#g85)"/><rect x="1800" y="30" width="6" height="647" fill="url(#g86)"/><rect x="1806" y="30" width="6" height="647" fill="url(#g87)"/><rect x="1812" y="30" width="6" height="647" fill="url(#g88)"/><rect x="1818" y="30" width="6" height="647" fill="url(#g89)"/><rect x="1824" y="30" width="6" height="647" fill="url(#g90)"/><rect x="1830" y="30" width="6" height="647" fill="url(#g91)"/><rect x="1836" y="30" width="6" height="647" fill="url(#g92)"/><rect x="1842" y="30" width="6" height="647" fill="url(#g93)"/><rect x="1848" y="30" width="6" height="647" fill="url(#g94)"/><rect x="1854" y="30" width="6" height="647" fill="url(#g95)"/><rect x="1860" y="30" width="6" height="647" fill="url(#g96)"/><rect x="1866" y="30" width="6" height="647" fill="url(#g97)"/><rect x="1872" y="30" width="6" height="647" fill="url(#g98)"/><rect x="1878" y="30" width="6" height="647" fill="url(#g99)"/><rect x="1884" y="30" width="6" height="647" fill="url(#g100)"/><rect x="1890" y="30" width="6" height="647" fill="url(#g101)"/><rect x="1896" y="30" width="6" height="647" fill="url(#g102)"/><rect x="1902" y="30" width="6" height="647" fill="url(#g103)"/><rect x="1908" y="30" width="6" height="647" fill="url(#g104)"/><rect x="1914" y="30" width="6" height="647" fill="url(#g105)"/><rect x="1920" y="30" width="6" height="647" fill="url(#g106)"/><rect x="1926" y="30" width="6" height="647" fill="url(#g107)"/><rect x="1932" y="30" width="6" height="647" fill="url(#g108)"/><rect x="1938" y="30" width="6" height="647" fill="url(#g109)"/><rect x="1944" y="30" width="6" height="647" fill="url(#g110)"/><rect x="1950" y="30" width="6" height="647" fill="url(#g111)"/><rect x="1956" y="30" width="6" height="647" fill="url(#g112)"/><rect x="1962" y="30" width="6" height="647" fill="url(#g113)"/><rect x="1968" y="30" width="6" height="647" fill="url(#g114)"/><rect x="1974" y="30" width="6" height="647" fill="url(#g115)"/><rect x="1980" y="30" width="6" height="647" fill="url(#g116)"/><rect x="1986" y="30" width="6" height="647" fill="url(#g117)"/><rect x="1992" y="30" width="6" height="647" fill="url(#g118)"/><rect x="1998" y="30" width="6" height="647" fill="url(#g119)"/><rect x="2004" y="30" width="6" height="647" fill="url(#g120)"/><rect x="2010" y="30" width="6" height="647" fill="url(#g121)"/><rect x="2016" y="30" width="6" height="647" fill="url(#g122)"/><rect x="2022" y="30" width="6" height="647" fill="url(#g123)"/><rect x="2028" y="30" width="6" height="647" fill="url(#g124)"/><rect x="2034" y="30" width="6" height="647" fill="url(#g125)"/><rect x="2040" y="30" width="6" height="647" fill="url(#g126)"/><rect x="2046" y="30" width="6" height="647" fill="url(#g127)"/><rect x="2052" y="30" width="6" height="647" fill="url(#g128)"/><rect x="2058" y="30" width="6" height="647" fill="url(#g129)"/><rect x="2064" y="30" width="6" height="647" fill="url(#g130)"/><rect x="2070" y="30" width="6" height="647" fill="url(#g131)"/><rect x="2076" y="30" width="6" height="647" fill="url(#g132)"/><rect x="2082" y="30" width="6" height="647" fill="url(#g133)"/><rect x="2088" y="30" width="6" height="647" fill="url(#g134)"/><rect x="2094" y="30" width="6" height="647" fill="url(#g135)"/><rect x="2100" y="30" width="6" height="647" fill="url(#g136)"/><rect x="2106" y="30" width="6" height="647" fill="url(#g137)"/><rect x="2112" y="30" width="6" height="647" fill="url(#g138)"/><rect x="2118" y="30" width="6" height="647" fill="url(#g139)"/><rect x="2124" y="30" width="6" height="647" fill="url(#g140)"/><rect x="2130" y="30" width="6" height="647" fill="url(#g141)"/><rect x="2136" y="30" width="6" height="647" fill="url(#g142)"/><rect x="2142" y="30" width="6" height="647" fill="url(#g143)"/><rect x="2148" y="30" width="6" height="647" fill="url(#g144)"/><rect x="2154" y="30" width="6" height="647" fill="url(#g145)"/><rect x="2160" y="30" width="6" height="647" fill="url(#g146)"/><rect x="2166" y="30" width="6" height="647" fill="url(#g147)"/><rect x="2172" y="30" width="6" height="647" fill="url(#g148)"/><rect x="2178" y="30" width="6" height="647" fill="url(#g149)"/><rect x="2184" y="30" width="6" height="647" fill="url(#g150)"/><rect x="2190" y="30" width="6" height="647" fill="url(#g151)"/><rect x="2196" y="30" width="6" height="647" fill="url(#g152)"/><rect x="2202" y="30" width="6" height="647" fill="url(#g153)"/><rect x="2208" y="30" width="6" height="647" fill="url(#g154)"/><rect x="2214" y="30" width="6" height="647" fill="url(#g155)"/><rect x="2220" y="30" width="6" height="647" fill="url(#g156)"/><rect x="2226" y="30" width="6" height="647" fill="url(#g157)"/><rect x="2232" y="30" width="6" height="647" fill="url(#g158)"/><rect x="2238" y="30" width="6" height="647" fill="url(#g159)"/><rect x="2244" y="30" width="6" height="647" fill="url(#g160)"/><rect x="2250" y="30" width="6" height="647" fill="url(#g161)"/><rect x="2256" y="30" width="6" height="647" fill="url(#g162)"/><rect x="2262" y="30" width="6" height="647" fill="url(#g163)"/><rect x="2268" y="30" width="6" height="647" fill="url(#g164)"/><rect x="2274" y="30" width="6" height="647" fill="url(#g165)"/><rect x="2280" y="30" width="6" height="647" fill="url(#g166)"/><rect x="2286" y="30" width="6" height="647" fill="url(#g167)"/><rect x="2292" y="30" width="6" height="647" fill="url(#g168)"/><rect x="2298" y="30" width="6" height="647" fill="url(#g169)"/><rect x="2304" y="30" width="6" height="647" fill="url(#g170)"/><rect x="2310" y="30" width="6" height="647" fill="url(#g171)"/><rect x="2316" y="30" width="6" height="647" fill="url(#g172)"/><rect x="2322" y="30" width="6" height="647" fill="url(#g173)"/><rect x="2328" y="30" width="6" height="647" fill="url(#g174)"/><rect x="2334" y="30" width="6" height="647" fill="url(#g175)"/><rect x="2340" y="30" width="6" height="647" fill="url(#g176)"/><rect x="2346" y="30" width="6" height="647" fill="url(#g177)"/><rect x="2352" y="30" width="6" height="647" fill="url(#g178)"/><rect x="2358" y="30" width="6" height="647" fill="url(#g179)"/><rect x="2364" y="30" width="6" height="647" fill="url(#g180)"/><rect x="2370" y="30" width="6" height="647" fill="url(#g181)"/><rect x="2376" y="30" width="6" height="647" fill="url(#g182)"/><rect x="2382" y="30" width="6" height="647" fill="url(#g183)"/><rect x="2388" y="30" width="6" height="647" fill="url(#g184)"/><rect x="2394" y="30" width="6" height="647" fill="url(#g185)"/><rect x="2400" y="30" width="6" height="647" fill="url(#g186)"/><rect x="2406" y="30" width="6" height="647" fill="url(#g187)"/><rect x="2412" y="30" width="6" height="647" fill="url(#g188)"/><rect x="2418" y="30" width="6" height="647" fill="url(#g189)"/><rect x="2424" y="30" width="6" height="647" fill="url(#g190)"/><rect x="2430" y="30" width="6" height="647" fill="url(#g191)"/><rect x="2436" y="30" width="6" height="647" fill="url(#g192)"/><rect x="2442" y="30" width="6" height="647" fill="url(#g193)"/><rect x="2448" y="30" width="6" height="647" fill="url(#g194)"/><rect x="2454" y="30" width="6" height="647" fill="url(#g195)"/><rect x="2460" y="30" width="6" height="647" fill="url(#g196)"/><rect x="2466" y="30" width="6" height="647" fill="url(#g197)"/><rect x="2472" y="30" width="6" height="647" fill="url(#g198)"/><rect x="2478" y="30" width="6" height="647" fill="url(#g199)"/><rect x="2484" y="30" width="6" height="647" fill="url(#g200)"/><rect x="2490" y="30" width="6" height="647" fill="url(#g201)"/><rect x="2496" y="30" width="6" height="647" fill="url(#g202)"/><rect x="2502" y="30" width="6" height="647" fill="url(#g203)"/><rect x="2508" y="30" width="6" height="647" fill="url(#g204)"/><rect x="2514" y="30" width="6" height="647" fill="url(#g205)"/><rect x="2520" y="30" width="6" height="647" fill="url(#g206)"/><rect x="2526" y="30" width="6" height="647" fill="url(#g207)"/></g></g><g clip-path="url(#clipA)" fill="none"><polyline points="705.50,354.30 709.53,354.30 713.56,354.30 717.59,354.30 721.62,354.30 725.66,354.30 729.69,354.30 733.72,354.30 737.75,354.30 741.78,354.30 745.81,354.30 749.84,354.30 753.87,354.30 757.90,354.30 761.94,354.30 765.97,354.30 770.00,354.30 774.03,354.30 778.06,354.30 782.09,354.30 786.12,354.30 790.15,354.30 794.18,354.30 798.22,354.30 802.25,354.30 806.28,354.30 810.31,354.30 814.34,354.30 818.37,354.30 822.40,354.30 826.43,354.30 830.46,354.30 834.50,354.30 838.53,354.30 842.56,354.30 846.59,354.30 850.62,354.30 854.65,354.30 858.68,354.30 862.71,354.30 866.74,354.30 870.78,354.30 874.81,354.30 878.84,354.30 882.87,354.30 886.90,354.30 890.93,354.30 894.96,354.30 898.99,354.30 903.02,354.30 907.06,354.30 911.09,354.30 915.12,354.30 919.15,354.30 923.18,354.30 927.21,354.30 931.24,354.30 935.27,354.30 939.30,354.30 943.34,354.30 947.37,354.30 951.40,354.30 955.43,354.30 959.46,354.30 963.49,354.30 967.52,354.30 971.55,354.30 975.59,354.30 979.62,354.30 983.65,354.30 987.68,354.30 991.71,354.30 995.74,354.30 999.77,354.30 1003.80,354.30 1007.83,354.30 1011.87,354.30 1015.90,354.30 1019.93,354.30 1023.96,354.30 1027.99,354.30 1032.02,354.30 1036.05,354.30 1040.08,354.30 1044.11,354.30 1048.15,354.30 1052.18,354.31 1056.21,354.31 1060.24,354.31 1064.27,354.31 1068.30,354.31 1072.33,354.31 1076.36,354.31 1080.39,354.31 1084.43,354.31 1088.46,354.31 1092.49,354.31 1096.52,354.32 1100.55,354.32 1104.58,354.32 1108.61,354.32 1112.64,354.32 1116.67,354.32 1120.71,354.33 1124.74,354.33 1128.77,354.33 1132.80,354.34 1136.83,354.34 1140.86,354.34 1144.89,354.35 1148.92,354.35 1152.95,354.36 1156.99,354.36 1161.02,354.37 1165.05,354.37 1169.08,354.38 1173.11,354.39 1177.14,354.40 1181.17,354.41 1185.20,354.42 1189.23,354.43 1193.27,354.44 1197.30,354.45 1201.33,354.47 1205.36,354.48 1209.39,354.50 1213.42,354.52 1217.45,354.54 1221.48,354.56 1225.51,354.59 1229.55,354.62 1233.58,354.65 1237.61,354.68 1241.64,354.71 1245.67,354.75 1249.70,354.80 1253.73,354.84 1257.76,354.89 1261.79,354.95 1265.83,355.01 1269.86,355.08 1273.89,355.15 1277.92,355.23 1281.95,355.32 1285.98,355.41 1290.01,355.52 1294.04,355.63 1298.07,355.75 1302.11,355.89 1306.14,356.04 1310.17,356.20 1314.20,356.38 1318.23,356.57 1322.26,356.79 1326.29,357.02 1330.32,357.27 1334.35,357.55 1338.39,357.85 1342.42,358.18 1346.45,358.53 1350.48,358.93 1354.51,359.35 1358.54,359.82 1362.57,360.32 1366.60,360.87 1370.63,361.47 1374.67,362.12 1378.70,362.83 1382.73,363.60 1386.76,364.43 1390.79,365.34 1394.82,366.32 1398.85,367.38 1402.88,368.53 1406.91,369.77 1410.95,371.11 1414.98,372.56 1419.01,374.12 1423.04,375.79 1427.07,377.59 1431.10,379.51 1435.13,381.57 1439.16,383.76 1443.19,386.10 1447.23,388.58 1451.26,391.20 1455.29,393.98 1459.32,396.89 1463.35,399.95 1467.38,403.15 1471.41,406.47 1475.44,409.91 1479.48,413.46 1483.51,417.09 1487.54,420.78 1491.57,424.52 1495.60,428.28 1499.63,432.02 1503.66,435.71 1507.69,439.32 1511.72,442.81 1515.76,446.13 1519.79,449.25 1523.82,452.13 1527.85,454.73 1531.88,457.00 1535.91,458.93 1539.94,460.48 1543.97,461.62 1548.00,462.34 1552.04,462.63 1556.07,462.47 1560.10,461.88 1564.13,460.87 1568.16,459.44 1572.19,457.62 1576.22,455.44 1580.25,452.94 1584.28,450.14 1588.32,447.09 1592.35,443.82 1596.38,440.38 1600.41,436.80 1604.44,433.13 1608.47,429.40 1612.50,425.65 1616.53,421.90 1620.56,418.19 1624.60,414.54 1628.63,410.97 1632.66,407.49 1636.69,404.13 1640.72,400.90 1644.75,397.80 1648.78,394.84 1652.81,392.02 1656.84,389.35 1660.88,386.82 1664.91,384.45 1668.94,382.21 1672.97,380.11 1677.00,378.15 1681.03,376.31 1685.06,374.61 1689.09,373.01 1693.12,371.54 1697.16,370.16 1701.19,368.89 1705.22,367.72 1709.25,366.63 1713.28,365.62 1717.31,364.70 1721.34,363.84 1725.37,363.05 1729.40,362.33 1733.44,361.66 1737.47,361.05 1741.50,360.48 1745.53,359.96 1749.56,359.49 1753.59,359.05 1757.62,358.65 1761.65,358.28 1765.68,357.94 1769.72,357.63 1773.75,357.35 1777.78,357.09 1781.81,356.85 1785.84,356.64 1789.87,356.44 1793.90,356.25 1797.93,356.09 1801.96,355.93 1806.00,355.79 1810.03,355.67 1814.06,355.55 1818.09,355.44 1822.12,355.34 1826.15,355.25 1830.18,355.17 1834.21,355.10 1838.24,355.03 1842.28,354.97 1846.31,354.91 1850.34,354.86 1854.37,354.81 1858.40,354.76 1862.43,354.72 1866.46,354.69 1870.49,354.65 1874.52,354.62 1878.56,354.60 1882.59,354.57 1886.62,354.55 1890.65,354.53 1894.68,354.51 1898.71,354.49 1902.74,354.47 1906.77,354.46 1910.80,354.44 1914.84,354.43 1918.87,354.42 1922.90,354.41 1926.93,354.40 1930.96,354.39 1934.99,354.38 1939.02,354.38 1943.05,354.37 1947.08,354.36 1951.12,354.36 1955.15,354.35 1959.18,354.35 1963.21,354.34 1967.24,354.34 1971.27,354.34 1975.30,354.33 1979.33,354.33 1983.37,354.33 1987.40,354.33 1991.43,354.32 1995.46,354.32 1999.49,354.32 2003.52,354.32 2007.55,354.32 2011.58,354.31 2015.61,354.31 2019.65,354.31 2023.68,354.31 2027.71,354.31 2031.74,354.31 2035.77,354.31 2039.80,354.31 2043.83,354.31 2047.86,354.31 2051.89,354.31 2055.93,354.30 2059.96,354.30 2063.99,354.30 2068.02,354.30 2072.05,354.30 2076.08,354.30 2080.11,354.30 2084.14,354.30 2088.17,354.30 2092.21,354.30 2096.24,354.30 2100.27,354.30 2104.30,354.30 2108.33,354.30 2112.36,354.30 2116.39,354.30 2120.42,354.30 2124.45,354.30 2128.49,354.30 2132.52,354.30 2136.55,354.30 2140.58,354.30 2144.61,354.30 2148.64,354.30 2152.67,354.30 2156.70,354.30 2160.73,354.30 2164.77,354.30 2168.80,354.30 2172.83,354.30 2176.86,354.30 2180.89,354.30 2184.92,354.30 2188.95,354.30 2192.98,354.30 2197.01,354.30 2201.05,354.30 2205.08,354.30 2209.11,354.30 2213.14,354.30 2217.17,354.30 2221.20,354.30 2225.23,354.30 2229.26,354.30 2233.29,354.30 2237.33,354.30 2241.36,354.30 2245.39,354.30 2249.42,354.30 2253.45,354.30 2257.48,354.30 2261.51,354.30 2265.54,354.30 2269.57,354.30 2273.61,354.30 2277.64,354.30 2281.67,354.30 2285.70,354.30 2289.73,354.30 2293.76,354.30 2297.79,354.30 2301.82,354.30 2305.85,354.30 2309.89,354.30 2313.92,354.30 2317.95,354.30 2321.98,354.30 2326.01,354.30 2330.04,354.30 2334.07,354.30 2338.10,354.30 2342.13,354.30 2346.17,354.30 2350.20,354.30 2354.23,354.30 2358.26,354.30 2362.29,354.30 2366.32,354.30 2370.35,354.30 2374.38,354.30 2378.41,354.30 2382.45,354.30 2386.48,354.30 2390.51,354.30 2394.54,354.30 2398.57,354.30 2402.60,354.30 2406.63,354.30 2410.66,354.30 2414.69,354.30 2418.73,354.30 2422.76,354.30 2426.79,354.30 2430.82,354.30 2434.85,354.30 2438.88,354.30 2442.91,354.30 2446.94,354.30 2450.97,354.30 2455.01,354.30 2459.04,354.30 2463.07,354.30 2467.10,354.30 2471.13,354.30 2475.16,354.30 2479.19,354.30 2483.22,354.30 2487.26,354.30 2491.29,354.30 2495.32,354.30 2499.35,354.30 2503.38,354.30 2507.41,354.30 2511.44,354.30 2515.47,354.30 2519.50,354.30" stroke="#000" stroke-opacity="0.5" stroke-width="5" stroke-dasharray="26.5 16.24" stroke-dashoffset="-1.5"/><polyline points="705.50,462.63 709.53,462.63 713.56,462.63 717.59,462.63 721.62,462.63 725.66,462.63 729.69,462.63 733.72,462.63 737.75,462.63 741.78,462.63 745.81,462.63 749.84,462.63 753.87,462.63 757.90,462.63 761.94,462.63 765.97,462.63 770.00,462.63 774.03,462.63 778.06,462.63 782.09,462.63 786.12,462.63 790.15,462.63 794.18,462.63 798.22,462.63 802.25,462.63 806.28,462.63 810.31,462.63 814.34,462.63 818.37,462.63 822.40,462.63 826.43,462.63 830.46,462.63 834.50,462.63 838.53,462.63 842.56,462.63 846.59,462.63 850.62,462.63 854.65,462.63 858.68,462.63 862.71,462.63 866.74,462.63 870.78,462.63 874.81,462.63 878.84,462.63 882.87,462.63 886.90,462.63 890.93,462.63 894.96,462.63 898.99,462.63 903.02,462.63 907.06,462.63 911.09,462.63 915.12,462.63 919.15,462.63 923.18,462.63 927.21,462.63 931.24,462.63 935.27,462.63 939.30,462.63 943.34,462.63 947.37,462.63 951.40,462.63 955.43,462.63 959.46,462.63 963.49,462.63 967.52,462.63 971.55,462.63 975.59,462.63 979.62,462.63 983.65,462.63 987.68,462.63 991.71,462.63 995.74,462.63 999.77,462.63 1003.80,462.63 1007.83,462.63 1011.87,462.63 1015.90,462.63 1019.93,462.63 1023.96,462.64 1027.99,462.64 1032.02,462.64 1036.05,462.64 1040.08,462.64 1044.11,462.64 1048.15,462.64 1052.18,462.64 1056.21,462.64 1060.24,462.64 1064.27,462.64 1068.30,462.64 1072.33,462.64 1076.36,462.64 1080.39,462.64 1084.43,462.64 1088.46,462.65 1092.49,462.65 1096.52,462.65 1100.55,462.65 1104.58,462.65 1108.61,462.65 1112.64,462.66 1116.67,462.66 1120.71,462.66 1124.74,462.66 1128.77,462.67 1132.80,462.67 1136.83,462.67 1140.86,462.68 1144.89,462.68 1148.92,462.68 1152.95,462.69 1156.99,462.69 1161.02,462.70 1165.05,462.71 1169.08,462.71 1173.11,462.72 1177.14,462.73 1181.17,462.74 1185.20,462.75 1189.23,462.76 1193.27,462.77 1197.30,462.79 1201.33,462.80 1205.36,462.82 1209.39,462.83 1213.42,462.85 1217.45,462.87 1221.48,462.90 1225.51,462.92 1229.55,462.95 1233.58,462.98 1237.61,463.01 1241.64,463.05 1245.67,463.09 1249.70,463.13 1253.73,463.17 1257.76,463.23 1261.79,463.28 1265.83,463.34 1269.86,463.41 1273.89,463.48 1277.92,463.56 1281.95,463.65 1285.98,463.74 1290.01,463.85 1294.04,463.96 1298.07,464.09 1302.11,464.22 1306.14,464.37 1310.17,464.54 1314.20,464.71 1318.23,464.91 1322.26,465.12 1326.29,465.35 1330.32,465.60 1334.35,465.88 1338.39,466.18 1342.42,466.51 1346.45,466.87 1350.48,467.26 1354.51,467.68 1358.54,468.15 1362.57,468.65 1366.60,469.20 1370.63,469.80 1374.67,470.45 1378.70,471.16 1382.73,471.93 1386.76,472.77 1390.79,473.67 1394.82,474.65 1398.85,475.71 1402.88,476.86 1406.91,478.11 1410.95,479.45 1414.98,480.89 1419.01,482.45 1423.04,484.12 1427.07,485.92 1431.10,487.84 1435.13,489.90 1439.16,492.09 1443.19,494.43 1447.23,496.91 1451.26,499.54 1455.29,502.31 1459.32,505.23 1463.35,508.29 1467.38,511.48 1471.41,514.80 1475.44,518.25 1479.48,521.79 1483.51,525.42 1487.54,529.12 1491.57,532.86 1495.60,536.61 1499.63,540.35 1503.66,544.04 1507.69,547.65 1511.72,551.14 1515.76,554.46 1519.79,557.58 1523.82,560.46 1527.85,563.06 1531.88,565.34 1535.91,567.27 1539.94,568.81 1543.97,569.96 1548.00,570.67 1552.04,570.96 1556.07,570.81 1560.10,570.22 1564.13,569.20 1568.16,567.77 1572.19,565.95 1576.22,563.78 1580.25,561.27 1584.28,558.47 1588.32,555.42 1592.35,552.15 1596.38,548.71 1600.41,545.14 1604.44,541.47 1608.47,537.74 1612.50,533.98 1616.53,530.24 1620.56,526.52 1624.60,522.87 1628.63,519.30 1632.66,515.82 1636.69,512.46 1640.72,509.23 1644.75,506.13 1648.78,503.17 1652.81,500.35 1656.84,497.68 1660.88,495.16 1664.91,492.78 1668.94,490.54 1672.97,488.44 1677.00,486.48 1681.03,484.65 1685.06,482.94 1689.09,481.35 1693.12,479.87 1697.16,478.50 1701.19,477.23 1705.22,476.05 1709.25,474.96 1713.28,473.96 1717.31,473.03 1721.34,472.17 1725.37,471.39 1729.40,470.66 1733.44,469.99 1737.47,469.38 1741.50,468.81 1745.53,468.30 1749.56,467.82 1753.59,467.38 1757.62,466.98 1761.65,466.61 1765.68,466.28 1769.72,465.97 1773.75,465.68 1777.78,465.42 1781.81,465.19 1785.84,464.97 1789.87,464.77 1793.90,464.59 1797.93,464.42 1801.96,464.27 1806.00,464.13 1810.03,464.00 1814.06,463.88 1818.09,463.78 1822.12,463.68 1826.15,463.59 1830.18,463.51 1834.21,463.43 1838.24,463.36 1842.28,463.30 1846.31,463.24 1850.34,463.19 1854.37,463.14 1858.40,463.10 1862.43,463.06 1866.46,463.02 1870.49,462.99 1874.52,462.96 1878.56,462.93 1882.59,462.90 1886.62,462.88 1890.65,462.86 1894.68,462.84 1898.71,462.82 1902.74,462.81 1906.77,462.79 1910.80,462.78 1914.84,462.76 1918.87,462.75 1922.90,462.74 1926.93,462.73 1930.96,462.72 1934.99,462.72 1939.02,462.71 1943.05,462.70 1947.08,462.70 1951.12,462.69 1955.15,462.69 1959.18,462.68 1963.21,462.68 1967.24,462.67 1971.27,462.67 1975.30,462.67 1979.33,462.66 1983.37,462.66 1987.40,462.66 1991.43,462.66 1995.46,462.65 1999.49,462.65 2003.52,462.65 2007.55,462.65 2011.58,462.65 2015.61,462.65 2019.65,462.64 2023.68,462.64 2027.71,462.64 2031.74,462.64 2035.77,462.64 2039.80,462.64 2043.83,462.64 2047.86,462.64 2051.89,462.64 2055.93,462.64 2059.96,462.64 2063.99,462.64 2068.02,462.64 2072.05,462.64 2076.08,462.64 2080.11,462.64 2084.14,462.64 2088.17,462.63 2092.21,462.63 2096.24,462.63 2100.27,462.63 2104.30,462.63 2108.33,462.63 2112.36,462.63 2116.39,462.63 2120.42,462.63 2124.45,462.63 2128.49,462.63 2132.52,462.63 2136.55,462.63 2140.58,462.63 2144.61,462.63 2148.64,462.63 2152.67,462.63 2156.70,462.63 2160.73,462.63 2164.77,462.63 2168.80,462.63 2172.83,462.63 2176.86,462.63 2180.89,462.63 2184.92,462.63 2188.95,462.63 2192.98,462.63 2197.01,462.63 2201.05,462.63 2205.08,462.63 2209.11,462.63 2213.14,462.63 2217.17,462.63 2221.20,462.63 2225.23,462.63 2229.26,462.63 2233.29,462.63 2237.33,462.63 2241.36,462.63 2245.39,462.63 2249.42,462.63 2253.45,462.63 2257.48,462.63 2261.51,462.63 2265.54,462.63 2269.57,462.63 2273.61,462.63 2277.64,462.63 2281.67,462.63 2285.70,462.63 2289.73,462.63 2293.76,462.63 2297.79,462.63 2301.82,462.63 2305.85,462.63 2309.89,462.63 2313.92,462.63 2317.95,462.63 2321.98,462.63 2326.01,462.63 2330.04,462.63 2334.07,462.63 2338.10,462.63 2342.13,462.63 2346.17,462.63 2350.20,462.63 2354.23,462.63 2358.26,462.63 2362.29,462.63 2366.32,462.63 2370.35,462.63 2374.38,462.63 2378.41,462.63 2382.45,462.63 2386.48,462.63 2390.51,462.63 2394.54,462.63 2398.57,462.63 2402.60,462.63 2406.63,462.63 2410.66,462.63 2414.69,462.63 2418.73,462.63 2422.76,462.63 2426.79,462.63 2430.82,462.63 2434.85,462.63 2438.88,462.63 2442.91,462.63 2446.94,462.63 2450.97,462.63 2455.01,462.63 2459.04,462.63 2463.07,462.63 2467.10,462.63 2471.13,462.63 2475.16,462.63 2479.19,462.63 2483.22,462.63 2487.26,462.63 2491.29,462.63 2495.32,462.63 2499.35,462.63 2503.38,462.63 2507.41,462.63 2511.44,462.63 2515.47,462.63 2519.50,462.63" stroke="#000" stroke-opacity="0.72" stroke-width="2.6" stroke-dasharray="26.5 16.24" stroke-dashoffset="-1.5"/></g><g stroke="#000" stroke-width="2.8"><rect x="705.5" y="28.5" width="1814" height="650" fill="none" stroke="#000" stroke-width="3"/><line x1="707" y1="136.83" x2="719" y2="136.83"/><line x1="707" y1="245.17" x2="719" y2="245.17"/><line x1="707" y1="353.50" x2="719" y2="353.50"/><line x1="707" y1="461.83" x2="719" y2="461.83"/><line x1="707" y1="570.16" x2="719" y2="570.16"/><line x1="907.06" y1="666" x2="907.06" y2="677"/><line x1="1108.61" y1="666" x2="1108.61" y2="677"/><line x1="1310.17" y1="666" x2="1310.17" y2="677"/><line x1="1511.72" y1="666" x2="1511.72" y2="677"/><line x1="1713.28" y1="666" x2="1713.28" y2="677"/><line x1="1914.84" y1="666" x2="1914.84" y2="677"/><line x1="2116.39" y1="666" x2="2116.39" y2="677"/><line x1="2317.95" y1="666" x2="2317.95" y2="677"/></g><line x1="1596.6" y1="799.6" x2="1614.4" y2="754.0" stroke="#000" stroke-width="2.7" stroke-linecap="round"/><line x1="1596.6" y1="1627.6" x2="1614.4" y2="1582.0" stroke="#000" stroke-width="2.7" stroke-linecap="round"/><line x1="586.9" y1="371.1" x2="541.1" y2="352.9" stroke="#000" stroke-width="2.7" stroke-linecap="round"/><rect x="2597" y="48" width="26" height="612" fill="url(#cb)"/><rect x="2596" y="46.65" width="28.1" height="614.65" fill="none" stroke="#000" stroke-width="3.2"/><line x1="2610" y1="547.70" x2="2623" y2="547.70" stroke="#000" stroke-width="2.8"/><line x1="2610" y1="434.20" x2="2623" y2="434.20" stroke="#000" stroke-width="2.8"/><line x1="2610" y1="320.70" x2="2623" y2="320.70" stroke="#000" stroke-width="2.8"/><line x1="2610" y1="207.20" x2="2623" y2="207.20" stroke="#000" stroke-width="2.8"/><line x1="2610" y1="93.70" x2="2623" y2="93.70" stroke="#000" stroke-width="2.8"/><line x1="2818.7" y1="258.6" x2="2773" y2="239.4" stroke="#000" stroke-width="2.7" stroke-linecap="round"/><g fill="none" clip-path="url(#clipB)"><polyline points="705.5,913.00 708.5,913.00 711.5,913.00 714.5,913.00 717.5,913.00 720.5,913.00 723.5,913.00 726.5,913.00 729.5,913.00 732.5,913.00 735.5,913.00 738.5,913.00 741.5,913.00 744.5,913.00 747.5,913.00 750.5,913.00 753.5,913.00 756.5,913.00 759.5,913.00 762.5,913.00 765.5,913.00 768.5,913.00 771.5,913.00 774.5,913.00 777.5,913.00 780.5,913.00 783.5,913.00 786.5,913.00 789.5,913.00 792.5,913.00 795.5,913.00 798.5,913.00 801.5,913.00 804.5,913.00 807.5,913.00 810.5,913.00 813.5,913.00 816.5,913.00 819.5,913.00 822.5,913.00 825.5,913.00 828.5,913.00 831.5,913.00 834.5,913.00 837.5,913.00 840.5,913.00 843.5,913.00 846.5,913.00 849.5,913.00 852.5,913.00 855.5,913.00 858.5,913.00 861.5,913.00 864.5,913.00 867.5,913.00 870.5,913.00 873.5,913.00 876.5,913.00 879.5,913.00 882.5,913.00 885.5,913.00 888.5,913.00 891.5,913.00 894.5,913.00 897.5,913.00 900.5,913.00 903.5,913.00 906.5,913.00 909.5,913.01 912.5,913.01 915.5,913.01 918.5,913.01 921.5,913.01 924.5,913.01 927.5,913.01 930.5,913.01 933.5,913.01 936.5,913.01 939.5,913.01 942.5,913.01 945.5,913.01 948.5,913.01 951.5,913.01 954.5,913.01 957.5,913.01 960.5,913.01 963.5,913.01 966.5,913.01 969.5,913.01 972.5,913.01 975.5,913.01 978.5,913.01 981.5,913.01 984.5,913.01 987.5,913.01 990.5,913.01 993.5,913.01 996.5,913.01 999.5,913.01 1002.5,913.01 1005.5,913.01 1008.5,913.02 1011.5,913.02 1014.5,913.02 1017.5,913.02 1020.5,913.02 1023.5,913.02 1026.5,913.02 1029.5,913.02 1032.5,913.02 1035.5,913.02 1038.5,913.02 1041.5,913.02 1044.5,913.02 1047.5,913.02 1050.5,913.02 1053.5,913.02 1056.5,913.02 1059.5,913.02 1062.5,913.02 1065.5,913.02 1068.5,913.03 1071.5,913.03 1074.5,913.03 1077.5,913.03 1080.5,913.03 1083.5,913.03 1086.5,913.03 1089.5,913.03 1092.5,913.03 1095.5,913.03 1098.5,913.03 1101.5,913.03 1104.5,913.03 1107.5,913.03 1110.5,913.03 1113.5,913.04 1116.5,913.04 1119.5,913.04 1122.5,913.04 1125.5,913.04 1128.5,913.04 1131.5,913.04 1134.5,913.04 1137.5,913.04 1140.5,913.04 1143.5,913.04 1146.5,913.04 1149.5,913.05 1152.5,913.05 1155.5,913.05 1158.5,913.05 1161.5,913.05 1164.5,913.05 1167.5,913.05 1170.5,913.05 1173.5,913.05 1176.5,913.05 1179.5,913.05 1182.5,913.06 1185.5,913.06 1188.5,913.06 1191.5,913.06 1194.5,913.06 1197.5,913.06 1200.5,913.06 1203.5,913.06 1206.5,913.06 1209.5,913.06 1212.5,913.07 1215.5,913.07 1218.5,913.07 1221.5,913.07 1224.5,913.07 1227.5,913.07 1230.5,913.07 1233.5,913.07 1236.5,913.08 1239.5,913.08 1242.5,913.08 1245.5,913.08 1248.5,913.08 1251.5,913.08 1254.5,913.08 1257.5,913.08 1260.5,913.09 1263.5,913.09 1266.5,913.09 1269.5,913.09 1272.5,913.09 1275.5,913.09 1278.5,913.09 1281.5,913.10 1284.5,913.10 1287.5,913.10 1290.5,913.10 1293.5,913.10 1296.5,913.10 1299.5,913.10 1302.5,913.11 1305.5,913.11 1308.5,913.11 1311.5,913.11 1314.5,913.11 1317.5,913.11 1320.5,913.12 1323.5,913.12 1326.5,913.12 1329.5,913.12 1332.5,913.12 1335.5,913.12 1338.5,913.13 1341.5,913.13 1344.5,913.13 1347.5,913.13 1350.5,913.13 1353.5,913.13 1356.5,913.14 1359.5,913.14 1362.5,913.14 1365.5,913.14 1368.5,913.14 1371.5,913.15 1374.5,913.15 1377.5,913.15 1380.5,913.15 1383.5,913.15 1386.5,913.15 1389.5,913.16 1392.5,913.16 1395.5,913.16 1398.5,913.16 1401.5,913.17 1404.5,913.17 1407.5,913.17 1410.5,913.17 1413.5,913.17 1416.5,913.18 1419.5,913.18 1422.5,913.18 1425.5,913.18 1428.5,913.18 1431.5,913.19 1434.5,913.19 1437.5,913.19 1440.5,913.19 1443.5,913.20 1446.5,913.20 1449.5,913.20 1452.5,913.27 1455.5,913.39 1458.5,913.55 1461.5,913.68 1464.5,913.79 1467.5,913.89 1470.5,913.99 1473.5,914.09 1476.5,914.19 1479.5,914.28 1482.5,914.38 1485.5,914.47 1488.5,914.56 1491.5,914.65 1494.5,914.74 1497.5,914.84 1500.5,914.95 1503.5,915.06 1506.5,915.16 1509.5,915.25 1512.5,915.34 1515.5,915.41 1518.5,915.46 1521.5,915.49 1524.5,915.50 1527.5,915.48 1530.5,915.44 1533.5,915.38 1536.5,915.31 1539.5,915.23 1542.5,915.16 1545.5,915.08 1548.5,915.02 1551.5,914.98 1554.5,914.93 1557.5,914.88 1560.5,914.84 1563.5,914.80 1566.5,914.77 1569.5,914.75 1572.5,914.75 1575.5,914.76 1578.5,914.79 1581.5,914.82 1584.5,914.86 1587.5,914.91 1590.5,914.96 1593.5,915.02 1596.5,915.08 1599.5,915.15 1602.5,915.21 1605.5,915.29 1608.5,915.39 1611.5,915.50 1614.5,915.63 1617.5,915.77 1620.5,915.92 1623.5,916.08 1626.5,916.25 1629.5,916.42 1632.5,916.59 1635.5,916.76 1638.5,916.92 1641.5,917.08 1644.5,917.23 1647.5,917.38 1650.5,917.51 1653.5,917.66 1656.5,917.80 1659.5,917.94 1662.5,918.09 1665.5,918.24 1668.5,918.38 1671.5,918.52 1674.5,918.66 1677.5,918.79 1680.5,918.92 1683.5,919.03 1686.5,919.14 1689.5,919.25 1692.5,919.33 1695.5,919.41 1698.5,919.48 1701.5,919.55 1704.5,919.61 1707.5,919.67 1710.5,919.72 1713.5,919.77 1716.5,919.82 1719.5,919.87 1722.5,919.92 1725.5,919.96 1728.5,920.01 1731.5,920.05 1734.5,920.09 1737.5,920.14 1740.5,920.18 1743.5,920.23 1746.5,920.28 1749.5,920.32 1752.5,920.37 1755.5,920.42 1758.5,920.47 1761.5,920.51 1764.5,920.56 1767.5,920.61 1770.5,920.65 1773.5,920.69 1776.5,920.74 1779.5,920.78 1782.5,920.82 1785.5,920.85 1788.5,920.89 1791.5,920.92 1794.5,920.95 1797.5,920.98 1800.5,921.00 1803.5,921.03 1806.5,921.05 1809.5,921.07 1812.5,921.10 1815.5,921.12 1818.5,921.14 1821.5,921.15 1824.5,921.17 1827.5,921.18 1830.5,921.19 1833.5,921.20 1836.5,921.20 1839.5,921.20 1842.5,921.21 1845.5,921.21 1848.5,921.21 1851.5,921.22 1854.5,921.22 1857.5,921.22 1860.5,921.23 1863.5,921.23 1866.5,921.23 1869.5,921.24 1872.5,921.24 1875.5,921.24 1878.5,921.25 1881.5,921.25 1884.5,921.25 1887.5,921.25 1890.5,921.26 1893.5,921.26 1896.5,921.26 1899.5,921.27 1902.5,921.27 1905.5,921.27 1908.5,921.27 1911.5,921.28 1914.5,921.28 1917.5,921.28 1920.5,921.28 1923.5,921.29 1926.5,921.29 1929.5,921.29 1932.5,921.30 1935.5,921.30 1938.5,921.30 1941.5,921.30 1944.5,921.31 1947.5,921.31 1950.5,921.31 1953.5,921.31 1956.5,921.32 1959.5,921.32 1962.5,921.32 1965.5,921.32 1968.5,921.32 1971.5,921.33 1974.5,921.33 1977.5,921.33 1980.5,921.33 1983.5,921.34 1986.5,921.34 1989.5,921.34 1992.5,921.34 1995.5,921.34 1998.5,921.35 2001.5,921.35 2004.5,921.35 2007.5,921.35 2010.5,921.36 2013.5,921.36 2016.5,921.36 2019.5,921.36 2022.5,921.36 2025.5,921.37 2028.5,921.37 2031.5,921.37 2034.5,921.37 2037.5,921.37 2040.5,921.38 2043.5,921.38 2046.5,921.38 2049.5,921.38 2052.5,921.38 2055.5,921.38 2058.5,921.39 2061.5,921.39 2064.5,921.39 2067.5,921.39 2070.5,921.39 2073.5,921.39 2076.5,921.40 2079.5,921.40 2082.5,921.40 2085.5,921.40 2088.5,921.40 2091.5,921.40 2094.5,921.41 2097.5,921.41 2100.5,921.41 2103.5,921.41 2106.5,921.41 2109.5,921.41 2112.5,921.42 2115.5,921.42 2118.5,921.42 2121.5,921.42 2124.5,921.42 2127.5,921.42 2130.5,921.42 2133.5,921.43 2136.5,921.43 2139.5,921.43 2142.5,921.43 2145.5,921.43 2148.5,921.43 2151.5,921.43 2154.5,921.43 2157.5,921.44 2160.5,921.44 2163.5,921.44 2166.5,921.44 2169.5,921.44 2172.5,921.44 2175.5,921.44 2178.5,921.44 2181.5,921.45 2184.5,921.45 2187.5,921.45 2190.5,921.45 2193.5,921.45 2196.5,921.45 2199.5,921.45 2202.5,921.45 2205.5,921.45 2208.5,921.46 2211.5,921.46 2214.5,921.46 2217.5,921.46 2220.5,921.46 2223.5,921.46 2226.5,921.46 2229.5,921.46 2232.5,921.46 2235.5,921.46 2238.5,921.46 2241.5,921.47 2244.5,921.47 2247.5,921.47 2250.5,921.47 2253.5,921.47 2256.5,921.47 2259.5,921.47 2262.5,921.47 2265.5,921.47 2268.5,921.47 2271.5,921.47 2274.5,921.47 2277.5,921.47 2280.5,921.48 2283.5,921.48 2286.5,921.48 2289.5,921.48 2292.5,921.48 2295.5,921.48 2298.5,921.48 2301.5,921.48 2304.5,921.48 2307.5,921.48 2310.5,921.48 2313.5,921.48 2316.5,921.48 2319.5,921.48 2322.5,921.48 2325.5,921.48 2328.5,921.49 2331.5,921.49 2334.5,921.49 2337.5,921.49 2340.5,921.49 2343.5,921.49 2346.5,921.49 2349.5,921.49 2352.5,921.49 2355.5,921.49 2358.5,921.49 2361.5,921.49 2364.5,921.49 2367.5,921.49 2370.5,921.49 2373.5,921.49 2376.5,921.49 2379.5,921.49 2382.5,921.49 2385.5,921.49 2388.5,921.49 2391.5,921.49 2394.5,921.49 2397.5,921.49 2400.5,921.49 2403.5,921.49 2406.5,921.50 2409.5,921.50 2412.5,921.50 2415.5,921.50 2418.5,921.50 2421.5,921.50 2424.5,921.50 2427.5,921.50 2430.5,921.50 2433.5,921.50 2436.5,921.50 2439.5,921.50 2442.5,921.50 2445.5,921.50 2448.5,921.50 2451.5,921.50 2454.5,921.50 2457.5,921.50 2460.5,921.50 2463.5,921.50 2466.5,921.50 2469.5,921.50 2472.5,921.50 2475.5,921.50 2478.5,921.50 2481.5,921.50 2484.5,921.50 2487.5,921.50 2490.5,921.50 2493.5,921.50 2496.5,921.50 2499.5,921.50 2502.5,921.50 2505.5,921.50 2508.5,921.50 2511.5,921.50 2514.5,921.50 2517.5,921.50" stroke="#ff0000" stroke-width="6"/><polyline points="705.5,1504.03 709.5,1504.02 713.6,1504.02 717.6,1504.02 721.6,1504.02 725.7,1504.02 729.7,1504.02 733.7,1504.02 737.7,1504.02 741.8,1504.02 745.8,1504.02 749.8,1504.02 753.9,1504.02 757.9,1504.02 761.9,1504.02 766.0,1504.02 770.0,1504.02 774.0,1504.02 778.1,1504.02 782.1,1504.02 786.1,1504.02 790.2,1504.02 794.2,1504.01 798.2,1504.01 802.2,1504.01 806.3,1504.01 810.3,1504.01 814.3,1504.01 818.4,1504.01 822.4,1504.01 826.4,1504.00 830.5,1504.00 834.5,1504.00 838.5,1504.00 842.6,1504.00 846.6,1503.99 850.6,1503.99 854.7,1503.99 858.7,1503.99 862.7,1503.99 866.7,1503.98 870.8,1503.98 874.8,1503.98 878.8,1503.97 882.9,1503.97 886.9,1503.97 890.9,1503.97 895.0,1503.96 899.0,1503.96 903.0,1503.96 907.1,1503.95 911.1,1503.95 915.1,1503.95 919.1,1503.94 923.2,1503.94 927.2,1503.93 931.2,1503.93 935.3,1503.93 939.3,1503.92 943.3,1503.92 947.4,1503.91 951.4,1503.91 955.4,1503.90 959.5,1503.90 963.5,1503.89 967.5,1503.89 971.6,1503.88 975.6,1503.88 979.6,1503.87 983.6,1503.87 987.7,1503.86 991.7,1503.85 995.7,1503.85 999.8,1503.84 1003.8,1503.84 1007.8,1503.83 1011.9,1503.82 1015.9,1503.82 1019.9,1503.81 1024.0,1503.80 1028.0,1503.79 1032.0,1503.79 1036.1,1503.78 1040.1,1503.77 1044.1,1503.76 1048.1,1503.76 1052.2,1503.75 1056.2,1503.74 1060.2,1503.73 1064.3,1503.72 1068.3,1503.71 1072.3,1503.70 1076.4,1503.70 1080.4,1503.69 1084.4,1503.68 1088.5,1503.67 1092.5,1503.66 1096.5,1503.65 1100.5,1503.64 1104.6,1503.63 1108.6,1503.62 1112.6,1503.61 1116.7,1503.60 1120.7,1503.58 1124.7,1503.57 1128.8,1503.56 1132.8,1503.55 1136.8,1503.54 1140.9,1503.53 1144.9,1503.51 1148.9,1503.50 1153.0,1503.49 1157.0,1503.48 1161.0,1503.46 1165.0,1503.45 1169.1,1503.44 1173.1,1503.42 1177.1,1503.41 1181.2,1503.40 1185.2,1503.38 1189.2,1503.37 1193.3,1503.35 1197.3,1503.34 1201.3,1503.32 1205.4,1503.31 1209.4,1503.29 1213.4,1503.28 1217.5,1503.26 1221.5,1503.25 1225.5,1503.23 1229.5,1503.21 1233.6,1503.20 1237.6,1503.18 1241.6,1503.16 1245.7,1503.14 1249.7,1503.13 1253.7,1503.11 1257.8,1503.09 1261.8,1503.07 1265.8,1503.05 1269.9,1503.04 1273.9,1503.02 1277.9,1503.00 1282.0,1502.98 1286.0,1502.96 1290.0,1502.94 1294.0,1502.92 1298.1,1502.90 1302.1,1502.88 1306.1,1502.86 1310.2,1502.84 1314.2,1502.76 1318.2,1502.60 1322.3,1502.35 1326.3,1502.04 1330.3,1501.68 1334.4,1501.27 1338.4,1500.84 1342.4,1500.39 1346.4,1499.95 1350.5,1499.51 1354.5,1499.11 1358.5,1498.74 1362.6,1498.40 1366.6,1498.08 1370.6,1497.77 1374.7,1497.47 1378.7,1497.15 1382.7,1496.82 1386.8,1496.47 1390.8,1496.08 1394.8,1495.66 1398.9,1495.18 1402.9,1494.64 1406.9,1493.96 1410.9,1493.15 1415.0,1492.24 1419.0,1491.24 1423.0,1490.17 1427.1,1489.06 1431.1,1487.91 1435.1,1486.76 1439.2,1485.62 1443.2,1484.48 1447.2,1483.29 1451.3,1482.05 1455.3,1480.77 1459.3,1479.45 1463.4,1478.11 1467.4,1476.76 1471.4,1475.40 1475.4,1474.06 1479.5,1472.73 1483.5,1471.40 1487.5,1469.95 1491.6,1468.40 1495.6,1466.82 1499.6,1465.25 1503.7,1463.75 1507.7,1462.37 1511.7,1461.18 1515.8,1460.23 1519.8,1459.57 1523.8,1459.11 1527.8,1458.68 1531.9,1458.28 1535.9,1457.91 1539.9,1457.57 1544.0,1457.28 1548.0,1457.03 1552.0,1456.84 1556.1,1456.70 1560.1,1456.62 1564.1,1456.62 1568.2,1456.82 1572.2,1457.24 1576.2,1457.82 1580.3,1458.51 1584.3,1459.27 1588.3,1460.05 1592.3,1460.79 1596.4,1461.44 1600.4,1461.96 1604.4,1462.29 1608.5,1462.43 1612.5,1462.52 1616.5,1462.61 1620.6,1462.69 1624.6,1462.76 1628.6,1462.82 1632.7,1462.87 1636.7,1462.91 1640.7,1462.94 1644.8,1462.96 1648.8,1462.97 1652.8,1462.81 1656.8,1462.36 1660.9,1461.67 1664.9,1460.81 1668.9,1459.81 1673.0,1458.75 1677.0,1457.66 1681.0,1456.61 1685.1,1455.64 1689.1,1454.82 1693.1,1454.07 1697.2,1453.31 1701.2,1452.54 1705.2,1451.78 1709.2,1451.04 1713.3,1450.33 1717.3,1449.66 1721.3,1449.04 1725.4,1448.48 1729.4,1448.01 1733.4,1447.60 1737.5,1447.23 1741.5,1446.88 1745.5,1446.55 1749.6,1446.24 1753.6,1445.95 1757.6,1445.69 1761.7,1445.45 1765.7,1445.24 1769.7,1445.05 1773.7,1444.88 1777.8,1444.73 1781.8,1444.59 1785.8,1444.46 1789.9,1444.34 1793.9,1444.23 1797.9,1444.13 1802.0,1444.05 1806.0,1443.98 1810.0,1443.93 1814.1,1443.89 1818.1,1443.85 1822.1,1443.81 1826.2,1443.77 1830.2,1443.74 1834.2,1443.71 1838.2,1443.67 1842.3,1443.64 1846.3,1443.61 1850.3,1443.59 1854.4,1443.56 1858.4,1443.53 1862.4,1443.51 1866.5,1443.49 1870.5,1443.47 1874.5,1443.45 1878.6,1443.43 1882.6,1443.42 1886.6,1443.40 1890.6,1443.39 1894.7,1443.37 1898.7,1443.36 1902.7,1443.35 1906.8,1443.35 1910.8,1443.34 1914.8,1443.34 1918.9,1443.33 1922.9,1443.33 1926.9,1443.32 1931.0,1443.32 1935.0,1443.31 1939.0,1443.31 1943.1,1443.30 1947.1,1443.30 1951.1,1443.30 1955.1,1443.29 1959.2,1443.29 1963.2,1443.28 1967.2,1443.28 1971.3,1443.28 1975.3,1443.27 1979.3,1443.27 1983.4,1443.26 1987.4,1443.26 1991.4,1443.26 1995.5,1443.25 1999.5,1443.25 2003.5,1443.24 2007.6,1443.24 2011.6,1443.24 2015.6,1443.23 2019.6,1443.23 2023.7,1443.23 2027.7,1443.22 2031.7,1443.22 2035.8,1443.22 2039.8,1443.21 2043.8,1443.21 2047.9,1443.21 2051.9,1443.20 2055.9,1443.20 2060.0,1443.20 2064.0,1443.19 2068.0,1443.19 2072.0,1443.19 2076.1,1443.18 2080.1,1443.18 2084.1,1443.18 2088.2,1443.18 2092.2,1443.17 2096.2,1443.17 2100.3,1443.17 2104.3,1443.16 2108.3,1443.16 2112.4,1443.16 2116.4,1443.16 2120.4,1443.15 2124.5,1443.15 2128.5,1443.15 2132.5,1443.15 2136.5,1443.14 2140.6,1443.14 2144.6,1443.14 2148.6,1443.14 2152.7,1443.13 2156.7,1443.13 2160.7,1443.13 2164.8,1443.13 2168.8,1443.13 2172.8,1443.12 2176.9,1443.12 2180.9,1443.12 2184.9,1443.12 2189.0,1443.11 2193.0,1443.11 2197.0,1443.11 2201.0,1443.11 2205.1,1443.11 2209.1,1443.10 2213.1,1443.10 2217.2,1443.10 2221.2,1443.10 2225.2,1443.10 2229.3,1443.10 2233.3,1443.09 2237.3,1443.09 2241.4,1443.09 2245.4,1443.09 2249.4,1443.09 2253.5,1443.09 2257.5,1443.08 2261.5,1443.08 2265.5,1443.08 2269.6,1443.08 2273.6,1443.08 2277.6,1443.08 2281.7,1443.08 2285.7,1443.07 2289.7,1443.07 2293.8,1443.07 2297.8,1443.07 2301.8,1443.07 2305.9,1443.07 2309.9,1443.07 2313.9,1443.07 2317.9,1443.06 2322.0,1443.06 2326.0,1443.06 2330.0,1443.06 2334.1,1443.06 2338.1,1443.06 2342.1,1443.06 2346.2,1443.06 2350.2,1443.06 2354.2,1443.05 2358.3,1443.05 2362.3,1443.05 2366.3,1443.05 2370.4,1443.05 2374.4,1443.05 2378.4,1443.05 2382.4,1443.05 2386.5,1443.05 2390.5,1443.05 2394.5,1443.05 2398.6,1443.05 2402.6,1443.05 2406.6,1443.05 2410.7,1443.04 2414.7,1443.04 2418.7,1443.04 2422.8,1443.04 2426.8,1443.04 2430.8,1443.04 2434.9,1443.04 2438.9,1443.04 2442.9,1443.04 2446.9,1443.04 2451.0,1443.04 2455.0,1443.04 2459.0,1443.04 2463.1,1443.04 2467.1,1443.04 2471.1,1443.04 2475.2,1443.04 2479.2,1443.04 2483.2,1443.04 2487.3,1443.04 2491.3,1443.04 2495.3,1443.04 2499.3,1443.04 2503.4,1443.04 2507.4,1443.04 2511.4,1443.04 2515.5,1443.04 2519.5,1443.04" stroke="#0000ff" stroke-width="6.2" stroke-dasharray="21.4 21.1"/><polyline points="705.5,1501.53 709.5,1501.53 713.6,1501.53 717.6,1501.53 721.6,1501.53 725.7,1501.53 729.7,1501.53 733.7,1501.53 737.7,1501.53 741.8,1501.53 745.8,1501.53 749.8,1501.53 753.9,1501.53 757.9,1501.53 761.9,1501.53 766.0,1501.53 770.0,1501.53 774.0,1501.53 778.1,1501.53 782.1,1501.53 786.1,1501.53 790.2,1501.53 794.2,1501.53 798.2,1501.52 802.2,1501.52 806.3,1501.52 810.3,1501.52 814.3,1501.52 818.4,1501.52 822.4,1501.52 826.4,1501.52 830.5,1501.52 834.5,1501.52 838.5,1501.52 842.6,1501.52 846.6,1501.52 850.6,1501.52 854.7,1501.52 858.7,1501.52 862.7,1501.52 866.7,1501.52 870.8,1501.52 874.8,1501.52 878.8,1501.52 882.9,1501.52 886.9,1501.52 890.9,1501.52 895.0,1501.52 899.0,1501.52 903.0,1501.52 907.1,1501.52 911.1,1501.52 915.1,1501.52 919.1,1501.52 923.2,1501.52 927.2,1501.52 931.2,1501.52 935.3,1501.52 939.3,1501.52 943.3,1501.51 947.4,1501.51 951.4,1501.51 955.4,1501.51 959.5,1501.51 963.5,1501.51 967.5,1501.51 971.6,1501.51 975.6,1501.51 979.6,1501.51 983.6,1501.51 987.7,1501.51 991.7,1501.51 995.7,1501.51 999.8,1501.51 1003.8,1501.51 1007.8,1501.50 1011.9,1501.50 1015.9,1501.50 1019.9,1501.50 1024.0,1501.50 1028.0,1501.50 1032.0,1501.50 1036.1,1501.50 1040.1,1501.50 1044.1,1501.50 1048.1,1501.50 1052.2,1501.49 1056.2,1501.49 1060.2,1501.49 1064.3,1501.49 1068.3,1501.49 1072.3,1501.49 1076.4,1501.49 1080.4,1501.49 1084.4,1501.49 1088.5,1501.48 1092.5,1501.48 1096.5,1501.48 1100.5,1501.48 1104.6,1501.48 1108.6,1501.48 1112.6,1501.48 1116.7,1501.48 1120.7,1501.47 1124.7,1501.47 1128.8,1501.47 1132.8,1501.47 1136.8,1501.47 1140.9,1501.47 1144.9,1501.47 1148.9,1501.46 1153.0,1501.46 1157.0,1501.46 1161.0,1501.46 1165.0,1501.46 1169.1,1501.46 1173.1,1501.45 1177.1,1501.45 1181.2,1501.45 1185.2,1501.45 1189.2,1501.45 1193.3,1501.45 1197.3,1501.44 1201.3,1501.44 1205.4,1501.44 1209.4,1501.44 1213.4,1501.44 1217.5,1501.43 1221.5,1501.43 1225.5,1501.43 1229.5,1501.43 1233.6,1501.42 1237.6,1501.42 1241.6,1501.42 1245.7,1501.42 1249.7,1501.42 1253.7,1501.41 1257.8,1501.41 1261.8,1501.41 1265.8,1501.41 1269.9,1501.40 1273.9,1501.40 1277.9,1501.40 1282.0,1501.40 1286.0,1501.39 1290.0,1501.39 1294.0,1501.39 1298.1,1501.39 1302.1,1501.38 1306.1,1501.38 1310.2,1501.38 1314.2,1501.37 1318.2,1501.37 1322.3,1501.37 1326.3,1501.37 1330.3,1501.36 1334.4,1501.36 1338.4,1501.36 1342.4,1501.35 1346.4,1501.35 1350.5,1501.35 1354.5,1501.29 1358.5,1501.15 1362.6,1500.94 1366.6,1500.68 1370.6,1500.40 1374.7,1500.12 1378.7,1499.86 1382.7,1499.63 1386.8,1499.40 1390.8,1499.18 1394.8,1498.96 1398.9,1498.72 1402.9,1498.46 1406.9,1498.18 1410.9,1497.86 1415.0,1497.51 1419.0,1497.11 1423.0,1496.62 1427.1,1495.93 1431.1,1495.05 1435.1,1494.05 1439.2,1493.00 1443.2,1491.95 1447.2,1490.81 1451.3,1489.58 1455.3,1488.27 1459.3,1486.89 1463.4,1485.43 1467.4,1483.83 1471.4,1482.12 1475.4,1480.37 1479.5,1478.66 1483.5,1477.04 1487.5,1475.44 1491.6,1473.86 1495.6,1472.32 1499.6,1470.83 1503.7,1469.40 1507.7,1467.97 1511.7,1466.59 1515.8,1465.30 1519.8,1464.16 1523.8,1463.04 1527.8,1461.88 1531.9,1460.80 1535.9,1459.96 1539.9,1459.47 1544.0,1459.40 1548.0,1459.40 1552.0,1459.40 1556.1,1459.40 1560.1,1459.40 1564.1,1459.41 1568.2,1459.51 1572.2,1459.66 1576.2,1459.82 1580.3,1459.94 1584.3,1459.99 1588.3,1459.93 1592.3,1459.75 1596.4,1459.48 1600.4,1459.13 1604.4,1458.72 1608.5,1458.23 1612.5,1457.37 1616.5,1456.22 1620.6,1454.90 1624.6,1453.52 1628.6,1452.17 1632.7,1450.67 1636.7,1449.06 1640.7,1447.43 1644.8,1445.85 1648.8,1444.41 1652.8,1442.99 1656.8,1441.62 1660.9,1440.33 1664.9,1439.17 1668.9,1438.12 1673.0,1437.12 1677.0,1436.20 1681.0,1435.35 1685.1,1434.59 1689.1,1433.89 1693.1,1433.20 1697.2,1432.57 1701.2,1432.02 1705.2,1431.59 1709.2,1431.30 1713.3,1431.05 1717.3,1430.84 1721.3,1430.67 1725.4,1430.53 1729.4,1430.42 1733.4,1430.34 1737.5,1430.27 1741.5,1430.20 1745.5,1430.13 1749.6,1430.07 1753.6,1430.02 1757.6,1429.97 1761.7,1429.94 1765.7,1429.91 1769.7,1429.89 1773.7,1429.89 1777.8,1429.89 1781.8,1429.89 1785.8,1429.89 1789.9,1429.89 1793.9,1429.89 1797.9,1429.89 1802.0,1429.89 1806.0,1429.89 1810.0,1429.89 1814.1,1429.89 1818.1,1429.89 1822.1,1429.89 1826.2,1429.89 1830.2,1429.89 1834.2,1429.89 1838.2,1429.89 1842.3,1429.89 1846.3,1429.89 1850.3,1429.89 1854.4,1429.89 1858.4,1429.89 1862.4,1429.89 1866.5,1429.89 1870.5,1429.89 1874.5,1429.89 1878.6,1429.89 1882.6,1429.89 1886.6,1429.89 1890.6,1429.89 1894.7,1429.89 1898.7,1429.89 1902.7,1429.89 1906.8,1429.89 1910.8,1429.89 1914.8,1429.89 1918.9,1429.89 1922.9,1429.89 1926.9,1429.89 1931.0,1429.89 1935.0,1429.89 1939.0,1429.89 1943.1,1429.89 1947.1,1429.89 1951.1,1429.89 1955.1,1429.89 1959.2,1429.89 1963.2,1429.89 1967.2,1429.89 1971.3,1429.89 1975.3,1429.89 1979.3,1429.89 1983.4,1429.89 1987.4,1429.89 1991.4,1429.89 1995.5,1429.89 1999.5,1429.89 2003.5,1429.89 2007.6,1429.89 2011.6,1429.89 2015.6,1429.89 2019.6,1429.89 2023.7,1429.89 2027.7,1429.89 2031.7,1429.89 2035.8,1429.89 2039.8,1429.89 2043.8,1429.89 2047.9,1429.89 2051.9,1429.89 2055.9,1429.89 2060.0,1429.89 2064.0,1429.89 2068.0,1429.89 2072.0,1429.89 2076.1,1429.89 2080.1,1429.89 2084.1,1429.89 2088.2,1429.89 2092.2,1429.89 2096.2,1429.89 2100.3,1429.89 2104.3,1429.89 2108.3,1429.89 2112.4,1429.89 2116.4,1429.89 2120.4,1429.89 2124.5,1429.89 2128.5,1429.89 2132.5,1429.89 2136.5,1429.89 2140.6,1429.89 2144.6,1429.89 2148.6,1429.89 2152.7,1429.89 2156.7,1429.89 2160.7,1429.89 2164.8,1429.89 2168.8,1429.89 2172.8,1429.89 2176.9,1429.89 2180.9,1429.89 2184.9,1429.89 2189.0,1429.89 2193.0,1429.89 2197.0,1429.89 2201.0,1429.89 2205.1,1429.89 2209.1,1429.89 2213.1,1429.89 2217.2,1429.89 2221.2,1429.89 2225.2,1429.89 2229.3,1429.89 2233.3,1429.89 2237.3,1429.89 2241.4,1429.89 2245.4,1429.89 2249.4,1429.89 2253.5,1429.89 2257.5,1429.89 2261.5,1429.89 2265.5,1429.89 2269.6,1429.89 2273.6,1429.89 2277.6,1429.89 2281.7,1429.89 2285.7,1429.89 2289.7,1429.89 2293.8,1429.89 2297.8,1429.89 2301.8,1429.89 2305.9,1429.89 2309.9,1429.89 2313.9,1429.89 2317.9,1429.89 2322.0,1429.89 2326.0,1429.89 2330.0,1429.89 2334.1,1429.89 2338.1,1429.89 2342.1,1429.89 2346.2,1429.89 2350.2,1429.89 2354.2,1429.89 2358.3,1429.89 2362.3,1429.89 2366.3,1429.89 2370.4,1429.89 2374.4,1429.89 2378.4,1429.89 2382.4,1429.89 2386.5,1429.89 2390.5,1429.89 2394.5,1429.89 2398.6,1429.89 2402.6,1429.89 2406.6,1429.89 2410.7,1429.89 2414.7,1429.89 2418.7,1429.89 2422.8,1429.89 2426.8,1429.89 2430.8,1429.89 2434.9,1429.89 2438.9,1429.89 2442.9,1429.89 2446.9,1429.89 2451.0,1429.89 2455.0,1429.89 2459.0,1429.89 2463.1,1429.89 2467.1,1429.89 2471.1,1429.89 2475.2,1429.89 2479.2,1429.89 2483.2,1429.89 2487.3,1429.89 2491.3,1429.89 2495.3,1429.89 2499.3,1429.89 2503.4,1429.89 2507.4,1429.89 2511.4,1429.89 2515.5,1429.89 2519.5,1429.89" stroke="#808080" stroke-width="6" stroke-dasharray="20.8 5.5 10.8 5.5"/><polyline points="705.5,1502.72 709.5,1502.72 713.6,1502.72 717.6,1502.72 721.6,1502.72 725.7,1502.72 729.7,1502.72 733.7,1502.72 737.7,1502.72 741.8,1502.72 745.8,1502.72 749.8,1502.72 753.9,1502.72 757.9,1502.72 761.9,1502.72 766.0,1502.72 770.0,1502.72 774.0,1502.72 778.1,1502.72 782.1,1502.72 786.1,1502.72 790.2,1502.72 794.2,1502.72 798.2,1502.72 802.2,1502.72 806.3,1502.72 810.3,1502.72 814.3,1502.72 818.4,1502.72 822.4,1502.71 826.4,1502.71 830.5,1502.71 834.5,1502.71 838.5,1502.71 842.6,1502.71 846.6,1502.71 850.6,1502.71 854.7,1502.71 858.7,1502.71 862.7,1502.71 866.7,1502.71 870.8,1502.71 874.8,1502.71 878.8,1502.71 882.9,1502.71 886.9,1502.71 890.9,1502.71 895.0,1502.71 899.0,1502.71 903.0,1502.71 907.1,1502.71 911.1,1502.71 915.1,1502.71 919.1,1502.71 923.2,1502.71 927.2,1502.71 931.2,1502.71 935.3,1502.71 939.3,1502.71 943.3,1502.71 947.4,1502.71 951.4,1502.71 955.4,1502.71 959.5,1502.71 963.5,1502.71 967.5,1502.71 971.6,1502.71 975.6,1502.71 979.6,1502.71 983.6,1502.70 987.7,1502.70 991.7,1502.70 995.7,1502.70 999.8,1502.70 1003.8,1502.70 1007.8,1502.70 1011.9,1502.70 1015.9,1502.70 1019.9,1502.70 1024.0,1502.70 1028.0,1502.70 1032.0,1502.70 1036.1,1502.70 1040.1,1502.70 1044.1,1502.70 1048.1,1502.70 1052.2,1502.69 1056.2,1502.69 1060.2,1502.69 1064.3,1502.69 1068.3,1502.69 1072.3,1502.69 1076.4,1502.69 1080.4,1502.69 1084.4,1502.69 1088.5,1502.69 1092.5,1502.69 1096.5,1502.69 1100.5,1502.69 1104.6,1502.68 1108.6,1502.68 1112.6,1502.68 1116.7,1502.68 1120.7,1502.68 1124.7,1502.68 1128.8,1502.68 1132.8,1502.68 1136.8,1502.68 1140.9,1502.68 1144.9,1502.67 1148.9,1502.67 1153.0,1502.67 1157.0,1502.67 1161.0,1502.67 1165.0,1502.67 1169.1,1502.67 1173.1,1502.67 1177.1,1502.67 1181.2,1502.66 1185.2,1502.66 1189.2,1502.66 1193.3,1502.66 1197.3,1502.66 1201.3,1502.66 1205.4,1502.66 1209.4,1502.65 1213.4,1502.65 1217.5,1502.65 1221.5,1502.65 1225.5,1502.65 1229.5,1502.65 1233.6,1502.65 1237.6,1502.64 1241.6,1502.64 1245.7,1502.64 1249.7,1502.64 1253.7,1502.64 1257.8,1502.64 1261.8,1502.63 1265.8,1502.63 1269.9,1502.63 1273.9,1502.63 1277.9,1502.63 1282.0,1502.62 1286.0,1502.62 1290.0,1502.62 1294.0,1502.62 1298.1,1502.62 1302.1,1502.62 1306.1,1502.61 1310.2,1502.61 1314.2,1502.61 1318.2,1502.61 1322.3,1502.60 1326.3,1502.60 1330.3,1502.60 1334.4,1502.60 1338.4,1502.60 1342.4,1502.59 1346.4,1502.59 1350.5,1502.59 1354.5,1502.59 1358.5,1502.58 1362.6,1502.58 1366.6,1502.58 1370.6,1502.58 1374.7,1502.58 1378.7,1502.57 1382.7,1502.57 1386.8,1502.57 1390.8,1502.56 1394.8,1502.56 1398.9,1502.56 1402.9,1502.56 1406.9,1502.55 1410.9,1502.55 1415.0,1502.55 1419.0,1502.55 1423.0,1502.54 1427.1,1502.54 1431.1,1502.54 1435.1,1502.31 1439.2,1501.75 1443.2,1501.07 1447.2,1500.45 1451.3,1499.95 1455.3,1499.47 1459.3,1499.00 1463.4,1498.52 1467.4,1498.02 1471.4,1497.48 1475.4,1496.88 1479.5,1496.22 1483.5,1495.47 1487.5,1494.67 1491.6,1493.84 1495.6,1493.02 1499.6,1492.16 1503.7,1491.25 1507.7,1490.35 1511.7,1489.52 1515.8,1488.80 1519.8,1488.10 1523.8,1487.45 1527.8,1486.86 1531.9,1486.37 1535.9,1486.00 1539.9,1485.68 1544.0,1485.41 1548.0,1485.17 1552.0,1484.96 1556.1,1484.78 1560.1,1484.65 1564.1,1484.54 1568.2,1484.43 1572.2,1484.29 1576.2,1484.09 1580.3,1483.70 1584.3,1483.06 1588.3,1482.24 1592.3,1481.33 1596.4,1480.38 1600.4,1479.45 1604.4,1478.32 1608.5,1477.10 1612.5,1475.91 1616.5,1474.91 1620.6,1474.17 1624.6,1473.55 1628.6,1473.00 1632.7,1472.54 1636.7,1472.15 1640.7,1471.84 1644.8,1471.53 1648.8,1471.26 1652.8,1471.07 1656.8,1471.00 1660.9,1471.00 1664.9,1471.00 1668.9,1471.00 1673.0,1471.00 1677.0,1471.00 1681.0,1471.00 1685.1,1471.00 1689.1,1471.00 1693.1,1471.00 1697.2,1471.00 1701.2,1471.00 1705.2,1471.00 1709.2,1471.00 1713.3,1471.00 1717.3,1471.00 1721.3,1471.00 1725.4,1471.00 1729.4,1471.00 1733.4,1471.00 1737.5,1471.00 1741.5,1471.00 1745.5,1471.00 1749.6,1471.00 1753.6,1471.00 1757.6,1471.00 1761.7,1471.00 1765.7,1471.00 1769.7,1471.00 1773.7,1471.00 1777.8,1471.00 1781.8,1471.00 1785.8,1471.00 1789.9,1471.00 1793.9,1471.00 1797.9,1471.00 1802.0,1471.00 1806.0,1471.00 1810.0,1471.00 1814.1,1471.00 1818.1,1471.00 1822.1,1471.00 1826.2,1471.00 1830.2,1471.00 1834.2,1471.01 1838.2,1471.01 1842.3,1471.01 1846.3,1471.01 1850.3,1471.01 1854.4,1471.01 1858.4,1471.01 1862.4,1471.01 1866.5,1471.01 1870.5,1471.01 1874.5,1471.01 1878.6,1471.01 1882.6,1471.01 1886.6,1471.01 1890.6,1471.01 1894.7,1471.01 1898.7,1471.01 1902.7,1471.01 1906.8,1471.01 1910.8,1471.01 1914.8,1471.01 1918.9,1471.01 1922.9,1471.01 1926.9,1471.01 1931.0,1471.01 1935.0,1471.01 1939.0,1471.01 1943.1,1471.01 1947.1,1471.01 1951.1,1471.01 1955.1,1471.01 1959.2,1471.02 1963.2,1471.02 1967.2,1471.02 1971.3,1471.02 1975.3,1471.02 1979.3,1471.02 1983.4,1471.02 1987.4,1471.02 1991.4,1471.02 1995.5,1471.02 1999.5,1471.02 2003.5,1471.02 2007.6,1471.02 2011.6,1471.02 2015.6,1471.02 2019.6,1471.02 2023.7,1471.03 2027.7,1471.03 2031.7,1471.03 2035.8,1471.03 2039.8,1471.03 2043.8,1471.03 2047.9,1471.03 2051.9,1471.03 2055.9,1471.03 2060.0,1471.03 2064.0,1471.03 2068.0,1471.03 2072.0,1471.04 2076.1,1471.04 2080.1,1471.04 2084.1,1471.04 2088.2,1471.04 2092.2,1471.04 2096.2,1471.04 2100.3,1471.04 2104.3,1471.04 2108.3,1471.05 2112.4,1471.05 2116.4,1471.05 2120.4,1471.05 2124.5,1471.05 2128.5,1471.05 2132.5,1471.05 2136.5,1471.05 2140.6,1471.05 2144.6,1471.06 2148.6,1471.06 2152.7,1471.06 2156.7,1471.06 2160.7,1471.06 2164.8,1471.06 2168.8,1471.06 2172.8,1471.07 2176.9,1471.07 2180.9,1471.07 2184.9,1471.07 2189.0,1471.07 2193.0,1471.07 2197.0,1471.08 2201.0,1471.08 2205.1,1471.08 2209.1,1471.08 2213.1,1471.08 2217.2,1471.08 2221.2,1471.09 2225.2,1471.09 2229.3,1471.09 2233.3,1471.09 2237.3,1471.09 2241.4,1471.10 2245.4,1471.10 2249.4,1471.10 2253.5,1471.10 2257.5,1471.10 2261.5,1471.10 2265.5,1471.11 2269.6,1471.11 2273.6,1471.11 2277.6,1471.11 2281.7,1471.12 2285.7,1471.12 2289.7,1471.12 2293.8,1471.12 2297.8,1471.12 2301.8,1471.13 2305.9,1471.13 2309.9,1471.13 2313.9,1471.13 2317.9,1471.14 2322.0,1471.14 2326.0,1471.14 2330.0,1471.14 2334.1,1471.15 2338.1,1471.15 2342.1,1471.15 2346.2,1471.15 2350.2,1471.16 2354.2,1471.16 2358.3,1471.16 2362.3,1471.17 2366.3,1471.17 2370.4,1471.17 2374.4,1471.17 2378.4,1471.18 2382.4,1471.18 2386.5,1471.18 2390.5,1471.19 2394.5,1471.19 2398.6,1471.19 2402.6,1471.19 2406.6,1471.20 2410.7,1471.20 2414.7,1471.20 2418.7,1471.21 2422.8,1471.21 2426.8,1471.21 2430.8,1471.22 2434.9,1471.22 2438.9,1471.22 2442.9,1471.23 2446.9,1471.23 2451.0,1471.23 2455.0,1471.24 2459.0,1471.24 2463.1,1471.25 2467.1,1471.25 2471.1,1471.25 2475.2,1471.26 2479.2,1471.26 2483.2,1471.26 2487.3,1471.27 2491.3,1471.27 2495.3,1471.28 2499.3,1471.28 2503.4,1471.28 2507.4,1471.29 2511.4,1471.29 2515.5,1471.30 2519.5,1471.30" stroke="#d9561c" stroke-width="6.2"/><polyline points="705.5,1504.92 709.5,1504.92 713.6,1504.92 717.6,1504.92 721.6,1504.92 725.7,1504.92 729.7,1504.92 733.7,1504.92 737.7,1504.92 741.8,1504.92 745.8,1504.92 749.8,1504.92 753.9,1504.92 757.9,1504.92 761.9,1504.92 766.0,1504.92 770.0,1504.92 774.0,1504.92 778.1,1504.92 782.1,1504.92 786.1,1504.92 790.2,1504.92 794.2,1504.92 798.2,1504.92 802.2,1504.92 806.3,1504.91 810.3,1504.91 814.3,1504.91 818.4,1504.91 822.4,1504.91 826.4,1504.91 830.5,1504.91 834.5,1504.91 838.5,1504.91 842.6,1504.91 846.6,1504.91 850.6,1504.91 854.7,1504.91 858.7,1504.91 862.7,1504.91 866.7,1504.91 870.8,1504.91 874.8,1504.91 878.8,1504.91 882.9,1504.91 886.9,1504.91 890.9,1504.91 895.0,1504.90 899.0,1504.90 903.0,1504.90 907.1,1504.90 911.1,1504.90 915.1,1504.90 919.1,1504.90 923.2,1504.90 927.2,1504.90 931.2,1504.90 935.3,1504.90 939.3,1504.90 943.3,1504.89 947.4,1504.89 951.4,1504.89 955.4,1504.89 959.5,1504.89 963.5,1504.89 967.5,1504.89 971.6,1504.89 975.6,1504.89 979.6,1504.88 983.6,1504.88 987.7,1504.88 991.7,1504.88 995.7,1504.88 999.8,1504.88 1003.8,1504.88 1007.8,1504.87 1011.9,1504.87 1015.9,1504.87 1019.9,1504.87 1024.0,1504.87 1028.0,1504.87 1032.0,1504.86 1036.1,1504.86 1040.1,1504.86 1044.1,1504.86 1048.1,1504.86 1052.2,1504.86 1056.2,1504.85 1060.2,1504.85 1064.3,1504.85 1068.3,1504.85 1072.3,1504.84 1076.4,1504.84 1080.4,1504.84 1084.4,1504.84 1088.5,1504.84 1092.5,1504.83 1096.5,1504.83 1100.5,1504.83 1104.6,1504.83 1108.6,1504.82 1112.6,1504.82 1116.7,1504.82 1120.7,1504.82 1124.7,1504.81 1128.8,1504.81 1132.8,1504.81 1136.8,1504.81 1140.9,1504.80 1144.9,1504.80 1148.9,1504.80 1153.0,1504.79 1157.0,1504.79 1161.0,1504.79 1165.0,1504.78 1169.1,1504.78 1173.1,1504.78 1177.1,1504.77 1181.2,1504.77 1185.2,1504.77 1189.2,1504.76 1193.3,1504.76 1197.3,1504.76 1201.3,1504.75 1205.4,1504.75 1209.4,1504.75 1213.4,1504.74 1217.5,1504.74 1221.5,1504.73 1225.5,1504.73 1229.5,1504.73 1233.6,1504.72 1237.6,1504.72 1241.6,1504.71 1245.7,1504.71 1249.7,1504.70 1253.7,1504.70 1257.8,1504.70 1261.8,1504.69 1265.8,1504.69 1269.9,1504.68 1273.9,1504.68 1277.9,1504.67 1282.0,1504.67 1286.0,1504.66 1290.0,1504.66 1294.0,1504.65 1298.1,1504.65 1302.1,1504.64 1306.1,1504.64 1310.2,1504.63 1314.2,1504.63 1318.2,1504.62 1322.3,1504.62 1326.3,1504.61 1330.3,1504.61 1334.4,1504.60 1338.4,1504.59 1342.4,1504.59 1346.4,1504.58 1350.5,1504.58 1354.5,1504.57 1358.5,1504.56 1362.6,1504.56 1366.6,1504.55 1370.6,1504.55 1374.7,1504.54 1378.7,1504.53 1382.7,1504.53 1386.8,1504.52 1390.8,1504.51 1394.8,1504.51 1398.9,1504.50 1402.9,1504.49 1406.9,1504.49 1410.9,1504.48 1415.0,1504.47 1419.0,1504.46 1423.0,1504.46 1427.1,1504.45 1431.1,1504.44 1435.1,1504.44 1439.2,1504.43 1443.2,1504.42 1447.2,1504.41 1451.3,1504.40 1455.3,1504.40 1459.3,1504.39 1463.4,1504.38 1467.4,1504.37 1471.4,1504.36 1475.4,1504.36 1479.5,1504.35 1483.5,1504.34 1487.5,1504.33 1491.6,1504.32 1495.6,1504.20 1499.6,1503.87 1503.7,1503.39 1507.7,1502.81 1511.7,1502.18 1515.8,1501.53 1519.8,1500.93 1523.8,1500.42 1527.8,1500.05 1531.9,1499.86 1535.9,1499.79 1539.9,1499.74 1544.0,1499.69 1548.0,1499.66 1552.0,1499.63 1556.1,1499.61 1560.1,1499.59 1564.1,1499.57 1568.2,1499.55 1572.2,1499.53 1576.2,1499.50 1580.3,1499.46 1584.3,1499.41 1588.3,1499.34 1592.3,1499.27 1596.4,1498.85 1600.4,1497.97 1604.4,1496.88 1608.5,1495.83 1612.5,1495.09 1616.5,1494.83 1620.6,1494.67 1624.6,1494.52 1628.6,1494.40 1632.7,1494.29 1636.7,1494.19 1640.7,1494.12 1644.8,1494.07 1648.8,1494.04 1652.8,1494.03 1656.8,1494.03 1660.9,1494.03 1664.9,1494.03 1668.9,1494.03 1673.0,1494.03 1677.0,1494.03 1681.0,1494.03 1685.1,1494.03 1689.1,1494.03 1693.1,1494.03 1697.2,1494.03 1701.2,1494.03 1705.2,1494.03 1709.2,1494.03 1713.3,1494.03 1717.3,1494.03 1721.3,1494.03 1725.4,1494.03 1729.4,1494.03 1733.4,1494.03 1737.5,1494.03 1741.5,1494.03 1745.5,1494.03 1749.6,1494.03 1753.6,1494.03 1757.6,1494.03 1761.7,1494.03 1765.7,1494.03 1769.7,1494.03 1773.7,1494.03 1777.8,1494.03 1781.8,1494.03 1785.8,1494.03 1789.9,1494.03 1793.9,1494.03 1797.9,1494.03 1802.0,1494.03 1806.0,1494.03 1810.0,1494.03 1814.1,1494.03 1818.1,1494.03 1822.1,1494.03 1826.2,1494.03 1830.2,1494.03 1834.2,1494.03 1838.2,1494.03 1842.3,1494.03 1846.3,1494.03 1850.3,1494.03 1854.4,1494.03 1858.4,1494.03 1862.4,1494.03 1866.5,1494.03 1870.5,1494.03 1874.5,1494.03 1878.6,1494.03 1882.6,1494.03 1886.6,1494.03 1890.6,1494.03 1894.7,1494.03 1898.7,1494.03 1902.7,1494.03 1906.8,1494.03 1910.8,1494.03 1914.8,1494.03 1918.9,1494.03 1922.9,1494.03 1926.9,1494.03 1931.0,1494.03 1935.0,1494.03 1939.0,1494.03 1943.1,1494.03 1947.1,1494.03 1951.1,1494.03 1955.1,1494.03 1959.2,1494.03 1963.2,1494.03 1967.2,1494.03 1971.3,1494.03 1975.3,1494.03 1979.3,1494.03 1983.4,1494.03 1987.4,1494.03 1991.4,1494.03 1995.5,1494.03 1999.5,1494.03 2003.5,1494.03 2007.6,1494.03 2011.6,1494.03 2015.6,1494.03 2019.6,1494.03 2023.7,1494.03 2027.7,1494.03 2031.7,1494.03 2035.8,1494.03 2039.8,1494.03 2043.8,1494.03 2047.9,1494.03 2051.9,1494.03 2055.9,1494.03 2060.0,1494.03 2064.0,1494.03 2068.0,1494.03 2072.0,1494.03 2076.1,1494.03 2080.1,1494.03 2084.1,1494.03 2088.2,1494.03 2092.2,1494.03 2096.2,1494.03 2100.3,1494.03 2104.3,1494.03 2108.3,1494.03 2112.4,1494.03 2116.4,1494.03 2120.4,1494.03 2124.5,1494.03 2128.5,1494.03 2132.5,1494.03 2136.5,1494.03 2140.6,1494.03 2144.6,1494.03 2148.6,1494.03 2152.7,1494.03 2156.7,1494.03 2160.7,1494.03 2164.8,1494.03 2168.8,1494.03 2172.8,1494.03 2176.9,1494.03 2180.9,1494.03 2184.9,1494.03 2189.0,1494.03 2193.0,1494.03 2197.0,1494.03 2201.0,1494.03 2205.1,1494.03 2209.1,1494.03 2213.1,1494.03 2217.2,1494.03 2221.2,1494.03 2225.2,1494.03 2229.3,1494.03 2233.3,1494.03 2237.3,1494.03 2241.4,1494.03 2245.4,1494.03 2249.4,1494.03 2253.5,1494.03 2257.5,1494.03 2261.5,1494.03 2265.5,1494.03 2269.6,1494.03 2273.6,1494.03 2277.6,1494.03 2281.7,1494.03 2285.7,1494.03 2289.7,1494.03 2293.8,1494.03 2297.8,1494.03 2301.8,1494.03 2305.9,1494.03 2309.9,1494.03 2313.9,1494.03 2317.9,1494.03 2322.0,1494.03 2326.0,1494.03 2330.0,1494.03 2334.1,1494.03 2338.1,1494.03 2342.1,1494.03 2346.2,1494.03 2350.2,1494.03 2354.2,1494.03 2358.3,1494.03 2362.3,1494.03 2366.3,1494.03 2370.4,1494.03 2374.4,1494.03 2378.4,1494.03 2382.4,1494.03 2386.5,1494.03 2390.5,1494.03 2394.5,1494.03 2398.6,1494.03 2402.6,1494.03 2406.6,1494.03 2410.7,1494.03 2414.7,1494.03 2418.7,1494.03 2422.8,1494.03 2426.8,1494.03 2430.8,1494.03 2434.9,1494.03 2438.9,1494.03 2442.9,1494.03 2446.9,1494.03 2451.0,1494.03 2455.0,1494.03 2459.0,1494.03 2463.1,1494.03 2467.1,1494.03 2471.1,1494.03 2475.2,1494.03 2479.2,1494.03 2483.2,1494.03 2487.3,1494.03 2491.3,1494.03 2495.3,1494.03 2499.3,1494.03 2503.4,1494.03 2507.4,1494.03 2511.4,1494.03 2515.5,1494.03 2519.5,1494.03" stroke="#000" stroke-width="6" stroke-dasharray="21.2 21.5"/></g><g stroke="#000" stroke-width="2.8"><rect x="705.5" y="856.5" width="1814" height="650" fill="none" stroke="#000" stroke-width="3"/><line x1="707" y1="1388.00" x2="719" y2="1388.00"/><line x1="707" y1="1269.00" x2="719" y2="1269.00"/><line x1="707" y1="1150.00" x2="719" y2="1150.00"/><line x1="707" y1="1031.00" x2="719" y2="1031.00"/><line x1="707" y1="912.00" x2="719" y2="912.00"/><line x1="907.06" y1="1494" x2="907.06" y2="1505"/><line x1="1108.61" y1="1494" x2="1108.61" y2="1505"/><line x1="1310.17" y1="1494" x2="1310.17" y2="1505"/><line x1="1511.72" y1="1494" x2="1511.72" y2="1505"/><line x1="1713.28" y1="1494" x2="1713.28" y2="1505"/><line x1="1914.84" y1="1494" x2="1914.84" y2="1505"/><line x1="2116.39" y1="1494" x2="2116.39" y2="1505"/><line x1="2317.95" y1="1494" x2="2317.95" y2="1505"/></g><line x1="740" y1="1053" x2="826" y2="1053" stroke="#ff0000" stroke-width="5.5"/><line x1="740" y1="1104" x2="826" y2="1104" stroke="#0000ff" stroke-width="5.5" stroke-dasharray="15.8 17.2 18.6 17.1 17.3 20"/><line x1="740" y1="1155.9" x2="826" y2="1155.9" stroke="#808080" stroke-width="5.8" stroke-dasharray="15.9 4.2 8.8 4.8 17.3 4.7 9 4.2 17.1 10"/><line x1="740" y1="1207.5" x2="826" y2="1207.5" stroke="#d9561c" stroke-width="5" stroke-dasharray="4.4 4.2" stroke-dashoffset="2.2"/><line x1="740" y1="1258.4" x2="826" y2="1258.4" stroke="#000" stroke-width="5" stroke-dasharray="15.7 17 17.3 17 17 10"/><g font-family="'Liberation Serif', serif"><text transform="translate(661.07 41.90) scale(1.0950 1)" font-size="51" fill="#000">0</text><text transform="translate(633.14 150.23) scale(1.0950 1)" font-size="51" fill="#000">10</text><text transform="translate(633.14 258.57) scale(1.0950 1)" font-size="51" fill="#000">20</text><text transform="translate(633.14 366.90) scale(1.0950 1)" font-size="51" fill="#000">30</text><text transform="translate(633.14 475.23) scale(1.0950 1)" font-size="51" fill="#000">40</text><text transform="translate(633.14 583.56) scale(1.0950 1)" font-size="51" fill="#000">50</text><text transform="translate(633.14 691.90) scale(1.0950 1)" font-size="51" fill="#000">60</text><text transform="translate(691.54 726.60) scale(1.0950 1)" font-size="51" fill="#000">0</text><text transform="translate(863.80 726.60) scale(1.0950 1)" font-size="51" fill="#000">100</text><text transform="translate(1066.59 726.60) scale(1.0950 1)" font-size="51" fill="#000">200</text><text transform="translate(1268.01 726.60) scale(1.0950 1)" font-size="51" fill="#000">300</text><text transform="translate(1470.39 726.60) scale(1.0950 1)" font-size="51" fill="#000">400</text><text transform="translate(1670.85 726.60) scale(1.0950 1)" font-size="51" fill="#000">500</text><text transform="translate(1872.82 726.60) scale(1.0950 1)" font-size="51" fill="#000">600</text><text transform="translate(2073.82 726.60) scale(1.0950 1)" font-size="51" fill="#000">700</text><text transform="translate(2276.06 726.60) scale(1.0950 1)" font-size="51" fill="#000">800</text><text transform="translate(2477.76 726.60) scale(1.0950 1)" font-size="51" fill="#000">900</text><text transform="translate(1562.60 789.00) scale(1.2000 1)" font-size="48" font-style="italic" fill="#000">x</text><text transform="translate(1619.85 789.00) scale(1.1549 1)" font-size="48" fill="#000">m</text><text transform="translate(1562.60 1617.00) scale(1.2000 1)" font-size="48" font-style="italic" fill="#000">x</text><text transform="translate(1619.85 1617.00) scale(1.1549 1)" font-size="48" fill="#000">m</text><text transform="translate(576.00 397.75) rotate(-90) scale(0.9624 1)" font-size="48" font-style="italic" fill="#000">y</text><text transform="translate(576.00 347.85) rotate(-90) scale(1.1549 1)" font-size="48" fill="#000">m</text><text transform="translate(720.42 82.50) scale(1.1455 1)" font-size="52" fill="#fff">(a)</text><text transform="translate(2641.31 673.20) scale(1.0950 1)" font-size="51" fill="#000">0</text><text transform="translate(2641.31 560.00) scale(1.0950 1)" font-size="51" fill="#000">0.05</text><text transform="translate(2641.31 446.50) scale(1.0950 1)" font-size="51" fill="#000">0.10</text><text transform="translate(2641.31 333.00) scale(1.0950 1)" font-size="51" fill="#000">0.15</text><text transform="translate(2641.31 219.50) scale(1.0950 1)" font-size="51" fill="#000">0.20</text><text transform="translate(2641.31 106.00) scale(1.0950 1)" font-size="51" fill="#000">0.25</text><text transform="translate(2808.00 537.83) rotate(-90) scale(1.1777 1)" font-size="50" fill="#000">Sound field</text><text transform="translate(2808.00 234.19) rotate(-90) scale(1.2586 1)" font-size="50" fill="#000">Pa</text><text transform="translate(660.77 1519.80) scale(1.0950 1)" font-size="51" fill="#000">0</text><text transform="translate(619.70 1400.80) scale(1.0950 1)" font-size="51" fill="#000">0.2</text><text transform="translate(617.51 1281.80) scale(1.0950 1)" font-size="51" fill="#000">0.4</text><text transform="translate(618.34 1162.80) scale(1.0950 1)" font-size="51" fill="#000">0.6</text><text transform="translate(618.88 1043.80) scale(1.0950 1)" font-size="51" fill="#000">0.8</text><text transform="translate(618.88 924.80) scale(1.0950 1)" font-size="51" fill="#000">1.0</text><text transform="translate(691.54 1554.40) scale(1.0950 1)" font-size="51" fill="#000">0</text><text transform="translate(863.80 1554.40) scale(1.0950 1)" font-size="51" fill="#000">100</text><text transform="translate(1066.59 1554.40) scale(1.0950 1)" font-size="51" fill="#000">200</text><text transform="translate(1268.01 1554.40) scale(1.0950 1)" font-size="51" fill="#000">300</text><text transform="translate(1470.39 1554.40) scale(1.0950 1)" font-size="51" fill="#000">400</text><text transform="translate(1670.85 1554.40) scale(1.0950 1)" font-size="51" fill="#000">500</text><text transform="translate(1872.82 1554.40) scale(1.0950 1)" font-size="51" fill="#000">600</text><text transform="translate(2073.82 1554.40) scale(1.0950 1)" font-size="51" fill="#000">700</text><text transform="translate(2276.06 1554.40) scale(1.0950 1)" font-size="51" fill="#000">800</text><text transform="translate(2477.76 1554.40) scale(1.0950 1)" font-size="51" fill="#000">900</text><text transform="translate(575.90 1398.80) rotate(-90) scale(1.2025 1)" font-size="50" fill="#000">Modal amplitudes</text><text transform="translate(718.75 978.50) scale(1.1768 1)" font-size="52" fill="#000">(b)</text><text transform="translate(844.21 1065.00) scale(1.1286 1)" font-size="50" fill="#000">Mode</text><text transform="translate(996.17 1065.00) scale(1.0286 1)" font-size="50" fill="#000">1</text><text transform="translate(844.21 1116.25) scale(1.1286 1)" font-size="50" fill="#000">Mode</text><text transform="translate(996.28 1116.25) scale(1.0750 1)" font-size="50" fill="#000">2</text><text transform="translate(844.21 1167.50) scale(1.1286 1)" font-size="50" fill="#000">Mode</text><text transform="translate(995.29 1167.50) scale(1.0829 1)" font-size="50" fill="#000">3</text><text transform="translate(844.21 1218.75) scale(1.1286 1)" font-size="50" fill="#000">Mode</text><text transform="translate(996.59 1218.75) scale(1.0065 1)" font-size="50" fill="#000">4</text><text transform="translate(844.21 1270.00) scale(1.1286 1)" font-size="50" fill="#000">Mode</text><text transform="translate(995.60 1270.00) scale(1.0350 1)" font-size="50" fill="#000">5</text></g></svg></body></html>
